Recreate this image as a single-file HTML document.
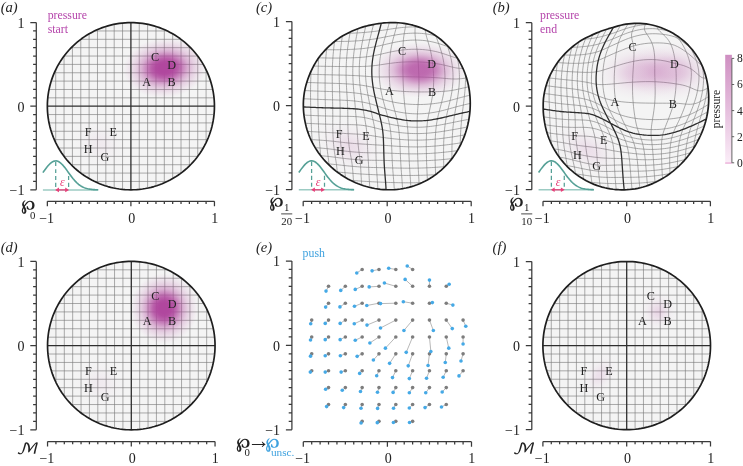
<!DOCTYPE html>
<html><head><meta charset="utf-8"><title>figure</title><style>html,body{margin:0;padding:0;background:#fff}svg{display:block}</style></head><body>
<svg width="743" height="466" viewBox="0 0 743 466">
<style>.tk{font-family:'Liberation Serif', 'DejaVu Serif', serif;font-size:14px;fill:#222}.lb{font-family:'Liberation Serif', 'DejaVu Serif', serif;font-size:12.2px;fill:#222}.pl{font-family:'Liberation Serif', 'DejaVu Serif', serif;font-size:14.6px;font-style:italic;fill:#222}.mg{font-family:'Liberation Serif', 'DejaVu Serif', serif;font-size:11.8px;fill:#b545ab}.sm{font-family:'Liberation Serif', 'DejaVu Serif', serif;font-size:10.8px;fill:#222}</style>
<rect width="743" height="466" fill="#fff"/>
<radialGradient id="g0"><stop offset="0" stop-color="#b0479e" stop-opacity="1.000"/><stop offset="0.14" stop-color="#b0479e" stop-opacity="1.000"/><stop offset="0.22" stop-color="#b0479e" stop-opacity="0.970"/><stop offset="0.33" stop-color="#b0479e" stop-opacity="0.840"/><stop offset="0.44" stop-color="#b0479e" stop-opacity="0.620"/><stop offset="0.55" stop-color="#b0479e" stop-opacity="0.400"/><stop offset="0.69" stop-color="#b0479e" stop-opacity="0.210"/><stop offset="0.83" stop-color="#b0479e" stop-opacity="0.095"/><stop offset="0.94" stop-color="#b0479e" stop-opacity="0.030"/><stop offset="1" stop-color="#b0479e" stop-opacity="0.000"/></radialGradient>
<radialGradient id="g1"><stop offset="0" stop-color="#b0479e" stop-opacity="0.060"/><stop offset="0.08" stop-color="#b0479e" stop-opacity="0.058"/><stop offset="0.17" stop-color="#b0479e" stop-opacity="0.053"/><stop offset="0.25" stop-color="#b0479e" stop-opacity="0.045"/><stop offset="0.33" stop-color="#b0479e" stop-opacity="0.036"/><stop offset="0.42" stop-color="#b0479e" stop-opacity="0.027"/><stop offset="0.5" stop-color="#b0479e" stop-opacity="0.019"/><stop offset="0.58" stop-color="#b0479e" stop-opacity="0.013"/><stop offset="0.67" stop-color="#b0479e" stop-opacity="0.008"/><stop offset="0.75" stop-color="#b0479e" stop-opacity="0.005"/><stop offset="0.83" stop-color="#b0479e" stop-opacity="0.003"/><stop offset="0.92" stop-color="#b0479e" stop-opacity="0.001"/><stop offset="1" stop-color="#b0479e" stop-opacity="0.000"/></radialGradient>
<clipPath id="clip_a"><path d="M214.45 106.2 L214.4 103.28 L214.25 100.37 L213.99 97.46 L213.64 94.57 L213.18 91.68 L212.62 88.82 L211.97 85.98 L211.21 83.16 L210.36 80.37 L209.41 77.61 L208.37 74.88 L207.23 72.2 L205.99 69.55 L204.67 66.95 L203.26 64.4 L201.75 61.9 L200.17 59.45 L198.49 57.06 L196.74 54.73 L194.9 52.46 L192.99 50.26 L191 48.13 L188.94 46.06 L186.81 44.07 L184.6 42.16 L182.34 40.32 L180.01 38.57 L177.62 36.89 L175.17 35.3 L172.68 33.8 L170.12 32.39 L167.53 31.06 L164.88 29.83 L162.2 28.69 L159.48 27.64 L156.72 26.69 L153.93 25.84 L151.11 25.08 L148.27 24.43 L145.41 23.87 L142.53 23.41 L139.63 23.06 L136.73 22.8 L133.82 22.65 L130.9 22.6 L127.98 22.65 L125.07 22.8 L122.17 23.06 L119.27 23.41 L116.39 23.87 L113.53 24.43 L110.69 25.08 L107.87 25.84 L105.08 26.69 L102.32 27.64 L99.6 28.69 L96.92 29.83 L94.27 31.06 L91.68 32.39 L89.13 33.8 L86.63 35.3 L84.18 36.89 L81.79 38.57 L79.46 40.32 L77.2 42.16 L74.99 44.07 L72.86 46.06 L70.8 48.13 L68.81 50.26 L66.9 52.46 L65.06 54.73 L63.31 57.06 L61.63 59.45 L60.05 61.9 L58.54 64.4 L57.13 66.95 L55.81 69.55 L54.57 72.2 L53.43 74.88 L52.39 77.61 L51.44 80.37 L50.59 83.16 L49.83 85.98 L49.18 88.82 L48.62 91.68 L48.16 94.57 L47.81 97.46 L47.55 100.37 L47.4 103.28 L47.35 106.2 L47.4 109.12 L47.55 112.03 L47.81 114.94 L48.16 117.83 L48.62 120.72 L49.18 123.58 L49.83 126.42 L50.59 129.24 L51.44 132.03 L52.39 134.79 L53.43 137.52 L54.57 140.2 L55.81 142.85 L57.13 145.45 L58.54 148 L60.05 150.5 L61.63 152.95 L63.31 155.34 L65.06 157.67 L66.9 159.94 L68.81 162.14 L70.8 164.27 L72.86 166.34 L74.99 168.33 L77.2 170.24 L79.46 172.08 L81.79 173.83 L84.18 175.51 L86.63 177.1 L89.12 178.6 L91.68 180.01 L94.27 181.34 L96.92 182.57 L99.6 183.71 L102.32 184.76 L105.08 185.71 L107.87 186.56 L110.69 187.32 L113.53 187.97 L116.39 188.53 L119.27 188.99 L122.17 189.34 L125.07 189.6 L127.98 189.75 L130.9 189.8 L133.82 189.75 L136.73 189.6 L139.63 189.34 L142.53 188.99 L145.41 188.53 L148.27 187.97 L151.11 187.32 L153.93 186.56 L156.72 185.71 L159.48 184.76 L162.2 183.71 L164.88 182.57 L167.53 181.34 L170.12 180.01 L172.68 178.6 L175.17 177.1 L177.62 175.51 L180.01 173.83 L182.34 172.08 L184.6 170.24 L186.81 168.33 L188.94 166.34 L191 164.27 L192.99 162.14 L194.9 159.94 L196.74 157.67 L198.49 155.34 L200.17 152.95 L201.75 150.5 L203.26 148 L204.67 145.45 L205.99 142.85 L207.23 140.2 L208.37 137.52 L209.41 134.79 L210.36 132.03 L211.21 129.24 L211.97 126.42 L212.62 123.58 L213.18 120.72 L213.64 117.83 L213.99 114.94 L214.25 112.03 L214.4 109.12Z"/></clipPath>
<path d="M214.45 106.2 L214.4 103.28 L214.25 100.37 L213.99 97.46 L213.64 94.57 L213.18 91.68 L212.62 88.82 L211.97 85.98 L211.21 83.16 L210.36 80.37 L209.41 77.61 L208.37 74.88 L207.23 72.2 L205.99 69.55 L204.67 66.95 L203.26 64.4 L201.75 61.9 L200.17 59.45 L198.49 57.06 L196.74 54.73 L194.9 52.46 L192.99 50.26 L191 48.13 L188.94 46.06 L186.81 44.07 L184.6 42.16 L182.34 40.32 L180.01 38.57 L177.62 36.89 L175.17 35.3 L172.68 33.8 L170.12 32.39 L167.53 31.06 L164.88 29.83 L162.2 28.69 L159.48 27.64 L156.72 26.69 L153.93 25.84 L151.11 25.08 L148.27 24.43 L145.41 23.87 L142.53 23.41 L139.63 23.06 L136.73 22.8 L133.82 22.65 L130.9 22.6 L127.98 22.65 L125.07 22.8 L122.17 23.06 L119.27 23.41 L116.39 23.87 L113.53 24.43 L110.69 25.08 L107.87 25.84 L105.08 26.69 L102.32 27.64 L99.6 28.69 L96.92 29.83 L94.27 31.06 L91.68 32.39 L89.13 33.8 L86.63 35.3 L84.18 36.89 L81.79 38.57 L79.46 40.32 L77.2 42.16 L74.99 44.07 L72.86 46.06 L70.8 48.13 L68.81 50.26 L66.9 52.46 L65.06 54.73 L63.31 57.06 L61.63 59.45 L60.05 61.9 L58.54 64.4 L57.13 66.95 L55.81 69.55 L54.57 72.2 L53.43 74.88 L52.39 77.61 L51.44 80.37 L50.59 83.16 L49.83 85.98 L49.18 88.82 L48.62 91.68 L48.16 94.57 L47.81 97.46 L47.55 100.37 L47.4 103.28 L47.35 106.2 L47.4 109.12 L47.55 112.03 L47.81 114.94 L48.16 117.83 L48.62 120.72 L49.18 123.58 L49.83 126.42 L50.59 129.24 L51.44 132.03 L52.39 134.79 L53.43 137.52 L54.57 140.2 L55.81 142.85 L57.13 145.45 L58.54 148 L60.05 150.5 L61.63 152.95 L63.31 155.34 L65.06 157.67 L66.9 159.94 L68.81 162.14 L70.8 164.27 L72.86 166.34 L74.99 168.33 L77.2 170.24 L79.46 172.08 L81.79 173.83 L84.18 175.51 L86.63 177.1 L89.12 178.6 L91.68 180.01 L94.27 181.34 L96.92 182.57 L99.6 183.71 L102.32 184.76 L105.08 185.71 L107.87 186.56 L110.69 187.32 L113.53 187.97 L116.39 188.53 L119.27 188.99 L122.17 189.34 L125.07 189.6 L127.98 189.75 L130.9 189.8 L133.82 189.75 L136.73 189.6 L139.63 189.34 L142.53 188.99 L145.41 188.53 L148.27 187.97 L151.11 187.32 L153.93 186.56 L156.72 185.71 L159.48 184.76 L162.2 183.71 L164.88 182.57 L167.53 181.34 L170.12 180.01 L172.68 178.6 L175.17 177.1 L177.62 175.51 L180.01 173.83 L182.34 172.08 L184.6 170.24 L186.81 168.33 L188.94 166.34 L191 164.27 L192.99 162.14 L194.9 159.94 L196.74 157.67 L198.49 155.34 L200.17 152.95 L201.75 150.5 L203.26 148 L204.67 145.45 L205.99 142.85 L207.23 140.2 L208.37 137.52 L209.41 134.79 L210.36 132.03 L211.21 129.24 L211.97 126.42 L212.62 123.58 L213.18 120.72 L213.64 117.83 L213.99 114.94 L214.25 112.03 L214.4 109.12Z" fill="#f4f4f4"/>
<path d="M55.71 142.64 L55.71 69.76 M94.48 181.44 L167.32 181.44 M64.06 156.36 L64.06 56.04 M80.77 173.08 L181.03 173.08 M72.42 165.9 L72.42 46.5 M71.23 164.72 L190.57 164.72 M80.77 173.08 L80.77 39.32 M64.06 156.36 L197.74 156.36 M89.12 178.6 L89.12 33.8 M58.54 148 L203.26 148 M97.48 182.82 L97.48 29.58 M54.33 139.64 L207.47 139.64 M105.84 185.95 L105.84 26.45 M51.2 131.28 L210.6 131.28 M114.19 188.11 L114.19 24.29 M49.04 122.92 L212.76 122.92 M122.55 189.38 L122.55 23.02 M47.77 114.56 L214.03 114.56 M139.25 189.38 L139.25 23.02 M47.77 97.84 L214.03 97.84 M147.61 188.11 L147.61 24.29 M49.04 89.48 L212.76 89.48 M155.97 185.95 L155.97 26.45 M51.2 81.12 L210.6 81.12 M164.32 182.82 L164.32 29.58 M54.33 72.76 L207.47 72.76 M172.68 178.6 L172.68 33.8 M58.54 64.4 L203.26 64.4 M181.03 173.08 L181.03 39.32 M64.06 56.04 L197.74 56.04 M189.38 165.9 L189.38 46.5 M71.23 47.68 L190.57 47.68 M197.74 156.36 L197.74 56.04 M80.77 39.32 L181.03 39.32 M206.09 142.64 L206.09 69.76 M94.48 30.96 L167.32 30.96" fill="none" stroke="#787878" stroke-width="0.62"/>
<g clip-path="url(#clip_a)">
<ellipse cx="164.74" cy="67.99" rx="42" ry="30" fill="url(#g0)" transform="rotate(-5 164.74 67.99)"/>
<ellipse cx="99.99" cy="143.82" rx="30.08" ry="25.08" fill="url(#g1)" transform="rotate(30 99.99 143.82)"/>
</g>
<path d="M130.9 189.8 L130.9 22.6 M47.35 106.2 L214.45 106.2" fill="none" stroke="#2e2e2e" stroke-width="1.3"/>
<path d="M214.45 106.2 L214.4 103.28 L214.25 100.37 L213.99 97.46 L213.64 94.57 L213.18 91.68 L212.62 88.82 L211.97 85.98 L211.21 83.16 L210.36 80.37 L209.41 77.61 L208.37 74.88 L207.23 72.2 L205.99 69.55 L204.67 66.95 L203.26 64.4 L201.75 61.9 L200.17 59.45 L198.49 57.06 L196.74 54.73 L194.9 52.46 L192.99 50.26 L191 48.13 L188.94 46.06 L186.81 44.07 L184.6 42.16 L182.34 40.32 L180.01 38.57 L177.62 36.89 L175.17 35.3 L172.68 33.8 L170.12 32.39 L167.53 31.06 L164.88 29.83 L162.2 28.69 L159.48 27.64 L156.72 26.69 L153.93 25.84 L151.11 25.08 L148.27 24.43 L145.41 23.87 L142.53 23.41 L139.63 23.06 L136.73 22.8 L133.82 22.65 L130.9 22.6 L127.98 22.65 L125.07 22.8 L122.17 23.06 L119.27 23.41 L116.39 23.87 L113.53 24.43 L110.69 25.08 L107.87 25.84 L105.08 26.69 L102.32 27.64 L99.6 28.69 L96.92 29.83 L94.27 31.06 L91.68 32.39 L89.13 33.8 L86.63 35.3 L84.18 36.89 L81.79 38.57 L79.46 40.32 L77.2 42.16 L74.99 44.07 L72.86 46.06 L70.8 48.13 L68.81 50.26 L66.9 52.46 L65.06 54.73 L63.31 57.06 L61.63 59.45 L60.05 61.9 L58.54 64.4 L57.13 66.95 L55.81 69.55 L54.57 72.2 L53.43 74.88 L52.39 77.61 L51.44 80.37 L50.59 83.16 L49.83 85.98 L49.18 88.82 L48.62 91.68 L48.16 94.57 L47.81 97.46 L47.55 100.37 L47.4 103.28 L47.35 106.2 L47.4 109.12 L47.55 112.03 L47.81 114.94 L48.16 117.83 L48.62 120.72 L49.18 123.58 L49.83 126.42 L50.59 129.24 L51.44 132.03 L52.39 134.79 L53.43 137.52 L54.57 140.2 L55.81 142.85 L57.13 145.45 L58.54 148 L60.05 150.5 L61.63 152.95 L63.31 155.34 L65.06 157.67 L66.9 159.94 L68.81 162.14 L70.8 164.27 L72.86 166.34 L74.99 168.33 L77.2 170.24 L79.46 172.08 L81.79 173.83 L84.18 175.51 L86.63 177.1 L89.12 178.6 L91.68 180.01 L94.27 181.34 L96.92 182.57 L99.6 183.71 L102.32 184.76 L105.08 185.71 L107.87 186.56 L110.69 187.32 L113.53 187.97 L116.39 188.53 L119.27 188.99 L122.17 189.34 L125.07 189.6 L127.98 189.75 L130.9 189.8 L133.82 189.75 L136.73 189.6 L139.63 189.34 L142.53 188.99 L145.41 188.53 L148.27 187.97 L151.11 187.32 L153.93 186.56 L156.72 185.71 L159.48 184.76 L162.2 183.71 L164.88 182.57 L167.53 181.34 L170.12 180.01 L172.68 178.6 L175.17 177.1 L177.62 175.51 L180.01 173.83 L182.34 172.08 L184.6 170.24 L186.81 168.33 L188.94 166.34 L191 164.27 L192.99 162.14 L194.9 159.94 L196.74 157.67 L198.49 155.34 L200.17 152.95 L201.75 150.5 L203.26 148 L204.67 145.45 L205.99 142.85 L207.23 140.2 L208.37 137.52 L209.41 134.79 L210.36 132.03 L211.21 129.24 L211.97 126.42 L212.62 123.58 L213.18 120.72 L213.64 117.83 L213.99 114.94 L214.25 112.03 L214.4 109.12Z" fill="none" stroke="#1e1e1e" stroke-width="1.7" stroke-linejoin="round"/>
<text x="146.61" y="85.72" text-anchor="middle" class="lb">A</text>
<text x="171.68" y="85.72" text-anchor="middle" class="lb">B</text>
<text x="154.97" y="60.64" text-anchor="middle" class="lb">C</text>
<text x="171.68" y="69" text-anchor="middle" class="lb">D</text>
<text x="88.12" y="135.88" text-anchor="middle" class="lb">F</text>
<text x="113.19" y="135.88" text-anchor="middle" class="lb">E</text>
<text x="88.12" y="152.6" text-anchor="middle" class="lb">H</text>
<text x="104.84" y="160.96" text-anchor="middle" class="lb">G</text>
<path d="M36.3 22.6 V189.8 M36.3 189.8 h-6 M36.3 181.44 h-3.2 M36.3 173.08 h-3.2 M36.3 164.72 h-3.2 M36.3 156.36 h-3.2 M36.3 148 h-3.2 M36.3 139.64 h-3.2 M36.3 131.28 h-3.2 M36.3 122.92 h-3.2 M36.3 114.56 h-3.2 M36.3 106.2 h-6 M36.3 97.84 h-3.2 M36.3 89.48 h-3.2 M36.3 81.12 h-3.2 M36.3 72.76 h-3.2 M36.3 64.4 h-3.2 M36.3 56.04 h-3.2 M36.3 47.68 h-3.2 M36.3 39.32 h-3.2 M36.3 30.96 h-3.2 M36.3 22.6 h-6 M47.35 201.3 H214.45 M47.35 201.3 v5 M55.71 201.3 v2.8 M64.06 201.3 v2.8 M72.42 201.3 v2.8 M80.77 201.3 v2.8 M89.12 201.3 v2.8 M97.48 201.3 v2.8 M105.84 201.3 v2.8 M114.19 201.3 v2.8 M122.55 201.3 v2.8 M130.9 201.3 v5 M139.25 201.3 v2.8 M147.61 201.3 v2.8 M155.97 201.3 v2.8 M164.32 201.3 v2.8 M172.68 201.3 v2.8 M181.03 201.3 v2.8 M189.38 201.3 v2.8 M197.74 201.3 v2.8 M206.09 201.3 v2.8 M214.45 201.3 v5" fill="none" stroke="#3a3a3a" stroke-width="1.25"/>
<text x="24.5" y="28" text-anchor="end" class="tk">1</text>
<text x="214.75" y="222.9" text-anchor="middle" class="tk">1</text>
<text x="24.5" y="111.6" text-anchor="end" class="tk">0</text>
<text x="131.8" y="222.9" text-anchor="middle" class="tk">0</text>
<text x="24.5" y="195.2" text-anchor="end" class="tk">−1</text>
<text x="46.65" y="222.9" text-anchor="middle" class="tk">−1</text>
<path d="M42.91 189.9 H98.21" stroke="#9ccbc3" stroke-width="1.5" fill="none"/>
<path d="M42.91 172.59 L43.84 171.28 L44.78 169.99 L45.72 168.72 L46.65 167.49 L47.59 166.33 L48.53 165.24 L49.47 164.25 L50.4 163.36 L51.34 162.59 L52.28 161.95 L53.22 161.46 L54.15 161.12 L55.09 160.93 L56.03 160.91 L56.96 161.04 L57.9 161.34 L58.84 161.78 L59.78 162.37 L60.71 163.1 L61.65 163.96 L62.59 164.92 L63.53 165.98 L64.46 167.12 L65.4 168.33 L66.34 169.59 L67.27 170.88 L68.21 172.18 L69.15 173.49 L70.09 174.78 L71.02 176.05 L71.96 177.28 L72.9 178.47 L73.84 179.6 L74.77 180.67 L75.71 181.68 L76.65 182.61 L77.58 183.48 L78.52 184.27 L79.46 185 L80.4 185.65 L81.33 186.24 L82.27 186.76 L83.21 187.22 L84.15 187.63 L85.08 187.99 L86.02 188.3 L86.96 188.56 L87.89 188.79 L88.83 188.99 L89.77 189.15 L90.71 189.29 L91.64 189.4 L92.58 189.5 L93.52 189.58 L94.46 189.64 L95.39 189.7 L96.33 189.74 L97.27 189.77 L98.21 189.8" stroke="#55a096" stroke-width="1.6" fill="none"/>
<path d="M55.71 161.9 V166 M55.71 169.2 V173.1 M55.71 175.9 V180 M55.71 182.8 V186.9 M68.61 175.9 V180 M68.61 182.8 V186.9" stroke="#55a096" stroke-width="1.25" fill="none"/>
<path d="M57.11 189.9 H67.11" stroke="#e8417a" stroke-width="1.3" fill="none"/>
<path d="M55.11 189.9 l3.9 -2.3 v4.6z M69.11 189.9 l-3.9 -2.3 v4.6z" fill="#e8417a"/>
<text x="62.31" y="186.2" text-anchor="middle" font-family="'Liberation Serif', 'DejaVu Serif', serif" font-style="italic" font-size="11.8" fill="#e8417a">ε</text>
<radialGradient id="g2"><stop offset="0" stop-color="#b0479e" stop-opacity="1.000"/><stop offset="0.14" stop-color="#b0479e" stop-opacity="1.000"/><stop offset="0.22" stop-color="#b0479e" stop-opacity="0.970"/><stop offset="0.33" stop-color="#b0479e" stop-opacity="0.840"/><stop offset="0.44" stop-color="#b0479e" stop-opacity="0.620"/><stop offset="0.55" stop-color="#b0479e" stop-opacity="0.400"/><stop offset="0.69" stop-color="#b0479e" stop-opacity="0.210"/><stop offset="0.83" stop-color="#b0479e" stop-opacity="0.095"/><stop offset="0.94" stop-color="#b0479e" stop-opacity="0.030"/><stop offset="1" stop-color="#b0479e" stop-opacity="0.000"/></radialGradient>
<radialGradient id="g3"><stop offset="0" stop-color="#b0479e" stop-opacity="0.060"/><stop offset="0.08" stop-color="#b0479e" stop-opacity="0.058"/><stop offset="0.17" stop-color="#b0479e" stop-opacity="0.053"/><stop offset="0.25" stop-color="#b0479e" stop-opacity="0.045"/><stop offset="0.33" stop-color="#b0479e" stop-opacity="0.036"/><stop offset="0.42" stop-color="#b0479e" stop-opacity="0.027"/><stop offset="0.5" stop-color="#b0479e" stop-opacity="0.019"/><stop offset="0.58" stop-color="#b0479e" stop-opacity="0.013"/><stop offset="0.67" stop-color="#b0479e" stop-opacity="0.008"/><stop offset="0.75" stop-color="#b0479e" stop-opacity="0.005"/><stop offset="0.83" stop-color="#b0479e" stop-opacity="0.003"/><stop offset="0.92" stop-color="#b0479e" stop-opacity="0.001"/><stop offset="1" stop-color="#b0479e" stop-opacity="0.000"/></radialGradient>
<clipPath id="clip_d"><path d="M215.05 345.6 L215 342.66 L214.85 339.73 L214.59 336.8 L214.23 333.88 L213.78 330.98 L213.22 328.09 L212.56 325.23 L211.81 322.39 L210.95 319.58 L210 316.8 L208.95 314.06 L207.81 311.35 L206.57 308.69 L205.25 306.07 L203.83 303.5 L202.32 300.98 L200.73 298.52 L199.06 296.11 L197.3 293.76 L195.46 291.48 L193.54 289.26 L191.54 287.11 L189.48 285.03 L187.34 283.03 L185.13 281.1 L182.86 279.25 L180.53 277.48 L178.13 275.8 L175.68 274.19 L173.18 272.68 L170.62 271.26 L168.01 269.92 L165.36 268.68 L162.67 267.53 L159.94 266.48 L157.18 265.52 L154.38 264.66 L151.56 263.9 L148.71 263.24 L145.84 262.68 L142.96 262.22 L140.05 261.86 L137.14 261.61 L134.22 261.45 L131.3 261.4 L128.38 261.45 L125.46 261.61 L122.55 261.86 L119.64 262.22 L116.76 262.68 L113.89 263.24 L111.04 263.9 L108.22 264.66 L105.42 265.52 L102.66 266.48 L99.93 267.53 L97.24 268.68 L94.59 269.92 L91.98 271.26 L89.43 272.68 L86.92 274.19 L84.47 275.8 L82.07 277.48 L79.74 279.25 L77.47 281.1 L75.26 283.03 L73.12 285.03 L71.06 287.11 L69.06 289.26 L67.14 291.48 L65.3 293.76 L63.54 296.11 L61.87 298.52 L60.28 300.98 L58.77 303.5 L57.35 306.07 L56.03 308.69 L54.79 311.35 L53.65 314.06 L52.6 316.8 L51.65 319.58 L50.79 322.39 L50.04 325.23 L49.38 328.09 L48.82 330.98 L48.37 333.88 L48.01 336.8 L47.75 339.73 L47.6 342.66 L47.55 345.6 L47.6 348.54 L47.75 351.47 L48.01 354.4 L48.37 357.32 L48.82 360.22 L49.38 363.11 L50.04 365.97 L50.79 368.81 L51.65 371.62 L52.6 374.4 L53.65 377.14 L54.79 379.85 L56.03 382.51 L57.35 385.13 L58.77 387.7 L60.28 390.22 L61.87 392.68 L63.54 395.09 L65.3 397.44 L67.14 399.72 L69.06 401.94 L71.06 404.09 L73.12 406.17 L75.26 408.17 L77.47 410.1 L79.74 411.95 L82.07 413.72 L84.47 415.4 L86.92 417.01 L89.42 418.52 L91.98 419.94 L94.59 421.28 L97.24 422.52 L99.93 423.67 L102.66 424.72 L105.42 425.68 L108.22 426.54 L111.04 427.3 L113.89 427.96 L116.76 428.52 L119.64 428.98 L122.55 429.34 L125.46 429.59 L128.38 429.75 L131.3 429.8 L134.22 429.75 L137.14 429.59 L140.05 429.34 L142.96 428.98 L145.84 428.52 L148.71 427.96 L151.56 427.3 L154.38 426.54 L157.18 425.68 L159.94 424.72 L162.67 423.67 L165.36 422.52 L168.01 421.28 L170.62 419.94 L173.18 418.52 L175.68 417.01 L178.13 415.4 L180.53 413.72 L182.86 411.95 L185.13 410.1 L187.34 408.17 L189.48 406.17 L191.54 404.09 L193.54 401.94 L195.46 399.72 L197.3 397.44 L199.06 395.09 L200.73 392.68 L202.32 390.22 L203.83 387.7 L205.25 385.13 L206.57 382.51 L207.81 379.85 L208.95 377.14 L210 374.4 L210.95 371.62 L211.81 368.81 L212.56 365.97 L213.22 363.11 L213.78 360.22 L214.23 357.32 L214.59 354.4 L214.85 351.47 L215 348.54Z"/></clipPath>
<path d="M215.05 345.6 L215 342.66 L214.85 339.73 L214.59 336.8 L214.23 333.88 L213.78 330.98 L213.22 328.09 L212.56 325.23 L211.81 322.39 L210.95 319.58 L210 316.8 L208.95 314.06 L207.81 311.35 L206.57 308.69 L205.25 306.07 L203.83 303.5 L202.32 300.98 L200.73 298.52 L199.06 296.11 L197.3 293.76 L195.46 291.48 L193.54 289.26 L191.54 287.11 L189.48 285.03 L187.34 283.03 L185.13 281.1 L182.86 279.25 L180.53 277.48 L178.13 275.8 L175.68 274.19 L173.18 272.68 L170.62 271.26 L168.01 269.92 L165.36 268.68 L162.67 267.53 L159.94 266.48 L157.18 265.52 L154.38 264.66 L151.56 263.9 L148.71 263.24 L145.84 262.68 L142.96 262.22 L140.05 261.86 L137.14 261.61 L134.22 261.45 L131.3 261.4 L128.38 261.45 L125.46 261.61 L122.55 261.86 L119.64 262.22 L116.76 262.68 L113.89 263.24 L111.04 263.9 L108.22 264.66 L105.42 265.52 L102.66 266.48 L99.93 267.53 L97.24 268.68 L94.59 269.92 L91.98 271.26 L89.43 272.68 L86.92 274.19 L84.47 275.8 L82.07 277.48 L79.74 279.25 L77.47 281.1 L75.26 283.03 L73.12 285.03 L71.06 287.11 L69.06 289.26 L67.14 291.48 L65.3 293.76 L63.54 296.11 L61.87 298.52 L60.28 300.98 L58.77 303.5 L57.35 306.07 L56.03 308.69 L54.79 311.35 L53.65 314.06 L52.6 316.8 L51.65 319.58 L50.79 322.39 L50.04 325.23 L49.38 328.09 L48.82 330.98 L48.37 333.88 L48.01 336.8 L47.75 339.73 L47.6 342.66 L47.55 345.6 L47.6 348.54 L47.75 351.47 L48.01 354.4 L48.37 357.32 L48.82 360.22 L49.38 363.11 L50.04 365.97 L50.79 368.81 L51.65 371.62 L52.6 374.4 L53.65 377.14 L54.79 379.85 L56.03 382.51 L57.35 385.13 L58.77 387.7 L60.28 390.22 L61.87 392.68 L63.54 395.09 L65.3 397.44 L67.14 399.72 L69.06 401.94 L71.06 404.09 L73.12 406.17 L75.26 408.17 L77.47 410.1 L79.74 411.95 L82.07 413.72 L84.47 415.4 L86.92 417.01 L89.42 418.52 L91.98 419.94 L94.59 421.28 L97.24 422.52 L99.93 423.67 L102.66 424.72 L105.42 425.68 L108.22 426.54 L111.04 427.3 L113.89 427.96 L116.76 428.52 L119.64 428.98 L122.55 429.34 L125.46 429.59 L128.38 429.75 L131.3 429.8 L134.22 429.75 L137.14 429.59 L140.05 429.34 L142.96 428.98 L145.84 428.52 L148.71 427.96 L151.56 427.3 L154.38 426.54 L157.18 425.68 L159.94 424.72 L162.67 423.67 L165.36 422.52 L168.01 421.28 L170.62 419.94 L173.18 418.52 L175.68 417.01 L178.13 415.4 L180.53 413.72 L182.86 411.95 L185.13 410.1 L187.34 408.17 L189.48 406.17 L191.54 404.09 L193.54 401.94 L195.46 399.72 L197.3 397.44 L199.06 395.09 L200.73 392.68 L202.32 390.22 L203.83 387.7 L205.25 385.13 L206.57 382.51 L207.81 379.85 L208.95 377.14 L210 374.4 L210.95 371.62 L211.81 368.81 L212.56 365.97 L213.22 363.11 L213.78 360.22 L214.23 357.32 L214.59 354.4 L214.85 351.47 L215 348.54Z" fill="#f4f4f4"/>
<path d="M55.93 382.3 L55.93 308.9 M94.79 421.38 L167.81 421.38 M64.3 396.12 L64.3 295.08 M81.05 412.96 L181.55 412.96 M72.68 405.73 L72.68 285.47 M71.49 404.54 L191.11 404.54 M81.05 412.96 L81.05 278.24 M64.3 396.12 L198.3 396.12 M89.43 418.52 L89.43 272.68 M58.77 387.7 L203.83 387.7 M97.8 422.77 L97.8 268.43 M54.54 379.28 L208.06 379.28 M106.18 425.92 L106.18 265.28 M51.41 370.86 L211.19 370.86 M114.55 428.1 L114.55 263.1 M49.24 362.44 L213.36 362.44 M122.93 429.38 L122.93 261.82 M47.97 354.02 L214.63 354.02 M139.68 429.38 L139.68 261.82 M47.97 337.18 L214.63 337.18 M148.05 428.1 L148.05 263.1 M49.24 328.76 L213.36 328.76 M156.43 425.92 L156.43 265.28 M51.41 320.34 L211.19 320.34 M164.8 422.77 L164.8 268.43 M54.54 311.92 L208.06 311.92 M173.18 418.52 L173.18 272.68 M58.77 303.5 L203.83 303.5 M181.55 412.96 L181.55 278.24 M64.3 295.08 L198.3 295.08 M189.93 405.73 L189.93 285.47 M71.49 286.66 L191.11 286.66 M198.3 396.12 L198.3 295.08 M81.05 278.24 L181.55 278.24 M206.68 382.3 L206.68 308.9 M94.79 269.82 L167.81 269.82" fill="none" stroke="#787878" stroke-width="0.62"/>
<g clip-path="url(#clip_d)">
<ellipse cx="164.13" cy="308.38" rx="34" ry="35" fill="url(#g2)"/>
<ellipse cx="100.31" cy="383.49" rx="30.15" ry="25.26" fill="url(#g3)" transform="rotate(30 100.31 383.49)"/>
</g>
<path d="M131.3 429.8 L131.3 261.4 M47.55 345.6 L215.05 345.6" fill="none" stroke="#2e2e2e" stroke-width="1.3"/>
<path d="M215.05 345.6 L215 342.66 L214.85 339.73 L214.59 336.8 L214.23 333.88 L213.78 330.98 L213.22 328.09 L212.56 325.23 L211.81 322.39 L210.95 319.58 L210 316.8 L208.95 314.06 L207.81 311.35 L206.57 308.69 L205.25 306.07 L203.83 303.5 L202.32 300.98 L200.73 298.52 L199.06 296.11 L197.3 293.76 L195.46 291.48 L193.54 289.26 L191.54 287.11 L189.48 285.03 L187.34 283.03 L185.13 281.1 L182.86 279.25 L180.53 277.48 L178.13 275.8 L175.68 274.19 L173.18 272.68 L170.62 271.26 L168.01 269.92 L165.36 268.68 L162.67 267.53 L159.94 266.48 L157.18 265.52 L154.38 264.66 L151.56 263.9 L148.71 263.24 L145.84 262.68 L142.96 262.22 L140.05 261.86 L137.14 261.61 L134.22 261.45 L131.3 261.4 L128.38 261.45 L125.46 261.61 L122.55 261.86 L119.64 262.22 L116.76 262.68 L113.89 263.24 L111.04 263.9 L108.22 264.66 L105.42 265.52 L102.66 266.48 L99.93 267.53 L97.24 268.68 L94.59 269.92 L91.98 271.26 L89.43 272.68 L86.92 274.19 L84.47 275.8 L82.07 277.48 L79.74 279.25 L77.47 281.1 L75.26 283.03 L73.12 285.03 L71.06 287.11 L69.06 289.26 L67.14 291.48 L65.3 293.76 L63.54 296.11 L61.87 298.52 L60.28 300.98 L58.77 303.5 L57.35 306.07 L56.03 308.69 L54.79 311.35 L53.65 314.06 L52.6 316.8 L51.65 319.58 L50.79 322.39 L50.04 325.23 L49.38 328.09 L48.82 330.98 L48.37 333.88 L48.01 336.8 L47.75 339.73 L47.6 342.66 L47.55 345.6 L47.6 348.54 L47.75 351.47 L48.01 354.4 L48.37 357.32 L48.82 360.22 L49.38 363.11 L50.04 365.97 L50.79 368.81 L51.65 371.62 L52.6 374.4 L53.65 377.14 L54.79 379.85 L56.03 382.51 L57.35 385.13 L58.77 387.7 L60.28 390.22 L61.87 392.68 L63.54 395.09 L65.3 397.44 L67.14 399.72 L69.06 401.94 L71.06 404.09 L73.12 406.17 L75.26 408.17 L77.47 410.1 L79.74 411.95 L82.07 413.72 L84.47 415.4 L86.92 417.01 L89.42 418.52 L91.98 419.94 L94.59 421.28 L97.24 422.52 L99.93 423.67 L102.66 424.72 L105.42 425.68 L108.22 426.54 L111.04 427.3 L113.89 427.96 L116.76 428.52 L119.64 428.98 L122.55 429.34 L125.46 429.59 L128.38 429.75 L131.3 429.8 L134.22 429.75 L137.14 429.59 L140.05 429.34 L142.96 428.98 L145.84 428.52 L148.71 427.96 L151.56 427.3 L154.38 426.54 L157.18 425.68 L159.94 424.72 L162.67 423.67 L165.36 422.52 L168.01 421.28 L170.62 419.94 L173.18 418.52 L175.68 417.01 L178.13 415.4 L180.53 413.72 L182.86 411.95 L185.13 410.1 L187.34 408.17 L189.48 406.17 L191.54 404.09 L193.54 401.94 L195.46 399.72 L197.3 397.44 L199.06 395.09 L200.73 392.68 L202.32 390.22 L203.83 387.7 L205.25 385.13 L206.57 382.51 L207.81 379.85 L208.95 377.14 L210 374.4 L210.95 371.62 L211.81 368.81 L212.56 365.97 L213.22 363.11 L213.78 360.22 L214.23 357.32 L214.59 354.4 L214.85 351.47 L215 348.54Z" fill="none" stroke="#1e1e1e" stroke-width="1.7" stroke-linejoin="round"/>
<text x="147.05" y="324.94" text-anchor="middle" class="lb">A</text>
<text x="172.18" y="324.94" text-anchor="middle" class="lb">B</text>
<text x="155.43" y="299.68" text-anchor="middle" class="lb">C</text>
<text x="172.18" y="308.1" text-anchor="middle" class="lb">D</text>
<text x="88.43" y="375.46" text-anchor="middle" class="lb">F</text>
<text x="113.55" y="375.46" text-anchor="middle" class="lb">E</text>
<text x="88.43" y="392.3" text-anchor="middle" class="lb">H</text>
<text x="105.18" y="400.72" text-anchor="middle" class="lb">G</text>
<path d="M36.3 261.4 V429.8 M36.3 429.8 h-6 M36.3 421.38 h-3.2 M36.3 412.96 h-3.2 M36.3 404.54 h-3.2 M36.3 396.12 h-3.2 M36.3 387.7 h-3.2 M36.3 379.28 h-3.2 M36.3 370.86 h-3.2 M36.3 362.44 h-3.2 M36.3 354.02 h-3.2 M36.3 345.6 h-6 M36.3 337.18 h-3.2 M36.3 328.76 h-3.2 M36.3 320.34 h-3.2 M36.3 311.92 h-3.2 M36.3 303.5 h-3.2 M36.3 295.08 h-3.2 M36.3 286.66 h-3.2 M36.3 278.24 h-3.2 M36.3 269.82 h-3.2 M36.3 261.4 h-6 M47.55 441.5 H215.05 M47.55 441.5 v5 M55.93 441.5 v2.8 M64.3 441.5 v2.8 M72.68 441.5 v2.8 M81.05 441.5 v2.8 M89.43 441.5 v2.8 M97.8 441.5 v2.8 M106.18 441.5 v2.8 M114.55 441.5 v2.8 M122.93 441.5 v2.8 M131.3 441.5 v5 M139.68 441.5 v2.8 M148.05 441.5 v2.8 M156.43 441.5 v2.8 M164.8 441.5 v2.8 M173.18 441.5 v2.8 M181.55 441.5 v2.8 M189.93 441.5 v2.8 M198.3 441.5 v2.8 M206.68 441.5 v2.8 M215.05 441.5 v5" fill="none" stroke="#3a3a3a" stroke-width="1.25"/>
<text x="24.5" y="266.8" text-anchor="end" class="tk">1</text>
<text x="215.35" y="463.1" text-anchor="middle" class="tk">1</text>
<text x="24.5" y="351" text-anchor="end" class="tk">0</text>
<text x="132.2" y="463.1" text-anchor="middle" class="tk">0</text>
<text x="24.5" y="435.2" text-anchor="end" class="tk">−1</text>
<text x="46.85" y="463.1" text-anchor="middle" class="tk">−1</text>
<radialGradient id="g4"><stop offset="0" stop-color="#b0479e" stop-opacity="0.170"/><stop offset="0.08" stop-color="#b0479e" stop-opacity="0.165"/><stop offset="0.17" stop-color="#b0479e" stop-opacity="0.150"/><stop offset="0.25" stop-color="#b0479e" stop-opacity="0.128"/><stop offset="0.33" stop-color="#b0479e" stop-opacity="0.103"/><stop offset="0.42" stop-color="#b0479e" stop-opacity="0.078"/><stop offset="0.5" stop-color="#b0479e" stop-opacity="0.055"/><stop offset="0.58" stop-color="#b0479e" stop-opacity="0.037"/><stop offset="0.67" stop-color="#b0479e" stop-opacity="0.023"/><stop offset="0.75" stop-color="#b0479e" stop-opacity="0.014"/><stop offset="0.83" stop-color="#b0479e" stop-opacity="0.007"/><stop offset="0.92" stop-color="#b0479e" stop-opacity="0.004"/><stop offset="1" stop-color="#b0479e" stop-opacity="0.000"/></radialGradient>
<radialGradient id="g5"><stop offset="0" stop-color="#b0479e" stop-opacity="0.120"/><stop offset="0.08" stop-color="#b0479e" stop-opacity="0.116"/><stop offset="0.17" stop-color="#b0479e" stop-opacity="0.106"/><stop offset="0.25" stop-color="#b0479e" stop-opacity="0.091"/><stop offset="0.33" stop-color="#b0479e" stop-opacity="0.073"/><stop offset="0.42" stop-color="#b0479e" stop-opacity="0.055"/><stop offset="0.5" stop-color="#b0479e" stop-opacity="0.039"/><stop offset="0.58" stop-color="#b0479e" stop-opacity="0.026"/><stop offset="0.67" stop-color="#b0479e" stop-opacity="0.016"/><stop offset="0.75" stop-color="#b0479e" stop-opacity="0.010"/><stop offset="0.83" stop-color="#b0479e" stop-opacity="0.005"/><stop offset="0.92" stop-color="#b0479e" stop-opacity="0.003"/><stop offset="1" stop-color="#b0479e" stop-opacity="0.000"/></radialGradient>
<clipPath id="clip_f"><path d="M710.5 345.6 L710.45 342.66 L710.3 339.73 L710.04 336.81 L709.68 333.9 L709.23 331 L708.67 328.11 L708.01 325.25 L707.25 322.42 L706.4 319.61 L705.45 316.84 L704.4 314.1 L703.26 311.39 L702.02 308.73 L700.69 306.12 L699.27 303.55 L697.77 301.03 L696.17 298.57 L694.5 296.17 L692.74 293.82 L690.89 291.54 L688.98 289.33 L686.98 287.18 L684.91 285.1 L682.77 283.1 L680.57 281.18 L678.29 279.33 L675.96 277.56 L673.56 275.88 L671.11 274.28 L668.6 272.77 L666.04 271.34 L663.44 270.01 L660.78 268.77 L658.09 267.62 L655.36 266.57 L652.6 265.62 L649.8 264.76 L646.97 264 L644.12 263.34 L641.25 262.78 L638.36 262.32 L635.46 261.96 L632.55 261.7 L629.62 261.55 L626.7 261.5 L623.78 261.55 L620.85 261.7 L617.94 261.96 L615.04 262.32 L612.15 262.78 L609.28 263.34 L606.43 264 L603.6 264.76 L600.8 265.62 L598.04 266.57 L595.31 267.62 L592.62 268.77 L589.96 270.01 L587.36 271.34 L584.8 272.77 L582.29 274.28 L579.84 275.88 L577.44 277.56 L575.11 279.33 L572.83 281.18 L570.63 283.1 L568.49 285.1 L566.42 287.18 L564.42 289.33 L562.51 291.54 L560.66 293.82 L558.9 296.17 L557.23 298.57 L555.63 301.03 L554.13 303.55 L552.71 306.12 L551.38 308.73 L550.14 311.39 L549 314.1 L547.95 316.84 L547 319.61 L546.15 322.42 L545.39 325.25 L544.73 328.11 L544.17 331 L543.72 333.9 L543.36 336.81 L543.1 339.73 L542.95 342.66 L542.9 345.6 L542.95 348.54 L543.1 351.47 L543.36 354.39 L543.72 357.3 L544.17 360.2 L544.73 363.09 L545.39 365.95 L546.15 368.78 L547 371.59 L547.95 374.36 L549 377.1 L550.14 379.81 L551.38 382.47 L552.71 385.08 L554.13 387.65 L555.63 390.17 L557.23 392.63 L558.9 395.03 L560.66 397.38 L562.51 399.66 L564.42 401.87 L566.42 404.02 L568.49 406.1 L570.63 408.1 L572.83 410.02 L575.11 411.87 L577.44 413.64 L579.84 415.32 L582.29 416.92 L584.8 418.43 L587.36 419.86 L589.96 421.19 L592.62 422.43 L595.31 423.58 L598.04 424.63 L600.8 425.58 L603.6 426.44 L606.43 427.2 L609.28 427.86 L612.15 428.42 L615.04 428.88 L617.94 429.24 L620.85 429.5 L623.78 429.65 L626.7 429.7 L629.62 429.65 L632.55 429.5 L635.46 429.24 L638.36 428.88 L641.25 428.42 L644.12 427.86 L646.97 427.2 L649.8 426.44 L652.6 425.58 L655.36 424.63 L658.09 423.58 L660.78 422.43 L663.44 421.19 L666.04 419.86 L668.6 418.43 L671.11 416.92 L673.56 415.32 L675.96 413.64 L678.29 411.87 L680.57 410.02 L682.77 408.1 L684.91 406.1 L686.98 404.02 L688.98 401.87 L690.89 399.66 L692.74 397.38 L694.5 395.03 L696.17 392.63 L697.77 390.17 L699.27 387.65 L700.69 385.08 L702.02 382.47 L703.26 379.81 L704.4 377.1 L705.45 374.36 L706.4 371.59 L707.25 368.78 L708.01 365.95 L708.67 363.09 L709.23 360.2 L709.68 357.3 L710.04 354.39 L710.3 351.47 L710.45 348.54Z"/></clipPath>
<path d="M710.5 345.6 L710.45 342.66 L710.3 339.73 L710.04 336.81 L709.68 333.9 L709.23 331 L708.67 328.11 L708.01 325.25 L707.25 322.42 L706.4 319.61 L705.45 316.84 L704.4 314.1 L703.26 311.39 L702.02 308.73 L700.69 306.12 L699.27 303.55 L697.77 301.03 L696.17 298.57 L694.5 296.17 L692.74 293.82 L690.89 291.54 L688.98 289.33 L686.98 287.18 L684.91 285.1 L682.77 283.1 L680.57 281.18 L678.29 279.33 L675.96 277.56 L673.56 275.88 L671.11 274.28 L668.6 272.77 L666.04 271.34 L663.44 270.01 L660.78 268.77 L658.09 267.62 L655.36 266.57 L652.6 265.62 L649.8 264.76 L646.97 264 L644.12 263.34 L641.25 262.78 L638.36 262.32 L635.46 261.96 L632.55 261.7 L629.62 261.55 L626.7 261.5 L623.78 261.55 L620.85 261.7 L617.94 261.96 L615.04 262.32 L612.15 262.78 L609.28 263.34 L606.43 264 L603.6 264.76 L600.8 265.62 L598.04 266.57 L595.31 267.62 L592.62 268.77 L589.96 270.01 L587.36 271.34 L584.8 272.77 L582.29 274.28 L579.84 275.88 L577.44 277.56 L575.11 279.33 L572.83 281.18 L570.63 283.1 L568.49 285.1 L566.42 287.18 L564.42 289.33 L562.51 291.54 L560.66 293.82 L558.9 296.17 L557.23 298.57 L555.63 301.03 L554.13 303.55 L552.71 306.12 L551.38 308.73 L550.14 311.39 L549 314.1 L547.95 316.84 L547 319.61 L546.15 322.42 L545.39 325.25 L544.73 328.11 L544.17 331 L543.72 333.9 L543.36 336.81 L543.1 339.73 L542.95 342.66 L542.9 345.6 L542.95 348.54 L543.1 351.47 L543.36 354.39 L543.72 357.3 L544.17 360.2 L544.73 363.09 L545.39 365.95 L546.15 368.78 L547 371.59 L547.95 374.36 L549 377.1 L550.14 379.81 L551.38 382.47 L552.71 385.08 L554.13 387.65 L555.63 390.17 L557.23 392.63 L558.9 395.03 L560.66 397.38 L562.51 399.66 L564.42 401.87 L566.42 404.02 L568.49 406.1 L570.63 408.1 L572.83 410.02 L575.11 411.87 L577.44 413.64 L579.84 415.32 L582.29 416.92 L584.8 418.43 L587.36 419.86 L589.96 421.19 L592.62 422.43 L595.31 423.58 L598.04 424.63 L600.8 425.58 L603.6 426.44 L606.43 427.2 L609.28 427.86 L612.15 428.42 L615.04 428.88 L617.94 429.24 L620.85 429.5 L623.78 429.65 L626.7 429.7 L629.62 429.65 L632.55 429.5 L635.46 429.24 L638.36 428.88 L641.25 428.42 L644.12 427.86 L646.97 427.2 L649.8 426.44 L652.6 425.58 L655.36 424.63 L658.09 423.58 L660.78 422.43 L663.44 421.19 L666.04 419.86 L668.6 418.43 L671.11 416.92 L673.56 415.32 L675.96 413.64 L678.29 411.87 L680.57 410.02 L682.77 408.1 L684.91 406.1 L686.98 404.02 L688.98 401.87 L690.89 399.66 L692.74 397.38 L694.5 395.03 L696.17 392.63 L697.77 390.17 L699.27 387.65 L700.69 385.08 L702.02 382.47 L703.26 379.81 L704.4 377.1 L705.45 374.36 L706.4 371.59 L707.25 368.78 L708.01 365.95 L708.67 363.09 L709.23 360.2 L709.68 357.3 L710.04 354.39 L710.3 351.47 L710.45 348.54Z" fill="#f4f4f4"/>
<path d="M551.28 382.26 L551.28 308.94 M590.17 421.29 L663.23 421.29 M559.66 396.06 L559.66 295.14 M576.42 412.88 L676.98 412.88 M568.04 405.66 L568.04 285.54 M566.85 404.47 L686.55 404.47 M576.42 412.88 L576.42 278.32 M559.66 396.06 L693.74 396.06 M584.8 418.43 L584.8 272.77 M554.13 387.65 L699.27 387.65 M593.18 422.68 L593.18 268.52 M549.9 379.24 L703.5 379.24 M601.56 425.83 L601.56 265.37 M546.76 370.83 L706.64 370.83 M609.94 428 L609.94 263.2 M544.59 362.42 L708.81 362.42 M618.32 429.28 L618.32 261.92 M543.32 354.01 L710.08 354.01 M635.08 429.28 L635.08 261.92 M543.32 337.19 L710.08 337.19 M643.46 428 L643.46 263.2 M544.59 328.78 L708.81 328.78 M651.84 425.83 L651.84 265.37 M546.76 320.37 L706.64 320.37 M660.22 422.68 L660.22 268.52 M549.9 311.96 L703.5 311.96 M668.6 418.43 L668.6 272.77 M554.13 303.55 L699.27 303.55 M676.98 412.88 L676.98 278.32 M559.66 295.14 L693.74 295.14 M685.36 405.66 L685.36 285.54 M566.85 286.73 L686.55 286.73 M693.74 396.06 L693.74 295.14 M576.42 278.32 L676.98 278.32 M702.12 382.26 L702.12 308.94 M590.17 269.91 L663.23 269.91" fill="none" stroke="#787878" stroke-width="0.62"/>
<g clip-path="url(#clip_f)">
<ellipse cx="658.21" cy="311.54" rx="20.11" ry="21.45" fill="url(#g4)"/>
<ellipse cx="599.88" cy="375.04" rx="25.14" ry="16.4" fill="url(#g5)" transform="rotate(-55 599.88 375.04)"/>
</g>
<path d="M626.7 429.7 L626.7 261.5 M542.9 345.6 L710.5 345.6" fill="none" stroke="#2e2e2e" stroke-width="1.3"/>
<path d="M710.5 345.6 L710.45 342.66 L710.3 339.73 L710.04 336.81 L709.68 333.9 L709.23 331 L708.67 328.11 L708.01 325.25 L707.25 322.42 L706.4 319.61 L705.45 316.84 L704.4 314.1 L703.26 311.39 L702.02 308.73 L700.69 306.12 L699.27 303.55 L697.77 301.03 L696.17 298.57 L694.5 296.17 L692.74 293.82 L690.89 291.54 L688.98 289.33 L686.98 287.18 L684.91 285.1 L682.77 283.1 L680.57 281.18 L678.29 279.33 L675.96 277.56 L673.56 275.88 L671.11 274.28 L668.6 272.77 L666.04 271.34 L663.44 270.01 L660.78 268.77 L658.09 267.62 L655.36 266.57 L652.6 265.62 L649.8 264.76 L646.97 264 L644.12 263.34 L641.25 262.78 L638.36 262.32 L635.46 261.96 L632.55 261.7 L629.62 261.55 L626.7 261.5 L623.78 261.55 L620.85 261.7 L617.94 261.96 L615.04 262.32 L612.15 262.78 L609.28 263.34 L606.43 264 L603.6 264.76 L600.8 265.62 L598.04 266.57 L595.31 267.62 L592.62 268.77 L589.96 270.01 L587.36 271.34 L584.8 272.77 L582.29 274.28 L579.84 275.88 L577.44 277.56 L575.11 279.33 L572.83 281.18 L570.63 283.1 L568.49 285.1 L566.42 287.18 L564.42 289.33 L562.51 291.54 L560.66 293.82 L558.9 296.17 L557.23 298.57 L555.63 301.03 L554.13 303.55 L552.71 306.12 L551.38 308.73 L550.14 311.39 L549 314.1 L547.95 316.84 L547 319.61 L546.15 322.42 L545.39 325.25 L544.73 328.11 L544.17 331 L543.72 333.9 L543.36 336.81 L543.1 339.73 L542.95 342.66 L542.9 345.6 L542.95 348.54 L543.1 351.47 L543.36 354.39 L543.72 357.3 L544.17 360.2 L544.73 363.09 L545.39 365.95 L546.15 368.78 L547 371.59 L547.95 374.36 L549 377.1 L550.14 379.81 L551.38 382.47 L552.71 385.08 L554.13 387.65 L555.63 390.17 L557.23 392.63 L558.9 395.03 L560.66 397.38 L562.51 399.66 L564.42 401.87 L566.42 404.02 L568.49 406.1 L570.63 408.1 L572.83 410.02 L575.11 411.87 L577.44 413.64 L579.84 415.32 L582.29 416.92 L584.8 418.43 L587.36 419.86 L589.96 421.19 L592.62 422.43 L595.31 423.58 L598.04 424.63 L600.8 425.58 L603.6 426.44 L606.43 427.2 L609.28 427.86 L612.15 428.42 L615.04 428.88 L617.94 429.24 L620.85 429.5 L623.78 429.65 L626.7 429.7 L629.62 429.65 L632.55 429.5 L635.46 429.24 L638.36 428.88 L641.25 428.42 L644.12 427.86 L646.97 427.2 L649.8 426.44 L652.6 425.58 L655.36 424.63 L658.09 423.58 L660.78 422.43 L663.44 421.19 L666.04 419.86 L668.6 418.43 L671.11 416.92 L673.56 415.32 L675.96 413.64 L678.29 411.87 L680.57 410.02 L682.77 408.1 L684.91 406.1 L686.98 404.02 L688.98 401.87 L690.89 399.66 L692.74 397.38 L694.5 395.03 L696.17 392.63 L697.77 390.17 L699.27 387.65 L700.69 385.08 L702.02 382.47 L703.26 379.81 L704.4 377.1 L705.45 374.36 L706.4 371.59 L707.25 368.78 L708.01 365.95 L708.67 363.09 L709.23 360.2 L709.68 357.3 L710.04 354.39 L710.3 351.47 L710.45 348.54Z" fill="none" stroke="#1e1e1e" stroke-width="1.7" stroke-linejoin="round"/>
<text x="642.46" y="324.97" text-anchor="middle" class="lb">A</text>
<text x="667.6" y="324.97" text-anchor="middle" class="lb">B</text>
<text x="650.84" y="299.74" text-anchor="middle" class="lb">C</text>
<text x="667.6" y="308.15" text-anchor="middle" class="lb">D</text>
<text x="583.8" y="375.43" text-anchor="middle" class="lb">F</text>
<text x="608.94" y="375.43" text-anchor="middle" class="lb">E</text>
<text x="583.8" y="392.25" text-anchor="middle" class="lb">H</text>
<text x="600.56" y="400.66" text-anchor="middle" class="lb">G</text>
<path d="M531.8 261.5 V429.7 M531.8 429.7 h-6 M531.8 421.29 h-3.2 M531.8 412.88 h-3.2 M531.8 404.47 h-3.2 M531.8 396.06 h-3.2 M531.8 387.65 h-3.2 M531.8 379.24 h-3.2 M531.8 370.83 h-3.2 M531.8 362.42 h-3.2 M531.8 354.01 h-3.2 M531.8 345.6 h-6 M531.8 337.19 h-3.2 M531.8 328.78 h-3.2 M531.8 320.37 h-3.2 M531.8 311.96 h-3.2 M531.8 303.55 h-3.2 M531.8 295.14 h-3.2 M531.8 286.73 h-3.2 M531.8 278.32 h-3.2 M531.8 269.91 h-3.2 M531.8 261.5 h-6 M542.9 441.5 H710.5 M542.9 441.5 v5 M551.28 441.5 v2.8 M559.66 441.5 v2.8 M568.04 441.5 v2.8 M576.42 441.5 v2.8 M584.8 441.5 v2.8 M593.18 441.5 v2.8 M601.56 441.5 v2.8 M609.94 441.5 v2.8 M618.32 441.5 v2.8 M626.7 441.5 v5 M635.08 441.5 v2.8 M643.46 441.5 v2.8 M651.84 441.5 v2.8 M660.22 441.5 v2.8 M668.6 441.5 v2.8 M676.98 441.5 v2.8 M685.36 441.5 v2.8 M693.74 441.5 v2.8 M702.12 441.5 v2.8 M710.5 441.5 v5" fill="none" stroke="#3a3a3a" stroke-width="1.25"/>
<text x="520" y="266.9" text-anchor="end" class="tk">1</text>
<text x="710.8" y="463.1" text-anchor="middle" class="tk">1</text>
<text x="520" y="351" text-anchor="end" class="tk">0</text>
<text x="627.6" y="463.1" text-anchor="middle" class="tk">0</text>
<text x="520" y="435.1" text-anchor="end" class="tk">−1</text>
<text x="542.2" y="463.1" text-anchor="middle" class="tk">−1</text>
<radialGradient id="g6"><stop offset="0" stop-color="#b0479e" stop-opacity="0.800"/><stop offset="0.14" stop-color="#b0479e" stop-opacity="0.800"/><stop offset="0.22" stop-color="#b0479e" stop-opacity="0.776"/><stop offset="0.33" stop-color="#b0479e" stop-opacity="0.672"/><stop offset="0.44" stop-color="#b0479e" stop-opacity="0.496"/><stop offset="0.55" stop-color="#b0479e" stop-opacity="0.320"/><stop offset="0.69" stop-color="#b0479e" stop-opacity="0.168"/><stop offset="0.83" stop-color="#b0479e" stop-opacity="0.076"/><stop offset="0.94" stop-color="#b0479e" stop-opacity="0.024"/><stop offset="1" stop-color="#b0479e" stop-opacity="0.000"/></radialGradient>
<radialGradient id="g7"><stop offset="0" stop-color="#b0479e" stop-opacity="0.130"/><stop offset="0.08" stop-color="#b0479e" stop-opacity="0.126"/><stop offset="0.17" stop-color="#b0479e" stop-opacity="0.115"/><stop offset="0.25" stop-color="#b0479e" stop-opacity="0.098"/><stop offset="0.33" stop-color="#b0479e" stop-opacity="0.079"/><stop offset="0.42" stop-color="#b0479e" stop-opacity="0.060"/><stop offset="0.5" stop-color="#b0479e" stop-opacity="0.042"/><stop offset="0.58" stop-color="#b0479e" stop-opacity="0.028"/><stop offset="0.67" stop-color="#b0479e" stop-opacity="0.018"/><stop offset="0.75" stop-color="#b0479e" stop-opacity="0.010"/><stop offset="0.83" stop-color="#b0479e" stop-opacity="0.006"/><stop offset="0.92" stop-color="#b0479e" stop-opacity="0.003"/><stop offset="1" stop-color="#b0479e" stop-opacity="0.000"/></radialGradient>
<clipPath id="clip_c"><path d="M469.93 111.35 L470.12 108.57 L470.23 105.79 L470.26 103 L470.2 100.2 L470.06 97.38 L469.82 94.56 L469.5 91.73 L469.08 88.88 L468.56 86.02 L467.93 83.15 L467.2 80.26 L466.35 77.36 L465.38 74.44 L464.28 71.49 L463.02 68.53 L461.62 65.54 L460.04 62.53 L458.28 59.51 L456.33 56.49 L454.19 53.48 L451.85 50.5 L449.32 47.59 L446.61 44.76 L443.76 42.06 L440.79 39.52 L437.73 37.15 L434.62 34.98 L431.48 33.02 L428.34 31.25 L425.21 29.69 L422.1 28.32 L419.01 27.12 L415.95 26.08 L412.92 25.2 L409.92 24.47 L406.95 23.86 L404.01 23.38 L401.09 23.02 L398.19 22.77 L395.32 22.62 L392.47 22.58 L389.64 22.63 L386.84 22.77 L384.05 22.96 L381.29 23.23 L378.54 23.59 L375.82 24.03 L373.11 24.56 L370.42 25.09 L367.74 25.7 L365.09 26.39 L362.45 27.16 L359.84 28.01 L357.26 28.94 L354.7 29.95 L352.18 31.04 L349.68 32.19 L347.21 33.43 L344.77 34.73 L342.37 36.1 L340 37.55 L337.72 39.13 L335.49 40.79 L333.3 42.52 L331.17 44.31 L329.08 46.17 L327.06 48.11 L325.12 50.12 L323.23 52.2 L321.4 54.33 L319.64 56.53 L317.98 58.81 L316.44 61.17 L314.97 63.58 L313.58 66.04 L312.28 68.55 L311.06 71.1 L309.92 73.69 L308.88 76.32 L307.89 78.98 L306.99 81.67 L306.17 84.39 L305.46 87.14 L304.84 89.92 L304.33 92.72 L303.92 95.54 L303.61 98.37 L303.42 101.22 L303.34 104.07 L303.36 106.92 L303.47 109.77 L303.68 112.62 L304 115.46 L304.43 118.28 L304.94 121.09 L305.52 123.89 L306.2 126.67 L306.98 129.42 L307.86 132.14 L308.84 134.82 L309.92 137.48 L311.09 140.09 L312.35 142.66 L313.7 145.18 L315.14 147.66 L316.66 150.08 L318.26 152.46 L319.95 154.77 L321.71 157.03 L323.54 159.23 L325.45 161.37 L327.43 163.44 L329.47 165.45 L331.57 167.39 L333.74 169.26 L335.96 171.06 L338.25 172.78 L340.58 174.43 L342.97 176.01 L345.4 177.51 L347.88 178.93 L350.41 180.27 L352.97 181.53 L355.58 182.71 L358.22 183.8 L360.89 184.8 L363.6 185.72 L366.34 186.55 L369.1 187.28 L371.89 187.93 L374.69 188.48 L377.52 188.93 L380.36 189.29 L383.21 189.55 L386.07 189.71 L388.93 189.77 L391.8 189.73 L394.66 189.58 L397.51 189.34 L400.36 188.99 L403.19 188.54 L406 187.98 L408.79 187.33 L411.56 186.57 L414.29 185.71 L416.99 184.75 L419.65 183.69 L422.26 182.54 L424.83 181.29 L427.36 179.95 L429.83 178.52 L432.24 177 L434.59 175.39 L436.88 173.7 L439.11 171.94 L441.27 170.1 L443.35 168.18 L445.37 166.19 L447.32 164.14 L449.19 162.03 L450.98 159.86 L452.69 157.63 L454.33 155.35 L455.89 153.02 L457.37 150.64 L458.77 148.22 L460.08 145.77 L461.32 143.27 L462.48 140.74 L463.56 138.18 L464.56 135.6 L465.47 132.98 L466.31 130.34 L467.07 127.68 L467.75 125 L468.34 122.3 L468.86 119.58 L469.3 116.85 L469.65 114.1Z"/></clipPath>
<path d="M469.93 111.35 L470.12 108.57 L470.23 105.79 L470.26 103 L470.2 100.2 L470.06 97.38 L469.82 94.56 L469.5 91.73 L469.08 88.88 L468.56 86.02 L467.93 83.15 L467.2 80.26 L466.35 77.36 L465.38 74.44 L464.28 71.49 L463.02 68.53 L461.62 65.54 L460.04 62.53 L458.28 59.51 L456.33 56.49 L454.19 53.48 L451.85 50.5 L449.32 47.59 L446.61 44.76 L443.76 42.06 L440.79 39.52 L437.73 37.15 L434.62 34.98 L431.48 33.02 L428.34 31.25 L425.21 29.69 L422.1 28.32 L419.01 27.12 L415.95 26.08 L412.92 25.2 L409.92 24.47 L406.95 23.86 L404.01 23.38 L401.09 23.02 L398.19 22.77 L395.32 22.62 L392.47 22.58 L389.64 22.63 L386.84 22.77 L384.05 22.96 L381.29 23.23 L378.54 23.59 L375.82 24.03 L373.11 24.56 L370.42 25.09 L367.74 25.7 L365.09 26.39 L362.45 27.16 L359.84 28.01 L357.26 28.94 L354.7 29.95 L352.18 31.04 L349.68 32.19 L347.21 33.43 L344.77 34.73 L342.37 36.1 L340 37.55 L337.72 39.13 L335.49 40.79 L333.3 42.52 L331.17 44.31 L329.08 46.17 L327.06 48.11 L325.12 50.12 L323.23 52.2 L321.4 54.33 L319.64 56.53 L317.98 58.81 L316.44 61.17 L314.97 63.58 L313.58 66.04 L312.28 68.55 L311.06 71.1 L309.92 73.69 L308.88 76.32 L307.89 78.98 L306.99 81.67 L306.17 84.39 L305.46 87.14 L304.84 89.92 L304.33 92.72 L303.92 95.54 L303.61 98.37 L303.42 101.22 L303.34 104.07 L303.36 106.92 L303.47 109.77 L303.68 112.62 L304 115.46 L304.43 118.28 L304.94 121.09 L305.52 123.89 L306.2 126.67 L306.98 129.42 L307.86 132.14 L308.84 134.82 L309.92 137.48 L311.09 140.09 L312.35 142.66 L313.7 145.18 L315.14 147.66 L316.66 150.08 L318.26 152.46 L319.95 154.77 L321.71 157.03 L323.54 159.23 L325.45 161.37 L327.43 163.44 L329.47 165.45 L331.57 167.39 L333.74 169.26 L335.96 171.06 L338.25 172.78 L340.58 174.43 L342.97 176.01 L345.4 177.51 L347.88 178.93 L350.41 180.27 L352.97 181.53 L355.58 182.71 L358.22 183.8 L360.89 184.8 L363.6 185.72 L366.34 186.55 L369.1 187.28 L371.89 187.93 L374.69 188.48 L377.52 188.93 L380.36 189.29 L383.21 189.55 L386.07 189.71 L388.93 189.77 L391.8 189.73 L394.66 189.58 L397.51 189.34 L400.36 188.99 L403.19 188.54 L406 187.98 L408.79 187.33 L411.56 186.57 L414.29 185.71 L416.99 184.75 L419.65 183.69 L422.26 182.54 L424.83 181.29 L427.36 179.95 L429.83 178.52 L432.24 177 L434.59 175.39 L436.88 173.7 L439.11 171.94 L441.27 170.1 L443.35 168.18 L445.37 166.19 L447.32 164.14 L449.19 162.03 L450.98 159.86 L452.69 157.63 L454.33 155.35 L455.89 153.02 L457.37 150.64 L458.77 148.22 L460.08 145.77 L461.32 143.27 L462.48 140.74 L463.56 138.18 L464.56 135.6 L465.47 132.98 L466.31 130.34 L467.07 127.68 L467.75 125 L468.34 122.3 L468.86 119.58 L469.3 116.85 L469.65 114.1Z" fill="#f4f4f4"/>
<path d="M312.25 142.46 L312.15 140.89 L312.05 139.32 L311.95 137.74 L311.85 136.16 L311.76 134.58 L311.67 132.99 L311.58 131.4 L311.5 129.81 L311.43 128.21 L311.35 126.61 L311.29 125.01 L311.23 123.4 L311.17 121.8 L311.12 120.19 L311.07 118.58 L311 116.97 L310.94 115.36 L310.89 113.75 L310.84 112.14 L310.79 110.52 L310.75 108.9 L310.71 107.28 L310.68 105.66 L310.64 104.04 L310.61 102.41 L310.58 100.78 L310.56 99.15 L310.55 97.52 L310.54 95.89 L310.54 94.25 L310.54 92.62 L310.55 90.99 L310.56 89.35 L310.58 87.71 L310.61 86.08 L310.64 84.44 L310.67 82.8 L310.71 81.17 L310.76 79.53 L310.81 77.89 L310.84 76.25 L310.88 74.6 L310.92 72.95 L310.96 71.3 M350.61 180.38 L352.17 180.48 L353.74 180.59 L355.31 180.7 L356.89 180.81 L358.46 180.92 L360.04 181.03 L361.63 181.13 L363.21 181.24 L364.8 181.34 L366.38 181.43 L367.97 181.53 L369.56 181.62 L371.15 181.71 L372.74 181.79 L374.34 181.87 L375.94 181.95 L377.54 182.02 L379.14 182.09 L380.75 182.16 L382.36 182.23 L383.97 182.29 L385.59 182.35 L387.22 182.4 L388.84 182.46 L390.48 182.5 L392.12 182.55 L393.76 182.59 L395.41 182.63 L397.06 182.67 L398.71 182.7 L400.37 182.73 L402.03 182.75 L403.69 182.77 L405.36 182.78 L407.03 182.79 L408.69 182.8 L410.36 182.79 L412.04 182.79 L413.71 182.78 L415.38 182.76 L417.05 182.74 L418.72 182.71 L420.39 182.67 L422.06 182.64 M320.7 155.76 L320.58 154.22 L320.44 152.67 L320.3 151.12 L320.16 149.57 L320.01 148 L319.87 146.43 L319.72 144.86 L319.58 143.27 L319.45 141.68 L319.32 140.08 L319.2 138.48 L319.08 136.87 L318.98 135.26 L318.88 133.64 L318.79 132.02 L318.7 130.39 L318.63 128.77 L318.56 127.14 L318.5 125.51 L318.44 123.88 L318.39 122.25 L318.35 120.62 L318.31 118.99 L318.28 117.37 L318.23 115.74 L318.18 114.11 L318.14 112.48 L318.1 110.85 L318.07 109.22 L318.04 107.58 L318.01 105.94 L317.98 104.3 L317.94 102.66 L317.92 101.02 L317.89 99.37 L317.87 97.72 L317.86 96.07 L317.85 94.42 L317.85 92.77 L317.85 91.11 L317.85 89.46 L317.86 87.81 L317.87 86.15 L317.89 84.5 L317.91 82.84 L317.94 81.18 L317.97 79.53 L317.99 77.86 L318.01 76.2 L318.05 74.53 L318.08 72.86 L318.13 71.19 L318.18 69.52 L318.23 67.85 L318.29 66.18 L318.36 64.51 L318.43 62.83 L318.51 61.16 L318.59 59.48 L318.67 57.8 M337.25 172.04 L338.79 172.16 L340.34 172.28 L341.9 172.41 L343.45 172.55 L345.02 172.68 L346.59 172.82 L348.17 172.96 L349.76 173.1 L351.36 173.24 L352.96 173.38 L354.57 173.51 L356.18 173.64 L357.79 173.76 L359.4 173.88 L361.01 173.99 L362.62 174.09 L364.22 174.19 L365.82 174.29 L367.41 174.37 L369.01 174.45 L370.6 174.53 L372.19 174.6 L373.78 174.67 L375.37 174.73 L376.97 174.79 L378.56 174.85 L380.17 174.91 L381.77 174.96 L383.39 175.01 L385.01 175.06 L386.64 175.11 L388.28 175.15 L389.93 175.19 L391.58 175.23 L393.24 175.27 L394.91 175.31 L396.58 175.34 L398.26 175.37 L399.95 175.4 L401.63 175.42 L403.33 175.44 L405.02 175.45 L406.72 175.46 L408.42 175.46 L410.12 175.46 L411.82 175.45 L413.53 175.44 L415.23 175.42 L416.94 175.39 L418.64 175.36 L420.35 175.32 L422.05 175.28 L423.75 175.22 L425.45 175.16 L427.15 175.1 L428.85 175.02 L430.54 174.94 L432.23 174.86 L433.91 174.77 L435.6 174.67 M329.03 165.02 L328.89 163.53 L328.74 162.03 L328.58 160.54 L328.4 159.04 L328.22 157.54 L328.03 156.03 L327.84 154.52 L327.64 153 L327.45 151.46 L327.27 149.91 L327.08 148.35 L326.91 146.78 L326.75 145.19 L326.6 143.59 L326.45 141.98 L326.32 140.36 L326.2 138.73 L326.09 137.1 L326 135.46 L325.91 133.82 L325.84 132.18 L325.77 130.55 L325.71 128.91 L325.66 127.27 L325.62 125.64 L325.59 124.01 L325.56 122.39 L325.54 120.76 L325.52 119.14 L325.51 117.52 L325.49 115.91 L325.47 114.29 L325.44 112.68 L325.42 111.07 L325.39 109.45 L325.37 107.83 L325.35 106.21 L325.32 104.58 L325.29 102.95 L325.26 101.32 L325.23 99.69 L325.2 98.05 L325.18 96.42 L325.16 94.78 L325.15 93.14 L325.13 91.49 L325.12 89.85 L325.11 88.21 L325.11 86.56 L325.12 84.92 L325.12 83.27 L325.12 81.62 L325.13 79.96 L325.13 78.3 L325.15 76.65 L325.17 74.99 L325.19 73.33 L325.22 71.66 L325.26 70 L325.31 68.34 L325.36 66.67 L325.42 65 L325.49 63.34 L325.57 61.68 L325.68 60.03 L325.8 58.39 L325.93 56.74 L326.06 55.1 L326.2 53.46 L326.34 51.82 L326.49 50.18 L326.64 48.54 M327.86 163.87 L329.36 163.99 L330.86 164.12 L332.35 164.25 L333.84 164.4 L335.34 164.55 L336.83 164.71 L338.34 164.87 L339.86 165.04 L341.4 165.21 L342.95 165.38 L344.52 165.55 L346.1 165.72 L347.71 165.88 L349.33 166.04 L350.96 166.2 L352.61 166.35 L354.26 166.5 L355.91 166.63 L357.56 166.76 L359.2 166.88 L360.82 166.98 L362.44 167.08 L364.04 167.16 L365.63 167.24 L367.21 167.31 L368.79 167.37 L370.35 167.42 L371.91 167.47 L373.47 167.51 L375.03 167.55 L376.59 167.59 L378.15 167.63 L379.71 167.67 L381.28 167.7 L382.86 167.74 L384.46 167.77 L386.06 167.81 L387.69 167.85 L389.32 167.88 L390.96 167.92 L392.61 167.96 L394.27 167.99 L395.93 168.03 L397.6 168.06 L399.28 168.09 L400.96 168.12 L402.65 168.14 L404.34 168.16 L406.03 168.17 L407.73 168.18 L409.43 168.19 L411.13 168.18 L412.84 168.18 L414.54 168.16 L416.25 168.14 L417.95 168.11 L419.66 168.07 L421.36 168.03 L423.06 167.98 L424.77 167.92 L426.47 167.85 L428.17 167.77 L429.86 167.69 L431.56 167.6 L433.25 167.5 L434.93 167.4 L436.61 167.28 L438.29 167.16 L439.96 167.04 L441.63 166.91 L443.29 166.77 L444.95 166.62 M337.25 172.04 L337.12 170.55 L336.98 169.07 L336.82 167.6 L336.65 166.13 L336.46 164.67 L336.26 163.2 L336.05 161.74 L335.82 160.26 L335.58 158.78 L335.33 157.29 L335.08 155.79 L334.84 154.26 L334.59 152.72 L334.36 151.16 L334.15 149.57 L333.95 147.95 L333.77 146.32 L333.61 144.66 L333.46 142.99 L333.33 141.3 L333.21 139.6 L333.11 137.89 L333.02 136.18 L332.94 134.47 L332.88 132.76 L332.84 131.06 L332.8 129.37 L332.77 127.69 L332.76 126.02 L332.75 124.36 L332.74 122.7 L332.75 121.05 L332.75 119.41 L332.76 117.77 L332.76 116.14 L332.77 114.51 L332.76 112.89 L332.75 111.26 L332.73 109.64 L332.71 108.01 L332.69 106.39 L332.67 104.76 L332.63 103.12 L332.6 101.48 L332.56 99.84 L332.53 98.2 L332.49 96.55 L332.46 94.9 L332.43 93.25 L332.4 91.6 L332.37 89.94 L332.34 88.28 L332.32 86.61 L332.3 84.95 L332.27 83.28 L332.25 81.6 L332.24 79.92 L332.23 78.24 L332.23 76.56 L332.24 74.87 L332.25 73.18 L332.27 71.49 L332.3 69.8 L332.34 68.11 L332.4 66.43 L332.48 64.75 L332.57 63.08 L332.66 61.4 L332.77 59.73 L332.89 58.06 L333.01 56.4 L333.15 54.73 L333.29 53.07 L333.44 51.41 L333.61 49.76 L333.78 48.11 L333.96 46.46 L334.15 44.82 L334.34 43.18 L334.53 41.54 M320.7 155.76 L322.21 155.87 L323.69 155.99 L325.17 156.12 L326.63 156.26 L328.08 156.41 L329.53 156.57 L330.97 156.73 L332.42 156.91 L333.87 157.1 L335.33 157.29 L336.81 157.49 L338.31 157.69 L339.83 157.89 L341.38 158.09 L342.97 158.29 L344.58 158.48 L346.23 158.66 L347.91 158.84 L349.61 159.02 L351.34 159.19 L353.08 159.35 L354.83 159.5 L356.59 159.65 L358.34 159.78 L360.07 159.89 L361.76 159.99 L363.41 160.07 L365.05 160.13 L366.67 160.18 L368.28 160.22 L369.87 160.26 L371.46 160.28 L373.04 160.3 L374.61 160.32 L376.18 160.34 L377.75 160.36 L379.31 160.37 L380.89 160.39 L382.47 160.42 L384.07 160.44 L385.67 160.48 L387.3 160.51 L388.93 160.55 L390.58 160.59 L392.24 160.63 L393.91 160.68 L395.59 160.72 L397.27 160.76 L398.96 160.81 L400.66 160.84 L402.37 160.88 L404.08 160.91 L405.8 160.94 L407.52 160.96 L409.24 160.97 L410.96 160.98 L412.69 160.98 L414.42 160.97 L416.15 160.95 L417.89 160.93 L419.62 160.89 L421.35 160.85 L423.08 160.8 L424.81 160.73 L426.54 160.66 L428.26 160.58 L429.99 160.49 L431.71 160.39 L433.42 160.29 L435.13 160.17 L436.84 160.05 L438.54 159.91 L440.24 159.77 L441.93 159.63 L443.62 159.47 L445.3 159.31 L446.97 159.14 L448.64 158.97 L450.3 158.79 L451.96 158.6 M345.4 177.51 L345.3 176.04 L345.18 174.58 L345.06 173.14 L344.92 171.7 L344.78 170.27 L344.62 168.84 L344.45 167.42 L344.26 166 L344.06 164.57 L343.83 163.15 L343.59 161.71 L343.34 160.27 L343.07 158.82 L342.78 157.35 L342.49 155.86 L342.19 154.36 L341.9 152.83 L341.62 151.27 L341.37 149.66 L341.16 148.01 L340.97 146.32 L340.8 144.61 L340.65 142.86 L340.52 141.1 L340.4 139.31 L340.29 137.52 L340.21 135.72 L340.14 133.93 L340.09 132.16 L340.06 130.41 L340.04 128.69 L340.04 126.97 L340.04 125.28 L340.05 123.6 L340.07 121.93 L340.09 120.28 L340.11 118.65 L340.13 117.02 L340.15 115.4 L340.16 113.79 L340.16 112.19 L340.15 110.58 L340.13 108.98 L340.11 107.38 L340.08 105.77 L340.04 104.16 L339.99 102.55 L339.94 100.93 L339.89 99.31 L339.83 97.68 L339.78 96.05 L339.72 94.41 L339.66 92.77 L339.6 91.12 L339.55 89.47 L339.5 87.81 L339.44 86.14 L339.39 84.47 L339.35 82.79 L339.31 81.11 L339.27 79.42 L339.25 77.73 L339.23 76.04 L339.22 74.34 L339.22 72.64 L339.25 70.94 L339.29 69.25 L339.34 67.56 L339.4 65.87 L339.47 64.18 L339.55 62.49 L339.65 60.81 L339.75 59.13 L339.88 57.45 L340.01 55.78 L340.16 54.11 L340.31 52.45 L340.48 50.79 L340.66 49.14 L340.84 47.49 L341.03 45.84 L341.23 44.2 L341.44 42.56 L341.65 40.92 L341.88 39.31 L342.12 37.7 L342.37 36.1 M315.14 147.66 L316.63 147.76 L318.1 147.86 L319.55 147.97 L320.99 148.08 L322.42 148.21 L323.84 148.34 L325.25 148.47 L326.65 148.62 L328.04 148.78 L329.44 148.94 L330.83 149.12 L332.23 149.3 L333.64 149.49 L335.05 149.7 L336.48 149.91 L337.93 150.13 L339.41 150.35 L340.92 150.57 L342.49 150.78 L344.12 150.97 L345.79 151.16 L347.5 151.34 L349.24 151.52 L351.01 151.69 L352.81 151.86 L354.62 152.02 L356.44 152.16 L358.26 152.3 L360.06 152.42 L361.85 152.52 L363.61 152.6 L365.34 152.67 L367.05 152.72 L368.72 152.77 L370.37 152.8 L372 152.83 L373.6 152.85 L375.19 152.87 L376.77 152.88 L378.34 152.9 L379.9 152.92 L381.47 152.95 L383.04 152.98 L384.62 153.02 L386.21 153.07 L387.82 153.12 L389.44 153.18 L391.07 153.24 L392.71 153.31 L394.36 153.38 L396.03 153.44 L397.71 153.51 L399.39 153.58 L401.09 153.64 L402.79 153.69 L404.5 153.74 L406.22 153.78 L407.94 153.82 L409.67 153.85 L411.4 153.87 L413.13 153.88 L414.87 153.87 L416.61 153.86 L418.35 153.84 L420.08 153.81 L421.82 153.76 L423.56 153.71 L425.29 153.64 L427.03 153.56 L428.76 153.48 L430.49 153.38 L432.21 153.27 L433.93 153.15 L435.64 153.02 L437.35 152.88 L439.06 152.73 L440.75 152.58 L442.45 152.41 L444.13 152.24 L445.81 152.06 L447.48 151.88 L449.15 151.69 L450.81 151.49 L452.46 151.28 L454.1 151.08 L455.74 150.86 L457.37 150.64 M353.52 181.79 L353.43 180.32 L353.34 178.87 L353.24 177.43 L353.15 176 L353.05 174.58 L352.94 173.16 L352.84 171.75 L352.72 170.35 L352.6 168.95 L352.46 167.54 L352.31 166.14 L352.15 164.73 L351.97 163.32 L351.77 161.9 L351.55 160.47 L351.31 159.02 L351.05 157.56 L350.78 156.07 L350.5 154.56 L350.21 153.02 L349.93 151.44 L349.66 149.82 L349.41 148.16 L349.17 146.45 L348.96 144.69 L348.77 142.89 L348.6 141.06 L348.45 139.19 L348.33 137.31 L348.22 135.43 L348.13 133.55 L348.06 131.69 L348 129.86 L347.95 128.05 L347.92 126.28 L347.89 124.55 L347.87 122.85 L347.85 121.18 L347.84 119.54 L347.83 117.91 L347.82 116.31 L347.81 114.72 L347.79 113.14 L347.76 111.57 L347.73 110 L347.68 108.42 L347.62 106.85 L347.55 105.26 L347.48 103.67 L347.39 102.08 L347.3 100.47 L347.21 98.86 L347.11 97.24 L347.02 95.61 L346.92 93.97 L346.82 92.32 L346.73 90.66 L346.63 89 L346.54 87.32 L346.45 85.63 L346.37 83.94 L346.3 82.23 L346.23 80.52 L346.17 78.8 L346.13 77.08 L346.11 75.36 L346.1 73.64 L346.1 71.91 L346.12 70.19 L346.15 68.46 L346.2 66.73 L346.26 65.01 L346.33 63.29 L346.43 61.58 L346.54 59.87 L346.66 58.16 L346.79 56.46 L346.94 54.77 L347.1 53.08 L347.28 51.4 L347.46 49.72 L347.67 48.06 L347.89 46.42 L348.12 44.79 L348.36 43.16 L348.61 41.54 L348.86 39.93 L349.12 38.32 L349.39 36.72 L349.66 35.12 L349.93 33.53 L350.2 31.94 M310.83 139.54 L312.32 139.63 L313.79 139.72 L315.24 139.81 L316.69 139.91 L318.12 140 L319.54 140.1 L320.95 140.2 L322.35 140.3 L323.75 140.41 L325.14 140.52 L326.53 140.64 L327.91 140.76 L329.3 140.89 L330.69 141.02 L332.09 141.17 L333.49 141.31 L334.9 141.47 L336.32 141.63 L337.77 141.8 L339.24 141.98 L340.74 142.16 L342.28 142.34 L343.86 142.52 L345.49 142.7 L347.18 142.87 L348.91 143.04 L350.7 143.2 L352.53 143.35 L354.39 143.5 L356.29 143.63 L358.19 143.76 L360.1 143.89 L361.99 144.01 L363.87 144.13 L365.7 144.24 L367.5 144.35 L369.25 144.46 L370.96 144.57 L372.62 144.67 L374.25 144.77 L375.84 144.87 L377.41 144.97 L378.97 145.06 L380.51 145.15 L382.06 145.24 L383.61 145.34 L385.18 145.44 L386.76 145.55 L388.36 145.66 L389.97 145.78 L391.59 145.89 L393.24 146.01 L394.89 146.12 L396.56 146.23 L398.25 146.34 L399.94 146.44 L401.65 146.53 L403.36 146.62 L405.09 146.69 L406.82 146.76 L408.56 146.82 L410.31 146.86 L412.06 146.89 L413.82 146.91 L415.57 146.92 L417.33 146.91 L419.1 146.89 L420.86 146.85 L422.62 146.8 L424.38 146.74 L426.13 146.66 L427.88 146.57 L429.63 146.46 L431.38 146.35 L433.12 146.22 L434.85 146.08 L436.58 145.93 L438.3 145.76 L440.01 145.59 L441.72 145.41 L443.41 145.22 L445.11 145.02 L446.79 144.82 L448.46 144.61 L450.13 144.4 L451.79 144.17 L453.44 143.95 L455.08 143.72 L456.72 143.48 L458.34 143.24 L459.96 142.99 L461.57 142.74 M361.63 185.06 L361.54 183.6 L361.46 182.15 L361.38 180.71 L361.3 179.28 L361.22 177.86 L361.14 176.44 L361.06 175.03 L360.99 173.63 L360.92 172.23 L360.84 170.84 L360.77 169.44 L360.69 168.05 L360.61 166.66 L360.52 165.26 L360.42 163.87 L360.31 162.46 L360.19 161.05 L360.04 159.62 L359.85 158.17 L359.65 156.7 L359.44 155.2 L359.22 153.67 L359 152.1 L358.79 150.49 L358.59 148.82 L358.4 147.11 L358.23 145.34 L358.06 143.52 L357.91 141.66 L357.77 139.76 L357.64 137.83 L357.51 135.89 L357.39 133.96 L357.26 132.04 L357.13 130.15 L356.99 128.3 L356.85 126.5 L356.71 124.74 L356.57 123.03 L356.42 121.37 L356.28 119.74 L356.14 118.14 L356.01 116.57 L355.89 115.02 L355.76 113.48 L355.65 111.95 L355.53 110.42 L355.4 108.88 L355.28 107.34 L355.14 105.79 L355 104.24 L354.86 102.67 L354.71 101.08 L354.56 99.49 L354.41 97.88 L354.26 96.25 L354.1 94.62 L353.95 92.96 L353.8 91.3 L353.65 89.61 L353.51 87.91 L353.37 86.2 L353.25 84.48 L353.13 82.74 L353.03 80.99 L352.95 79.24 L352.88 77.48 L352.83 75.72 L352.8 73.95 L352.78 72.18 L352.79 70.4 L352.81 68.63 L352.86 66.86 L352.92 65.1 L353 63.34 L353.1 61.58 L353.21 59.83 L353.35 58.09 L353.5 56.36 L353.68 54.65 L353.87 52.96 L354.08 51.27 L354.3 49.59 L354.54 47.93 L354.78 46.27 L355.04 44.63 L355.31 43 L355.58 41.37 L355.86 39.76 L356.15 38.16 L356.45 36.56 L356.75 34.97 L357.05 33.39 L357.35 31.81 L357.66 30.24 L357.96 28.68 M307.62 131.4 L309.09 131.49 L310.56 131.57 L312.01 131.65 L313.45 131.73 L314.89 131.81 L316.31 131.88 L317.73 131.96 L319.15 132.04 L320.55 132.11 L321.96 132.18 L323.36 132.26 L324.76 132.33 L326.16 132.4 L327.55 132.48 L328.95 132.55 L330.35 132.63 L331.75 132.7 L333.15 132.78 L334.56 132.85 L335.99 132.93 L337.42 133.01 L338.88 133.09 L340.36 133.18 L341.87 133.28 L343.42 133.38 L345.01 133.48 L346.66 133.58 L348.35 133.67 L350.11 133.76 L351.91 133.85 L353.77 133.94 L355.66 134.04 L357.58 134.15 L359.52 134.28 L361.45 134.43 L363.37 134.6 L365.26 134.8 L367.1 135.02 L368.9 135.26 L370.64 135.51 L372.33 135.78 L373.97 136.05 L375.58 136.31 L377.15 136.57 L378.7 136.83 L380.23 137.07 L381.76 137.3 L383.3 137.52 L384.84 137.73 L386.4 137.94 L387.97 138.14 L389.57 138.34 L391.18 138.53 L392.81 138.71 L394.47 138.89 L396.14 139.06 L397.82 139.22 L399.52 139.37 L401.24 139.51 L402.97 139.64 L404.71 139.76 L406.46 139.87 L408.22 139.95 L409.99 140.03 L411.77 140.08 L413.55 140.12 L415.34 140.14 L417.13 140.14 L418.92 140.13 L420.71 140.09 L422.5 140.04 L424.29 139.96 L426.07 139.87 L427.85 139.77 L429.63 139.65 L431.39 139.51 L433.15 139.35 L434.9 139.19 L436.65 139.01 L438.38 138.82 L440.11 138.62 L441.82 138.41 L443.52 138.19 L445.22 137.96 L446.9 137.73 L448.58 137.49 L450.24 137.25 L451.9 137 L453.54 136.75 L455.18 136.49 L456.8 136.24 L458.42 135.98 L460.03 135.71 L461.63 135.44 L463.23 135.17 L464.81 134.89 M369.74 187.44 L369.66 185.97 L369.58 184.5 L369.5 183.04 L369.41 181.6 L369.32 180.16 L369.24 178.72 L369.16 177.29 L369.08 175.86 L369.01 174.44 L368.93 173.02 L368.86 171.6 L368.79 170.19 L368.72 168.77 L368.66 167.35 L368.59 165.93 L368.51 164.51 L368.44 163.09 L368.36 161.65 L368.28 160.21 L368.19 158.76 L368.09 157.29 L368 155.8 L367.9 154.29 L367.81 152.74 L367.72 151.15 L367.64 149.52 L367.57 147.84 L367.5 146.11 L367.43 144.34 L367.36 142.52 L367.29 140.67 L367.21 138.79 L367.11 136.89 L366.99 135 L366.84 133.11 L366.66 131.25 L366.45 129.42 L366.22 127.63 L365.97 125.87 L365.7 124.16 L365.42 122.48 L365.13 120.83 L364.85 119.22 L364.56 117.63 L364.29 116.05 L364.03 114.49 L363.77 112.93 L363.53 111.39 L363.29 109.85 L363.06 108.3 L362.83 106.75 L362.6 105.2 L362.37 103.62 L362.14 102.03 L361.91 100.43 L361.68 98.8 L361.45 97.15 L361.22 95.49 L360.99 93.8 L360.76 92.09 L360.54 90.35 L360.33 88.6 L360.13 86.82 L359.95 85.03 L359.79 83.22 L359.64 81.39 L359.51 79.55 L359.41 77.7 L359.33 75.84 L359.27 73.98 L359.24 72.12 L359.24 70.25 L359.26 68.39 L359.31 66.53 L359.4 64.69 L359.5 62.86 L359.64 61.04 L359.79 59.23 L359.97 57.44 L360.17 55.67 L360.39 53.91 L360.63 52.17 L360.88 50.44 L361.15 48.73 L361.43 47.04 L361.73 45.36 L362.03 43.7 L362.34 42.05 L362.66 40.42 L362.99 38.8 L363.32 37.19 L363.66 35.6 L364 34.02 L364.35 32.45 L364.69 30.88 L365.03 29.32 L365.37 27.77 L365.7 26.23 M305.38 123.24 L306.86 123.33 L308.33 123.41 L309.79 123.48 L311.25 123.56 L312.7 123.63 L314.14 123.69 L315.58 123.76 L317.02 123.82 L318.45 123.88 L319.89 123.94 L321.32 123.99 L322.75 124.05 L324.17 124.1 L325.6 124.15 L327.03 124.19 L328.46 124.24 L329.89 124.28 L331.32 124.32 L332.76 124.36 L334.2 124.39 L335.64 124.42 L337.1 124.46 L338.57 124.49 L340.05 124.51 L341.56 124.54 L343.09 124.56 L344.66 124.58 L346.26 124.6 L347.9 124.62 L349.59 124.64 L351.31 124.66 L353.08 124.71 L354.89 124.77 L356.73 124.85 L358.58 124.97 L360.44 125.13 L362.3 125.34 L364.15 125.58 L365.97 125.88 L367.76 126.21 L369.52 126.57 L371.24 126.96 L372.92 127.36 L374.57 127.77 L376.19 128.18 L377.79 128.58 L379.37 128.97 L380.95 129.34 L382.52 129.7 L384.1 130.04 L385.69 130.36 L387.3 130.67 L388.92 130.96 L390.56 131.24 L392.22 131.51 L393.9 131.77 L395.6 132.01 L397.33 132.24 L399.07 132.46 L400.83 132.67 L402.6 132.85 L404.4 133.02 L406.2 133.17 L408.02 133.3 L409.86 133.41 L411.7 133.49 L413.55 133.55 L415.41 133.58 L417.27 133.59 L419.13 133.57 L420.99 133.53 L422.85 133.46 L424.7 133.36 L426.55 133.24 L428.39 133.1 L430.21 132.94 L432.03 132.76 L433.84 132.56 L435.63 132.35 L437.41 132.12 L439.17 131.88 L440.92 131.63 L442.66 131.37 L444.38 131.1 L446.09 130.83 L447.79 130.55 L449.47 130.27 L451.13 129.98 L452.79 129.69 L454.43 129.41 L456.07 129.12 L457.69 128.83 L459.3 128.54 L460.9 128.25 L462.5 127.96 L464.08 127.67 L465.66 127.37 L467.23 127.06 M377.89 188.98 L377.81 187.51 L377.72 186.05 L377.63 184.59 L377.54 183.14 L377.44 181.69 L377.34 180.25 L377.24 178.81 L377.14 177.37 L377.04 175.94 L376.95 174.51 L376.85 173.07 L376.76 171.64 L376.67 170.21 L376.59 168.77 L376.51 167.34 L376.43 165.9 L376.36 164.46 L376.29 163.02 L376.23 161.57 L376.17 160.12 L376.11 158.66 L376.06 157.19 L376.02 155.7 L375.98 154.2 L375.94 152.68 L375.91 151.14 L375.88 149.57 L375.86 147.98 L375.84 146.35 L375.81 144.7 L375.78 143.03 L375.74 141.33 L375.69 139.62 L375.62 137.9 L375.52 136.17 L375.39 134.45 L375.23 132.74 L375.04 131.04 L374.81 129.35 L374.56 127.69 L374.27 126.05 L373.97 124.42 L373.65 122.81 L373.31 121.22 L372.97 119.63 L372.63 118.05 L372.28 116.47 L371.94 114.88 L371.6 113.29 L371.27 111.7 L370.94 110.11 L370.61 108.52 L370.28 106.92 L369.96 105.32 L369.64 103.7 L369.31 102.06 L368.98 100.4 L368.66 98.72 L368.33 97.02 L368.01 95.28 L367.69 93.52 L367.38 91.73 L367.09 89.91 L366.81 88.06 L366.54 86.18 L366.3 84.28 L366.08 82.35 L365.89 80.4 L365.74 78.43 L365.61 76.46 L365.53 74.48 L365.49 72.5 L365.48 70.52 L365.51 68.55 L365.59 66.6 L365.69 64.66 L365.83 62.73 L366.01 60.83 L366.21 58.95 L366.44 57.1 L366.7 55.27 L366.98 53.47 L367.28 51.69 L367.59 49.94 L367.92 48.22 L368.27 46.52 L368.62 44.84 L368.98 43.19 L369.35 41.55 L369.72 39.93 L370.1 38.34 L370.48 36.75 L370.86 35.18 L371.24 33.63 L371.62 32.09 L372 30.55 L372.38 29.03 L372.75 27.51 L373.11 26 L373.47 24.48 M303.96 115.09 L305.43 115.17 L306.9 115.24 L308.36 115.32 L309.82 115.39 L311.28 115.46 L312.73 115.52 L314.18 115.58 L315.63 115.64 L317.07 115.7 L318.52 115.75 L319.97 115.8 L321.41 115.85 L322.86 115.9 L324.3 115.94 L325.75 115.98 L327.19 116.02 L328.64 116.05 L330.08 116.08 L331.53 116.11 L332.98 116.14 L334.44 116.17 L335.9 116.19 L337.36 116.21 L338.84 116.23 L340.32 116.25 L341.82 116.27 L343.33 116.29 L344.86 116.3 L346.41 116.32 L347.98 116.35 L349.57 116.37 L351.18 116.41 L352.82 116.47 L354.47 116.54 L356.14 116.63 L357.83 116.76 L359.53 116.92 L361.24 117.11 L362.95 117.36 L364.65 117.64 L366.35 117.98 L368.04 118.36 L369.71 118.77 L371.37 119.22 L373.02 119.69 L374.66 120.16 L376.28 120.64 L377.9 121.11 L379.52 121.56 L381.14 122.01 L382.76 122.43 L384.39 122.84 L386.04 123.24 L387.7 123.63 L389.38 123.99 L391.08 124.35 L392.8 124.69 L394.54 125.02 L396.31 125.34 L398.1 125.64 L399.9 125.92 L401.73 126.18 L403.58 126.42 L405.45 126.63 L407.34 126.82 L409.25 126.98 L411.18 127.1 L413.11 127.19 L415.06 127.24 L417.01 127.26 L418.96 127.24 L420.92 127.19 L422.86 127.1 L424.79 126.98 L426.71 126.82 L428.62 126.63 L430.51 126.42 L432.38 126.18 L434.23 125.92 L436.06 125.65 L437.87 125.35 L439.66 125.05 L441.42 124.73 L443.17 124.41 L444.89 124.08 L446.6 123.75 L448.28 123.41 L449.94 123.07 L451.59 122.74 L453.22 122.4 L454.84 122.07 L456.44 121.75 L458.03 121.43 L459.61 121.11 L461.18 120.8 L462.74 120.49 L464.3 120.18 L465.85 119.87 L467.39 119.55 L468.92 119.23 M394.29 189.61 L394.21 188.13 L394.12 186.66 L394.03 185.19 L393.92 183.73 L393.81 182.26 L393.7 180.81 L393.58 179.35 L393.46 177.89 L393.34 176.44 L393.22 174.98 L393.1 173.52 L392.98 172.07 L392.87 170.61 L392.76 169.16 L392.66 167.7 L392.56 166.25 L392.47 164.79 L392.38 163.33 L392.3 161.87 L392.23 160.41 L392.16 158.95 L392.09 157.49 L392.03 156.02 L391.97 154.56 L391.92 153.09 L391.86 151.62 L391.8 150.16 L391.74 148.69 L391.68 147.21 L391.62 145.74 L391.55 144.28 L391.48 142.81 L391.4 141.34 L391.32 139.88 L391.23 138.42 L391.12 136.97 L391 135.51 L390.87 134.06 L390.72 132.61 L390.55 131.17 L390.37 129.73 L390.16 128.29 L389.93 126.85 L389.68 125.41 L389.41 123.97 L389.12 122.52 L388.8 121.07 L388.46 119.61 L388.1 118.14 L387.71 116.65 L387.3 115.13 L386.88 113.58 L386.43 112 L385.97 110.38 L385.5 108.72 L385.01 107 L384.51 105.23 L384.01 103.41 L383.51 101.53 L383.01 99.6 L382.51 97.6 L382.03 95.55 L381.56 93.43 L381.13 91.26 L380.73 89.03 L380.36 86.74 L380.04 84.4 L379.76 82.02 L379.54 79.61 L379.37 77.19 L379.26 74.76 L379.21 72.33 L379.22 69.93 L379.29 67.56 L379.41 65.24 L379.59 62.96 L379.81 60.75 L380.08 58.6 L380.39 56.51 L380.74 54.49 L381.11 52.53 L381.51 50.64 L381.94 48.8 L382.37 47.02 L382.82 45.3 L383.28 43.62 L383.74 41.99 L384.21 40.39 L384.67 38.82 L385.13 37.29 L385.58 35.77 L386.03 34.28 L386.47 32.8 L386.9 31.34 L387.32 29.88 L387.73 28.43 L388.13 26.98 L388.52 25.53 L388.9 24.09 L389.28 22.65 M303.58 98.74 L305.05 98.82 L306.51 98.89 L307.97 98.96 L309.43 99.02 L310.89 99.09 L312.35 99.15 L313.81 99.21 L315.27 99.27 L316.73 99.32 L318.19 99.38 L319.64 99.43 L321.1 99.48 L322.56 99.53 L324.02 99.58 L325.48 99.63 L326.94 99.68 L328.4 99.72 L329.86 99.76 L331.32 99.81 L332.78 99.85 L334.25 99.89 L335.71 99.94 L337.17 99.99 L338.63 100.04 L340.1 100.09 L341.57 100.15 L343.04 100.22 L344.51 100.29 L345.98 100.37 L347.45 100.45 L348.92 100.55 L350.4 100.65 L351.87 100.77 L353.34 100.9 L354.82 101.04 L356.3 101.21 L357.77 101.38 L359.25 101.58 L360.73 101.8 L362.21 102.05 L363.7 102.31 L365.18 102.61 L366.67 102.93 L368.17 103.28 L369.67 103.67 L371.17 104.08 L372.68 104.52 L374.2 104.99 L375.74 105.49 L377.28 106 L378.85 106.52 L380.44 107.06 L382.07 107.59 L383.73 108.13 L385.44 108.66 L387.2 109.18 L389.01 109.7 L390.87 110.2 L392.8 110.69 L394.78 111.16 L396.82 111.6 L398.92 112.03 L401.08 112.41 L403.28 112.77 L405.52 113.08 L407.81 113.34 L410.13 113.56 L412.48 113.71 L414.84 113.81 L417.21 113.85 L419.56 113.82 L421.9 113.74 L424.21 113.6 L426.48 113.4 L428.7 113.16 L430.86 112.87 L432.98 112.54 L435.03 112.19 L437.02 111.8 L438.95 111.39 L440.83 110.97 L442.65 110.53 L444.42 110.08 L446.13 109.63 L447.81 109.18 L449.44 108.73 L451.03 108.28 L452.6 107.85 L454.14 107.42 L455.65 107.01 L457.15 106.61 L458.63 106.22 L460.11 105.84 L461.57 105.48 L463.02 105.12 L464.47 104.76 L465.92 104.41 L467.37 104.07 L468.81 103.72 L470.26 103.36 M402.54 188.65 L402.46 187.17 L402.38 185.69 L402.29 184.21 L402.19 182.74 L402.08 181.27 L401.97 179.8 L401.86 178.33 L401.75 176.87 L401.63 175.41 L401.52 173.95 L401.41 172.48 L401.3 171.03 L401.2 169.57 L401.1 168.11 L401 166.65 L400.91 165.2 L400.82 163.74 L400.74 162.29 L400.66 160.84 L400.59 159.38 L400.52 157.94 L400.45 156.49 L400.38 155.04 L400.32 153.6 L400.26 152.16 L400.19 150.72 L400.13 149.29 L400.07 147.86 L400.01 146.43 L399.94 145.01 L399.87 143.6 L399.8 142.18 L399.72 140.78 L399.63 139.38 L399.54 137.98 L399.44 136.59 L399.33 135.21 L399.2 133.83 L399.07 132.46 L398.93 131.09 L398.76 129.73 L398.59 128.37 L398.4 127.01 L398.19 125.65 L397.96 124.29 L397.71 122.92 L397.44 121.55 L397.15 120.16 L396.83 118.75 L396.48 117.32 L396.11 115.85 L395.72 114.35 L395.31 112.79 L394.88 111.18 L394.44 109.5 L393.99 107.74 L393.52 105.9 L393.05 103.97 L392.58 101.93 L392.12 99.79 L391.66 97.55 L391.21 95.21 L390.79 92.78 L390.41 90.26 L390.1 87.68 L389.84 85.03 L389.63 82.34 L389.47 79.61 L389.35 76.86 L389.29 74.1 L389.26 71.37 L389.29 68.68 L389.35 66.04 L389.46 63.47 L389.61 60.98 L389.79 58.59 L390.01 56.29 L390.25 54.1 L390.52 52 L390.82 50 L391.13 48.09 L391.47 46.27 L391.83 44.53 L392.2 42.85 L392.58 41.24 L392.97 39.69 L393.37 38.17 L393.77 36.7 L394.17 35.25 L394.56 33.83 L394.96 32.42 L395.34 31.02 L395.72 29.64 L396.1 28.25 L396.46 26.87 L396.82 25.49 L397.18 24.11 L397.53 22.72 M304.72 90.56 L306.18 90.63 L307.64 90.7 L309.11 90.77 L310.57 90.83 L312.03 90.89 L313.48 90.95 L314.94 91.01 L316.4 91.06 L317.86 91.11 L319.32 91.17 L320.77 91.22 L322.23 91.26 L323.69 91.31 L325.14 91.36 L326.6 91.41 L328.05 91.45 L329.5 91.5 L330.95 91.55 L332.4 91.6 L333.85 91.65 L335.3 91.7 L336.75 91.75 L338.19 91.81 L339.64 91.87 L341.08 91.94 L342.52 92.01 L343.96 92.08 L345.39 92.17 L346.82 92.26 L348.26 92.36 L349.68 92.47 L351.11 92.59 L352.53 92.72 L353.95 92.86 L355.36 93.01 L356.77 93.19 L358.18 93.37 L359.59 93.57 L360.99 93.79 L362.39 94.03 L363.79 94.29 L365.19 94.57 L366.59 94.87 L367.99 95.2 L369.4 95.54 L370.81 95.91 L372.24 96.29 L373.68 96.7 L375.14 97.13 L376.63 97.57 L378.15 98.04 L379.7 98.51 L381.31 99 L382.98 99.5 L384.72 100 L386.54 100.5 L388.46 100.99 L390.47 101.46 L392.58 101.93 L394.79 102.36 L397.11 102.78 L399.52 103.16 L402.02 103.5 L404.59 103.8 L407.22 104.05 L409.91 104.25 L412.62 104.4 L415.35 104.49 L418.07 104.52 L420.76 104.5 L423.41 104.43 L426 104.3 L428.52 104.13 L430.94 103.92 L433.27 103.68 L435.5 103.4 L437.63 103.1 L439.66 102.77 L441.6 102.42 L443.45 102.05 L445.23 101.67 L446.93 101.28 L448.56 100.87 L450.14 100.47 L451.67 100.06 L453.17 99.65 L454.62 99.24 L456.05 98.84 L457.46 98.45 L458.85 98.07 L460.24 97.69 L461.61 97.32 L462.98 96.96 L464.36 96.6 L465.73 96.25 L467.11 95.9 L468.49 95.56 L469.88 95.21 M410.81 186.79 L410.74 185.31 L410.66 183.84 L410.58 182.38 L410.49 180.91 L410.39 179.45 L410.29 178 L410.19 176.54 L410.09 175.09 L410 173.64 L409.9 172.2 L409.8 170.75 L409.71 169.31 L409.62 167.87 L409.53 166.43 L409.45 164.99 L409.37 163.56 L409.3 162.13 L409.23 160.7 L409.16 159.28 L409.09 157.85 L409.03 156.44 L408.97 155.02 L408.92 153.61 L408.86 152.21 L408.81 150.81 L408.76 149.42 L408.71 148.03 L408.66 146.64 L408.6 145.27 L408.55 143.9 L408.5 142.54 L408.44 141.18 L408.38 139.83 L408.32 138.49 L408.26 137.16 L408.18 135.84 L408.11 134.53 L408.02 133.22 L407.93 131.92 L407.83 130.63 L407.73 129.35 L407.61 128.07 L407.48 126.79 L407.35 125.52 L407.2 124.24 L407.04 122.96 L406.88 121.66 L406.7 120.34 L406.52 119 L406.32 117.62 L406.12 116.19 L405.91 114.71 L405.7 113.15 L405.49 111.52 L405.27 109.79 L405.05 107.95 L404.83 106.01 L404.61 103.93 L404.4 101.73 L404.19 99.41 L403.98 96.95 L403.79 94.37 L403.61 91.68 L403.45 88.89 L403.31 86.02 L403.19 83.09 L403.09 80.11 L403.02 77.11 L402.96 74.11 L402.93 71.13 L402.9 68.19 L402.9 65.32 L402.9 62.54 L402.91 59.85 L402.93 57.28 L402.95 54.83 L402.97 52.52 L403 50.34 L403.03 48.28 L403.06 46.36 L403.12 44.54 L403.2 42.84 L403.3 41.22 L403.42 39.68 L403.57 38.21 L403.74 36.79 L403.94 35.42 L404.15 34.08 L404.37 32.76 L404.61 31.46 L404.85 30.17 L405.1 28.89 L405.36 27.6 L405.62 26.31 L405.88 25.02 L406.15 23.72 M306.76 82.4 L308.2 82.47 L309.65 82.53 L311.09 82.59 L312.53 82.65 L313.97 82.7 L315.41 82.75 L316.84 82.8 L318.28 82.85 L319.71 82.9 L321.15 82.94 L322.58 82.99 L324.01 83.03 L325.44 83.08 L326.87 83.12 L328.29 83.16 L329.71 83.2 L331.13 83.24 L332.54 83.28 L333.96 83.33 L335.37 83.37 L336.78 83.42 L338.18 83.47 L339.59 83.52 L340.99 83.58 L342.38 83.64 L343.77 83.7 L345.16 83.77 L346.54 83.85 L347.92 83.93 L349.29 84.02 L350.65 84.11 L352.01 84.21 L353.37 84.32 L354.71 84.44 L356.05 84.57 L357.38 84.71 L358.71 84.87 L360.04 85.03 L361.35 85.21 L362.66 85.4 L363.96 85.6 L365.26 85.82 L366.56 86.05 L367.87 86.29 L369.18 86.55 L370.5 86.82 L371.83 87.1 L373.19 87.38 L374.58 87.67 L376.01 87.96 L377.49 88.26 L379.03 88.55 L380.64 88.85 L382.35 89.14 L384.15 89.43 L386.06 89.7 L388.09 89.97 L390.26 90.24 L392.6 90.5 L395.09 90.75 L397.71 90.99 L400.46 91.21 L403.32 91.4 L406.26 91.57 L409.26 91.71 L412.31 91.81 L415.38 91.89 L418.43 91.93 L421.45 91.95 L424.4 91.93 L427.27 91.9 L430.03 91.84 L432.65 91.78 L435.11 91.71 L437.42 91.64 L439.59 91.55 L441.64 91.45 L443.57 91.34 L445.38 91.2 L447.1 91.04 L448.72 90.86 L450.26 90.66 L451.74 90.44 L453.16 90.2 L454.53 89.95 L455.86 89.69 L457.17 89.41 L458.45 89.13 L459.73 88.84 L461 88.55 L462.26 88.26 L463.53 87.97 L464.81 87.68 L466.1 87.39 L467.4 87.09 L468.71 86.8 M419.09 183.93 L419.02 182.45 L418.95 180.98 L418.88 179.51 L418.8 178.05 L418.71 176.59 L418.63 175.14 L418.55 173.69 L418.46 172.24 L418.38 170.79 L418.3 169.35 L418.22 167.91 L418.15 166.48 L418.07 165.04 L418.01 163.61 L417.94 162.19 L417.88 160.76 L417.82 159.35 L417.77 157.93 L417.72 156.52 L417.67 155.12 L417.63 153.72 L417.59 152.32 L417.56 150.94 L417.52 149.55 L417.49 148.18 L417.47 146.81 L417.44 145.44 L417.42 144.09 L417.39 142.74 L417.37 141.4 L417.36 140.07 L417.34 138.74 L417.32 137.43 L417.3 136.12 L417.29 134.83 L417.27 133.54 L417.26 132.26 L417.24 131 L417.23 129.74 L417.22 128.48 L417.21 127.24 L417.2 125.99 L417.19 124.74 L417.19 123.49 L417.2 122.23 L417.21 120.94 L417.23 119.63 L417.26 118.28 L417.31 116.88 L417.37 115.42 L417.44 113.88 L417.54 112.25 L417.65 110.52 L417.77 108.68 L417.92 106.71 L418.07 104.61 L418.24 102.37 L418.4 99.99 L418.56 97.48 L418.7 94.85 L418.81 92.1 L418.9 89.25 L418.95 86.31 L418.96 83.32 L418.93 80.28 L418.88 77.21 L418.79 74.14 L418.68 71.08 L418.55 68.06 L418.39 65.09 L418.22 62.2 L418.02 59.4 L417.8 56.72 L417.55 54.18 L417.29 51.77 L417.01 49.51 L416.72 47.4 L416.43 45.43 L416.15 43.6 L415.89 41.88 L415.66 40.27 L415.46 38.76 L415.29 37.32 L415.17 35.95 L415.08 34.62 L415.02 33.34 L415 32.07 L415.01 30.83 L415.05 29.59 L415.11 28.36 L415.2 27.13 L415.31 25.89 M309.7 74.24 L311.13 74.3 L312.56 74.35 L313.99 74.4 L315.41 74.45 L316.84 74.49 L318.26 74.54 L319.69 74.58 L321.11 74.61 L322.52 74.65 L323.94 74.68 L325.36 74.72 L326.77 74.75 L328.18 74.78 L329.59 74.81 L331 74.84 L332.4 74.88 L333.8 74.91 L335.19 74.94 L336.59 74.97 L337.97 75 L339.36 75.03 L340.74 75.07 L342.11 75.1 L343.48 75.14 L344.84 75.18 L346.21 75.23 L347.56 75.28 L348.91 75.33 L350.25 75.38 L351.58 75.44 L352.9 75.5 L354.22 75.56 L355.52 75.62 L356.81 75.69 L358.1 75.76 L359.37 75.84 L360.64 75.92 L361.9 76 L363.14 76.08 L364.39 76.17 L365.63 76.26 L366.87 76.35 L368.12 76.44 L369.38 76.53 L370.65 76.62 L371.96 76.7 L373.31 76.77 L374.7 76.83 L376.16 76.88 L377.7 76.92 L379.32 76.94 L381.05 76.95 L382.9 76.94 L384.88 76.92 L387 76.89 L389.26 76.85 L391.69 76.81 L394.27 76.77 L396.99 76.74 L399.86 76.73 L402.84 76.73 L405.91 76.75 L409.06 76.78 L412.25 76.83 L415.45 76.89 L418.63 76.97 L421.77 77.06 L424.83 77.16 L427.8 77.28 L430.65 77.4 L433.37 77.54 L435.94 77.69 L438.36 77.86 L440.63 78.03 L442.75 78.2 L444.73 78.38 L446.57 78.54 L448.28 78.69 L449.89 78.81 L451.4 78.91 L452.82 78.98 L454.18 79.01 L455.49 79.01 L456.76 78.98 L458 78.93 L459.22 78.85 L460.42 78.74 L461.63 78.62 L462.84 78.48 L464.06 78.32 L465.3 78.15 L466.54 77.97 M427.36 179.95 L427.3 178.48 L427.24 177.02 L427.17 175.56 L427.11 174.1 L427.04 172.65 L426.97 171.2 L426.9 169.76 L426.84 168.32 L426.78 166.88 L426.72 165.45 L426.66 164.02 L426.6 162.6 L426.56 161.18 L426.51 159.76 L426.47 158.35 L426.43 156.94 L426.4 155.53 L426.37 154.13 L426.35 152.74 L426.33 151.35 L426.31 149.96 L426.3 148.58 L426.3 147.21 L426.3 145.84 L426.3 144.48 L426.31 143.13 L426.33 141.78 L426.35 140.44 L426.37 139.1 L426.4 137.77 L426.44 136.45 L426.48 135.14 L426.53 133.83 L426.59 132.54 L426.65 131.24 L426.73 129.96 L426.81 128.68 L426.91 127.41 L427.01 126.13 L427.13 124.86 L427.27 123.58 L427.42 122.29 L427.59 120.99 L427.79 119.66 L428 118.3 L428.24 116.9 L428.51 115.45 L428.81 113.94 L429.13 112.36 L429.49 110.69 L429.87 108.92 L430.28 107.05 L430.71 105.06 L431.16 102.94 L431.61 100.71 L432.05 98.35 L432.47 95.87 L432.86 93.28 L433.17 90.6 L433.4 87.86 L433.55 85.05 L433.63 82.18 L433.64 79.28 L433.59 76.36 L433.47 73.45 L433.3 70.55 L433.06 67.68 L432.78 64.87 L432.45 62.09 L432.1 59.39 L431.7 56.78 L431.26 54.29 L430.78 51.93 L430.27 49.71 L429.74 47.63 L429.2 45.67 L428.67 43.84 L428.15 42.12 L427.66 40.5 L427.2 38.97 L426.78 37.52 L426.4 36.13 L426.07 34.78 L425.79 33.48 L425.55 32.2 L425.36 30.94 L425.21 29.69 M313.58 66.04 L315.01 66.09 L316.43 66.13 L317.84 66.17 L319.26 66.21 L320.67 66.24 L322.08 66.27 L323.49 66.3 L324.9 66.32 L326.3 66.34 L327.7 66.36 L329.1 66.38 L330.49 66.4 L331.89 66.42 L333.29 66.44 L334.69 66.46 L336.08 66.48 L337.46 66.5 L338.84 66.51 L340.22 66.53 L341.59 66.54 L342.95 66.55 L344.3 66.56 L345.65 66.57 L347 66.57 L348.33 66.58 L349.66 66.58 L350.99 66.58 L352.3 66.58 L353.61 66.58 L354.9 66.57 L356.19 66.56 L357.47 66.55 L358.74 66.53 L360 66.51 L361.26 66.49 L362.51 66.46 L363.76 66.42 L365 66.38 L366.25 66.32 L367.49 66.25 L368.75 66.17 L370.02 66.07 L371.32 65.95 L372.65 65.82 L374.03 65.67 L375.46 65.49 L376.97 65.3 L378.56 65.08 L380.25 64.83 L382.04 64.55 L383.96 64.26 L386.01 63.95 L388.2 63.63 L390.54 63.31 L393.02 63 L395.64 62.7 L398.38 62.44 L401.23 62.21 L404.18 62.03 L407.19 61.9 L410.24 61.83 L413.32 61.82 L416.39 61.87 L419.44 61.98 L422.43 62.15 L425.36 62.37 L428.2 62.64 L430.95 62.95 L433.59 63.29 L436.11 63.63 L438.5 64.01 L440.75 64.41 L442.86 64.84 L444.83 65.28 L446.67 65.71 L448.39 66.14 L449.99 66.55 L451.5 66.92 L452.94 67.26 L454.3 67.56 L455.61 67.82 L456.89 68.03 L458.13 68.2 L459.36 68.33 L460.58 68.43 L461.8 68.49 L463.02 68.53 M435.6 174.67 L435.55 173.2 L435.5 171.73 L435.45 170.27 L435.4 168.82 L435.35 167.37 L435.3 165.92 L435.25 164.48 L435.21 163.04 L435.17 161.6 L435.13 160.17 L435.1 158.74 L435.07 157.32 L435.05 155.9 L435.03 154.48 L435.02 153.07 L435.01 151.66 L435.01 150.25 L435.02 148.85 L435.03 147.45 L435.05 146.06 L435.07 144.67 L435.1 143.29 L435.14 141.9 L435.18 140.53 L435.24 139.15 L435.3 137.79 L435.37 136.42 L435.45 135.06 L435.54 133.7 L435.64 132.35 L435.75 131 L435.88 129.65 L436.01 128.3 L436.17 126.95 L436.33 125.6 L436.52 124.25 L436.73 122.89 L436.95 121.53 L437.2 120.15 L437.47 118.76 L437.77 117.34 L438.1 115.9 L438.45 114.42 L438.83 112.9 L439.24 111.33 L439.68 109.7 L440.14 108 L440.61 106.22 L441.11 104.37 L441.61 102.42 L442.12 100.38 L442.61 98.25 L443.09 96.02 L443.53 93.71 L443.92 91.31 L444.26 88.84 L444.54 86.3 L444.75 83.7 L444.88 81.06 L444.94 78.4 L444.93 75.71 L444.84 73.03 L444.68 70.36 L444.44 67.72 L444.13 65.12 L443.76 62.57 L443.33 60.09 L442.85 57.69 L442.32 55.38 L441.75 53.16 L441.15 51.05 L440.52 49.03 L439.89 47.11 L439.26 45.28 L438.64 43.54 L438.04 41.89 L437.46 40.3 L436.93 38.78 L436.43 37.32 L435.98 35.9 M318.67 57.8 L320.11 57.84 L321.55 57.88 L322.98 57.92 L324.41 57.95 L325.83 57.98 L327.25 58.01 L328.67 58.03 L330.08 58.04 L331.48 58.06 L332.89 58.06 L334.28 58.07 L335.68 58.07 L337.07 58.07 L338.45 58.06 L339.83 58.05 L341.21 58.05 L342.58 58.03 L343.95 58.02 L345.32 58 L346.67 57.97 L348.02 57.94 L349.37 57.9 L350.71 57.86 L352.04 57.81 L353.37 57.76 L354.71 57.71 L356.03 57.65 L357.35 57.59 L358.67 57.51 L359.98 57.43 L361.28 57.34 L362.58 57.23 L363.88 57.11 L365.18 56.97 L366.48 56.82 L367.79 56.66 L369.11 56.47 L370.44 56.27 L371.79 56.05 L373.17 55.8 L374.59 55.54 L376.05 55.24 L377.56 54.93 L379.14 54.57 L380.79 54.19 L382.53 53.78 L384.37 53.36 L386.3 52.92 L388.36 52.45 L390.52 51.99 L392.81 51.52 L395.21 51.08 L397.72 50.66 L400.32 50.27 L403 49.94 L405.74 49.66 L408.51 49.45 L411.32 49.31 L414.15 49.25 L416.97 49.27 L419.78 49.36 L422.54 49.54 L425.25 49.79 L427.89 50.11 L430.46 50.5 L432.92 50.95 L435.29 51.45 L437.56 51.99 L439.71 52.57 L441.75 53.16 L443.68 53.77 L445.51 54.38 L447.24 54.97 L448.88 55.55 L450.44 56.09 L451.94 56.6 L453.38 57.07 L454.77 57.49 L456.13 57.87 L457.46 58.2 M443.79 167.76 L443.76 166.31 L443.73 164.87 L443.69 163.42 L443.66 161.98 L443.64 160.55 L443.61 159.12 L443.59 157.69 L443.58 156.27 L443.57 154.85 L443.56 153.43 L443.56 152.01 L443.56 150.6 L443.58 149.19 L443.59 147.78 L443.62 146.37 L443.65 144.97 L443.68 143.56 L443.73 142.16 L443.78 140.76 L443.84 139.36 L443.91 137.97 L443.99 136.57 L444.08 135.17 L444.18 133.78 L444.29 132.38 L444.41 130.98 L444.54 129.59 L444.68 128.19 L444.84 126.78 L445.01 125.38 L445.2 123.96 L445.41 122.55 L445.63 121.12 L445.87 119.69 L446.13 118.24 L446.4 116.78 L446.7 115.31 L447.02 113.81 L447.35 112.29 L447.71 110.74 L448.08 109.16 L448.47 107.55 L448.87 105.89 L449.28 104.18 L449.7 102.43 L450.12 100.61 L450.54 98.74 L450.94 96.81 L451.33 94.82 L451.69 92.77 L452.02 90.65 L452.31 88.49 L452.56 86.27 L452.76 84 L452.91 81.7 L453 79.37 L453.03 77.02 L452.99 74.66 L452.9 72.3 L452.74 69.95 L452.51 67.62 L452.23 65.33 L451.89 63.07 L451.49 60.86 L451.05 58.7 L450.57 56.6 L450.05 54.56 L449.5 52.59 L448.94 50.68 L448.36 48.84 L447.78 47.07 L447.2 45.36 M325.53 49.69 L326.94 49.71 L328.35 49.73 L329.75 49.74 L331.15 49.75 L332.55 49.75 L333.95 49.76 L335.34 49.76 L336.73 49.75 L338.12 49.74 L339.5 49.72 L340.88 49.7 L342.25 49.67 L343.62 49.63 L344.99 49.59 L346.35 49.54 L347.71 49.49 L349.08 49.45 L350.44 49.4 L351.81 49.35 L353.17 49.28 L354.52 49.21 L355.87 49.13 L357.22 49.04 L358.57 48.94 L359.92 48.83 L361.26 48.71 L362.61 48.57 L363.96 48.43 L365.31 48.27 L366.67 48.1 L368.04 47.91 L369.41 47.71 L370.8 47.49 L372.21 47.26 L373.63 47.01 L375.07 46.74 L376.55 46.45 L378.05 46.12 L379.6 45.77 L381.19 45.4 L382.83 45.02 L384.54 44.62 L386.3 44.2 L388.14 43.77 L390.05 43.32 L392.03 42.88 L394.1 42.44 L396.23 42.01 L398.43 41.61 L400.7 41.24 L403.03 40.91 L405.41 40.62 L407.83 40.39 L410.28 40.21 L412.75 40.11 L415.22 40.07 L417.7 40.1 L420.16 40.21 L422.6 40.39 L425 40.64 L427.35 40.97 L429.64 41.35 L431.88 41.8 L434.04 42.29 L436.13 42.83 L438.15 43.4 L440.09 43.99 L441.96 44.6 L443.76 45.21 L445.48 45.81 L447.15 46.4 L448.75 46.98 M451.96 158.6 L451.95 157.15 L451.94 155.69 L451.93 154.24 L451.93 152.8 L451.94 151.35 L451.95 149.9 L451.96 148.46 L451.98 147.02 L452.01 145.58 L452.04 144.14 L452.08 142.7 L452.13 141.26 L452.18 139.82 L452.25 138.38 L452.32 136.94 L452.4 135.49 L452.48 134.05 L452.58 132.6 L452.69 131.15 L452.8 129.69 L452.93 128.23 L453.07 126.77 L453.22 125.3 L453.38 123.82 L453.55 122.34 L453.73 120.85 L453.93 119.35 L454.14 117.84 L454.36 116.32 L454.6 114.79 L454.84 113.24 L455.11 111.69 L455.38 110.12 L455.66 108.53 L455.96 106.92 L456.26 105.29 L456.56 103.63 L456.87 101.94 L457.17 100.21 L457.47 98.45 L457.76 96.65 L458.05 94.81 L458.31 92.93 L458.56 91.01 L458.78 89.06 L458.97 87.07 L459.13 85.05 L459.26 83 L459.35 80.92 L459.4 78.83 L459.41 76.73 L459.37 74.61 L459.28 72.5 L459.15 70.39 L458.97 68.3 L458.75 66.22 L458.49 64.17 L458.18 62.14 L457.84 60.15 L457.46 58.2 M334.53 41.54 L335.95 41.53 L337.36 41.52 L338.77 41.5 L340.18 41.47 L341.58 41.44 L343 41.41 L344.41 41.39 L345.83 41.37 L347.24 41.33 L348.64 41.29 L350.05 41.24 L351.45 41.19 L352.85 41.12 L354.25 41.05 L355.65 40.96 L357.05 40.87 L358.45 40.77 L359.85 40.66 L361.26 40.53 L362.67 40.4 L364.08 40.27 L365.5 40.12 L366.92 39.96 L368.35 39.79 L369.79 39.61 L371.25 39.42 L372.71 39.21 L374.19 39 L375.69 38.76 L377.21 38.49 L378.75 38.21 L380.32 37.92 L381.92 37.61 L383.55 37.3 L385.22 36.98 L386.93 36.65 L388.67 36.3 L390.46 35.94 L392.29 35.59 L394.17 35.24 L396.09 34.9 L398.06 34.57 L400.07 34.27 L402.12 33.99 L404.2 33.74 L406.32 33.53 L408.47 33.36 L410.64 33.24 L412.82 33.16 L415.02 33.14 L417.21 33.18 L419.4 33.27 L421.58 33.42 L423.74 33.62 L425.88 33.89 L427.98 34.2 L430.04 34.56 L432.07 34.97 L434.05 35.42 L435.98 35.9 M460.19 145.57 L460.21 144.12 L460.25 142.68 L460.28 141.23 L460.33 139.78 L460.38 138.33 L460.44 136.88 L460.5 135.43 L460.57 133.97 L460.65 132.51 L460.73 131.05 L460.83 129.58 L460.93 128.11 L461.03 126.63 L461.15 125.15 L461.27 123.66 L461.4 122.16 L461.54 120.65 L461.69 119.14 L461.84 117.62 L462.01 116.09 L462.18 114.55 L462.36 113.01 L462.54 111.45 L462.74 109.89 L462.94 108.31 L463.14 106.72 L463.34 105.11 L463.55 103.48 L463.75 101.84 L463.96 100.17 L464.16 98.48 L464.35 96.76 L464.54 95.03 L464.71 93.27 L464.88 91.48 L465.03 89.68 L465.16 87.85 L465.27 86.01 L465.37 84.15 L465.44 82.27 L465.49 80.38 L465.51 78.48 L465.5 76.58 L465.46 74.67 M347.4 33.33 L348.82 33.29 L350.24 33.25 L351.66 33.2 L353.08 33.15 L354.5 33.08 L355.92 33.01 L357.34 32.93 L358.76 32.84 L360.18 32.74 L361.61 32.64 L363.05 32.53 L364.49 32.42 L365.93 32.3 L367.38 32.17 L368.84 32.03 L370.3 31.88 L371.78 31.73 L373.26 31.57 L374.76 31.39 L376.27 31.18 L377.79 30.96 L379.33 30.74 L380.89 30.51 L382.47 30.28 L384.07 30.05 L385.69 29.81 L387.34 29.57 L389 29.3 L390.7 29.03 L392.42 28.77 L394.16 28.51 L395.93 28.26 L397.73 28.03 L399.55 27.81 L401.4 27.6 L403.27 27.42 L405.16 27.25 L407.07 27.12 L409 27.02 L410.94 26.94 L412.89 26.91 L414.85 26.91 L416.81 26.95 L418.77 27.03" fill="none" stroke="#787878" stroke-width="0.62"/>
<g clip-path="url(#clip_c)">
<ellipse cx="419.54" cy="69.93" rx="47" ry="28" fill="url(#g6)"/>
<ellipse cx="349.4" cy="145.99" rx="40.32" ry="27.74" fill="url(#g7)" transform="rotate(25 349.4 145.99)"/>
</g>
<path d="M386.07 189.71 L385.99 188.22 L385.9 186.75 L385.8 185.28 L385.7 183.81 L385.59 182.35 L385.48 180.89 L385.36 179.43 L385.25 177.97 L385.13 176.52 L385.01 175.06 L384.9 173.6 L384.78 172.15 L384.67 170.69 L384.56 169.23 L384.46 167.77 L384.36 166.31 L384.27 164.85 L384.19 163.38 L384.12 161.92 L384.07 160.44 L384.01 158.97 L383.96 157.49 L383.92 156 L383.87 154.51 L383.83 153 L383.79 151.49 L383.75 149.97 L383.7 148.43 L383.66 146.89 L383.61 145.34 L383.56 143.78 L383.51 142.21 L383.45 140.65 L383.38 139.09 L383.3 137.52 L383.19 135.95 L383.06 134.38 L382.91 132.82 L382.73 131.26 L382.52 129.7 L382.29 128.15 L382.04 126.6 L381.76 125.07 L381.46 123.54 L381.14 122.01 L380.8 120.48 L380.45 118.95 L380.08 117.41 L379.7 115.86 L379.32 114.28 L378.92 112.67 L378.52 111.03 L378.11 109.38 L377.7 107.7 L377.28 106 L376.86 104.28 L376.44 102.54 L376.01 100.76 L375.58 98.96 L375.14 97.13 L374.72 95.26 L374.31 93.35 L373.91 91.4 L373.54 89.42 L373.19 87.38 L372.87 85.3 L372.58 83.18 L372.33 81.04 L372.12 78.87 L371.96 76.7 L371.86 74.51 L371.81 72.34 L371.82 70.17 L371.87 68.02 L371.98 65.89 L372.13 63.79 L372.34 61.73 L372.58 59.71 L372.86 57.74 L373.17 55.8 L373.51 53.91 L373.88 52.06 L374.26 50.25 L374.66 48.47 L375.07 46.74 L375.49 45.04 L375.92 43.37 L376.35 41.71 L376.78 40.09 L377.21 38.49 L377.64 36.91 L378.07 35.34 L378.49 33.8 L378.92 32.26 L379.33 30.74 L379.74 29.23 L380.14 27.72 L380.53 26.22 L380.91 24.72 L381.29 23.23 M303.36 106.92 L304.83 107 L306.31 107.07 L307.78 107.15 L309.25 107.22 L310.71 107.28 L312.18 107.35 L313.64 107.41 L315.11 107.47 L316.57 107.53 L318.04 107.58 L319.5 107.64 L320.97 107.69 L322.44 107.74 L323.9 107.79 L325.37 107.83 L326.84 107.88 L328.31 107.91 L329.77 107.95 L331.24 107.98 L332.71 108.01 L334.19 108.05 L335.67 108.08 L337.15 108.11 L338.63 108.14 L340.12 108.18 L341.62 108.22 L343.12 108.26 L344.63 108.31 L346.15 108.36 L347.68 108.42 L349.21 108.49 L350.75 108.57 L352.3 108.66 L353.85 108.76 L355.4 108.88 L356.97 109.02 L358.54 109.19 L360.12 109.38 L361.7 109.6 L363.29 109.85 L364.88 110.13 L366.47 110.45 L368.07 110.81 L369.67 111.24 L371.27 111.7 L372.87 112.19 L374.47 112.71 L376.08 113.23 L377.69 113.76 L379.32 114.28 L380.95 114.78 L382.61 115.26 L384.29 115.73 L385.98 116.19 L387.71 116.65 L389.47 117.09 L391.26 117.53 L393.08 117.95 L394.94 118.36 L396.83 118.75 L398.74 119.12 L400.69 119.47 L402.66 119.79 L404.67 120.09 L406.7 120.34 L408.76 120.56 L410.85 120.73 L412.96 120.85 L415.08 120.92 L417.21 120.94 L419.33 120.92 L421.45 120.84 L423.55 120.72 L425.63 120.55 L427.69 120.33 L429.71 120.07 L431.7 119.78 L433.66 119.46 L435.58 119.12 L437.47 118.76 L439.33 118.38 L441.15 117.99 L442.93 117.59 L444.68 117.19 L446.4 116.78 L448.09 116.38 L449.75 115.97 L451.39 115.57 L453 115.17 L454.6 114.79 L456.17 114.41 L457.73 114.04 L459.28 113.68 L460.82 113.34 L462.36 113.01 L463.88 112.68 L465.4 112.35 L466.91 112.02 L468.42 111.69 L469.93 111.35" fill="none" stroke="#2e2e2e" stroke-width="1.3"/>
<path d="M469.93 111.35 L470.12 108.57 L470.23 105.79 L470.26 103 L470.2 100.2 L470.06 97.38 L469.82 94.56 L469.5 91.73 L469.08 88.88 L468.56 86.02 L467.93 83.15 L467.2 80.26 L466.35 77.36 L465.38 74.44 L464.28 71.49 L463.02 68.53 L461.62 65.54 L460.04 62.53 L458.28 59.51 L456.33 56.49 L454.19 53.48 L451.85 50.5 L449.32 47.59 L446.61 44.76 L443.76 42.06 L440.79 39.52 L437.73 37.15 L434.62 34.98 L431.48 33.02 L428.34 31.25 L425.21 29.69 L422.1 28.32 L419.01 27.12 L415.95 26.08 L412.92 25.2 L409.92 24.47 L406.95 23.86 L404.01 23.38 L401.09 23.02 L398.19 22.77 L395.32 22.62 L392.47 22.58 L389.64 22.63 L386.84 22.77 L384.05 22.96 L381.29 23.23 L378.54 23.59 L375.82 24.03 L373.11 24.56 L370.42 25.09 L367.74 25.7 L365.09 26.39 L362.45 27.16 L359.84 28.01 L357.26 28.94 L354.7 29.95 L352.18 31.04 L349.68 32.19 L347.21 33.43 L344.77 34.73 L342.37 36.1 L340 37.55 L337.72 39.13 L335.49 40.79 L333.3 42.52 L331.17 44.31 L329.08 46.17 L327.06 48.11 L325.12 50.12 L323.23 52.2 L321.4 54.33 L319.64 56.53 L317.98 58.81 L316.44 61.17 L314.97 63.58 L313.58 66.04 L312.28 68.55 L311.06 71.1 L309.92 73.69 L308.88 76.32 L307.89 78.98 L306.99 81.67 L306.17 84.39 L305.46 87.14 L304.84 89.92 L304.33 92.72 L303.92 95.54 L303.61 98.37 L303.42 101.22 L303.34 104.07 L303.36 106.92 L303.47 109.77 L303.68 112.62 L304 115.46 L304.43 118.28 L304.94 121.09 L305.52 123.89 L306.2 126.67 L306.98 129.42 L307.86 132.14 L308.84 134.82 L309.92 137.48 L311.09 140.09 L312.35 142.66 L313.7 145.18 L315.14 147.66 L316.66 150.08 L318.26 152.46 L319.95 154.77 L321.71 157.03 L323.54 159.23 L325.45 161.37 L327.43 163.44 L329.47 165.45 L331.57 167.39 L333.74 169.26 L335.96 171.06 L338.25 172.78 L340.58 174.43 L342.97 176.01 L345.4 177.51 L347.88 178.93 L350.41 180.27 L352.97 181.53 L355.58 182.71 L358.22 183.8 L360.89 184.8 L363.6 185.72 L366.34 186.55 L369.1 187.28 L371.89 187.93 L374.69 188.48 L377.52 188.93 L380.36 189.29 L383.21 189.55 L386.07 189.71 L388.93 189.77 L391.8 189.73 L394.66 189.58 L397.51 189.34 L400.36 188.99 L403.19 188.54 L406 187.98 L408.79 187.33 L411.56 186.57 L414.29 185.71 L416.99 184.75 L419.65 183.69 L422.26 182.54 L424.83 181.29 L427.36 179.95 L429.83 178.52 L432.24 177 L434.59 175.39 L436.88 173.7 L439.11 171.94 L441.27 170.1 L443.35 168.18 L445.37 166.19 L447.32 164.14 L449.19 162.03 L450.98 159.86 L452.69 157.63 L454.33 155.35 L455.89 153.02 L457.37 150.64 L458.77 148.22 L460.08 145.77 L461.32 143.27 L462.48 140.74 L463.56 138.18 L464.56 135.6 L465.47 132.98 L466.31 130.34 L467.07 127.68 L467.75 125 L468.34 122.3 L468.86 119.58 L469.3 116.85 L469.65 114.1Z" fill="none" stroke="#1e1e1e" stroke-width="1.7" stroke-linejoin="round"/>
<text x="389.41" y="94.85" text-anchor="middle" class="lb">A</text>
<text x="432.05" y="96.37" text-anchor="middle" class="lb">B</text>
<text x="402" y="54.54" text-anchor="middle" class="lb">C</text>
<text x="431.58" y="67.76" text-anchor="middle" class="lb">D</text>
<text x="339.12" y="137.77" text-anchor="middle" class="lb">F</text>
<text x="365.99" y="139.6" text-anchor="middle" class="lb">E</text>
<text x="340.52" y="155.25" text-anchor="middle" class="lb">H</text>
<text x="359.07" y="164.49" text-anchor="middle" class="lb">G</text>
<path d="M291.9 21.6 V189.7 M291.9 189.7 h-6 M291.9 181.3 h-3.2 M291.9 172.89 h-3.2 M291.9 164.49 h-3.2 M291.9 156.08 h-3.2 M291.9 147.68 h-3.2 M291.9 139.27 h-3.2 M291.9 130.87 h-3.2 M291.9 122.46 h-3.2 M291.9 114.06 h-3.2 M291.9 105.65 h-6 M291.9 97.25 h-3.2 M291.9 88.84 h-3.2 M291.9 80.44 h-3.2 M291.9 72.03 h-3.2 M291.9 63.63 h-3.2 M291.9 55.22 h-3.2 M291.9 46.82 h-3.2 M291.9 38.41 h-3.2 M291.9 30.01 h-3.2 M291.9 21.6 h-6 M303.2 201.3 H471.2 M303.2 201.3 v5 M311.6 201.3 v2.8 M320 201.3 v2.8 M328.4 201.3 v2.8 M336.8 201.3 v2.8 M345.2 201.3 v2.8 M353.6 201.3 v2.8 M362 201.3 v2.8 M370.4 201.3 v2.8 M378.8 201.3 v2.8 M387.2 201.3 v5 M395.6 201.3 v2.8 M404 201.3 v2.8 M412.4 201.3 v2.8 M420.8 201.3 v2.8 M429.2 201.3 v2.8 M437.6 201.3 v2.8 M446 201.3 v2.8 M454.4 201.3 v2.8 M462.8 201.3 v2.8 M471.2 201.3 v5" fill="none" stroke="#3a3a3a" stroke-width="1.25"/>
<text x="280.1" y="27" text-anchor="end" class="tk">1</text>
<text x="471.5" y="222.9" text-anchor="middle" class="tk">1</text>
<text x="280.1" y="111.05" text-anchor="end" class="tk">0</text>
<text x="388.1" y="222.9" text-anchor="middle" class="tk">0</text>
<text x="280.1" y="195.1" text-anchor="end" class="tk">−1</text>
<text x="302.5" y="222.9" text-anchor="middle" class="tk">−1</text>
<path d="M298.8 189.8 H354.1" stroke="#9ccbc3" stroke-width="1.5" fill="none"/>
<path d="M298.8 172.49 L299.74 171.18 L300.67 169.89 L301.61 168.62 L302.55 167.39 L303.49 166.23 L304.42 165.14 L305.36 164.15 L306.3 163.26 L307.24 162.49 L308.17 161.85 L309.11 161.36 L310.05 161.02 L310.98 160.83 L311.92 160.81 L312.86 160.94 L313.8 161.24 L314.73 161.68 L315.67 162.27 L316.61 163 L317.55 163.86 L318.48 164.82 L319.42 165.88 L320.36 167.02 L321.29 168.23 L322.23 169.49 L323.17 170.78 L324.11 172.08 L325.04 173.39 L325.98 174.68 L326.92 175.95 L327.86 177.18 L328.79 178.37 L329.73 179.5 L330.67 180.57 L331.61 181.58 L332.54 182.51 L333.48 183.38 L334.42 184.17 L335.35 184.9 L336.29 185.55 L337.23 186.14 L338.17 186.66 L339.1 187.12 L340.04 187.53 L340.98 187.89 L341.92 188.2 L342.85 188.46 L343.79 188.69 L344.73 188.89 L345.66 189.05 L346.6 189.19 L347.54 189.3 L348.48 189.4 L349.41 189.48 L350.35 189.54 L351.29 189.6 L352.23 189.64 L353.16 189.67 L354.1 189.7" stroke="#55a096" stroke-width="1.6" fill="none"/>
<path d="M311.6 161.8 V165.9 M311.6 169.1 V173 M311.6 175.8 V179.9 M311.6 182.7 V186.8 M324.5 175.8 V179.9 M324.5 182.7 V186.8" stroke="#55a096" stroke-width="1.25" fill="none"/>
<path d="M313 189.8 H323" stroke="#e8417a" stroke-width="1.3" fill="none"/>
<path d="M311 189.8 l3.9 -2.3 v4.6z M325 189.8 l-3.9 -2.3 v4.6z" fill="#e8417a"/>
<text x="318.2" y="186.1" text-anchor="middle" font-family="'Liberation Serif', 'DejaVu Serif', serif" font-style="italic" font-size="11.8" fill="#e8417a">ε</text>
<radialGradient id="g8"><stop offset="0" stop-color="#b0479e" stop-opacity="0.240"/><stop offset="0.14" stop-color="#b0479e" stop-opacity="0.240"/><stop offset="0.22" stop-color="#b0479e" stop-opacity="0.233"/><stop offset="0.33" stop-color="#b0479e" stop-opacity="0.202"/><stop offset="0.44" stop-color="#b0479e" stop-opacity="0.149"/><stop offset="0.55" stop-color="#b0479e" stop-opacity="0.096"/><stop offset="0.69" stop-color="#b0479e" stop-opacity="0.050"/><stop offset="0.83" stop-color="#b0479e" stop-opacity="0.023"/><stop offset="0.94" stop-color="#b0479e" stop-opacity="0.007"/><stop offset="1" stop-color="#b0479e" stop-opacity="0.000"/></radialGradient>
<radialGradient id="g9"><stop offset="0" stop-color="#b0479e" stop-opacity="0.290"/><stop offset="0.14" stop-color="#b0479e" stop-opacity="0.290"/><stop offset="0.22" stop-color="#b0479e" stop-opacity="0.281"/><stop offset="0.33" stop-color="#b0479e" stop-opacity="0.244"/><stop offset="0.44" stop-color="#b0479e" stop-opacity="0.180"/><stop offset="0.55" stop-color="#b0479e" stop-opacity="0.116"/><stop offset="0.69" stop-color="#b0479e" stop-opacity="0.061"/><stop offset="0.83" stop-color="#b0479e" stop-opacity="0.028"/><stop offset="0.94" stop-color="#b0479e" stop-opacity="0.009"/><stop offset="1" stop-color="#b0479e" stop-opacity="0.000"/></radialGradient>
<radialGradient id="g10"><stop offset="0" stop-color="#b0479e" stop-opacity="0.120"/><stop offset="0.08" stop-color="#b0479e" stop-opacity="0.116"/><stop offset="0.17" stop-color="#b0479e" stop-opacity="0.106"/><stop offset="0.25" stop-color="#b0479e" stop-opacity="0.091"/><stop offset="0.33" stop-color="#b0479e" stop-opacity="0.073"/><stop offset="0.42" stop-color="#b0479e" stop-opacity="0.055"/><stop offset="0.5" stop-color="#b0479e" stop-opacity="0.039"/><stop offset="0.58" stop-color="#b0479e" stop-opacity="0.026"/><stop offset="0.67" stop-color="#b0479e" stop-opacity="0.016"/><stop offset="0.75" stop-color="#b0479e" stop-opacity="0.010"/><stop offset="0.83" stop-color="#b0479e" stop-opacity="0.005"/><stop offset="0.92" stop-color="#b0479e" stop-opacity="0.003"/><stop offset="1" stop-color="#b0479e" stop-opacity="0.000"/></radialGradient>
<clipPath id="clip_b"><path d="M706.27 118.97 L706.82 116.51 L707.31 114.02 L707.73 111.5 L708.08 108.96 L708.36 106.38 L708.57 103.78 L708.69 101.14 L708.74 98.46 L708.7 95.74 L708.57 92.97 L708.34 90.14 L708 87.23 L707.55 84.24 L707 81.14 L706.28 77.9 L705.37 74.51 L704.22 70.94 L702.76 67.17 L700.93 63.16 L698.65 58.91 L695.83 54.43 L692.39 49.81 L688.32 45.22 L683.75 40.9 L678.9 37.08 L674.04 33.85 L669.35 31.22 L664.89 29.17 L660.72 27.52 L656.82 26.21 L653.14 25.21 L649.66 24.47 L646.33 23.94 L643.15 23.58 L640.08 23.38 L637.11 23.33 L634.23 23.39 L631.42 23.55 L628.68 23.8 L625.99 24.16 L623.36 24.66 L620.79 25.23 L618.26 25.87 L615.78 26.57 L613.34 27.33 L610.91 28 L608.5 28.69 L606.11 29.44 L603.75 30.23 L601.41 31.07 L599.1 31.96 L596.8 32.89 L594.52 33.87 L592.24 34.88 L589.97 35.91 L587.71 36.98 L585.46 38.1 L583.23 39.27 L581.01 40.49 L578.91 41.9 L576.85 43.38 L574.81 44.91 L572.8 46.49 L570.82 48.12 L568.89 49.82 L567.03 51.61 L565.2 53.45 L563.42 55.34 L561.69 57.28 L560 59.28 L558.4 61.36 L556.87 63.5 L555.4 65.69 L554 67.93 L552.66 70.22 L551.39 72.56 L550.2 74.95 L549.09 77.39 L548.07 79.87 L547.15 82.39 L546.31 84.95 L545.56 87.55 L544.91 90.17 L544.35 92.82 L543.89 95.5 L543.52 98.19 L543.3 100.9 L543.2 103.63 L543.19 106.35 L543.19 109.08 L543.29 111.81 L543.5 114.54 L543.8 117.26 L544.2 119.98 L544.63 122.7 L545.13 125.41 L545.73 128.1 L546.42 130.79 L547.21 133.45 L548.1 136.09 L549.08 138.71 L550.15 141.3 L551.31 143.86 L552.57 146.38 L553.91 148.87 L555.35 151.32 L556.87 153.72 L558.47 156.08 L560.17 158.39 L561.94 160.65 L563.8 162.84 L565.74 164.98 L567.75 167.05 L569.84 169.05 L572.01 170.97 L574.24 172.82 L576.53 174.58 L578.88 176.26 L581.29 177.85 L583.75 179.34 L586.26 180.75 L588.82 182.05 L591.41 183.26 L594.04 184.36 L596.7 185.37 L599.39 186.27 L602.11 187.07 L604.84 187.77 L607.59 188.36 L610.35 188.85 L613.11 189.24 L615.89 189.53 L618.66 189.72 L621.43 189.8 L624.19 189.79 L626.95 189.68 L629.68 189.48 L632.41 189.18 L635.11 188.79 L637.79 188.31 L640.45 187.74 L643.06 187.04 L645.64 186.23 L648.18 185.35 L650.68 184.38 L653.14 183.35 L655.56 182.24 L657.93 181.07 L660.26 179.83 L662.53 178.51 L664.76 177.14 L666.94 175.7 L669.06 174.21 L671.14 172.66 L673.16 171.07 L675.13 169.42 L677.06 167.73 L678.93 166.01 L680.76 164.24 L682.53 162.42 L684.25 160.56 L685.91 158.66 L687.51 156.72 L689.07 154.75 L690.57 152.74 L692.01 150.7 L693.4 148.62 L694.73 146.5 L695.99 144.36 L697.2 142.18 L698.35 139.97 L699.47 137.75 L700.54 135.5 L701.55 133.22 L702.49 130.91 L703.38 128.58 L704.2 126.22 L704.95 123.83 L705.64 121.41Z"/></clipPath>
<path d="M706.27 118.97 L706.82 116.51 L707.31 114.02 L707.73 111.5 L708.08 108.96 L708.36 106.38 L708.57 103.78 L708.69 101.14 L708.74 98.46 L708.7 95.74 L708.57 92.97 L708.34 90.14 L708 87.23 L707.55 84.24 L707 81.14 L706.28 77.9 L705.37 74.51 L704.22 70.94 L702.76 67.17 L700.93 63.16 L698.65 58.91 L695.83 54.43 L692.39 49.81 L688.32 45.22 L683.75 40.9 L678.9 37.08 L674.04 33.85 L669.35 31.22 L664.89 29.17 L660.72 27.52 L656.82 26.21 L653.14 25.21 L649.66 24.47 L646.33 23.94 L643.15 23.58 L640.08 23.38 L637.11 23.33 L634.23 23.39 L631.42 23.55 L628.68 23.8 L625.99 24.16 L623.36 24.66 L620.79 25.23 L618.26 25.87 L615.78 26.57 L613.34 27.33 L610.91 28 L608.5 28.69 L606.11 29.44 L603.75 30.23 L601.41 31.07 L599.1 31.96 L596.8 32.89 L594.52 33.87 L592.24 34.88 L589.97 35.91 L587.71 36.98 L585.46 38.1 L583.23 39.27 L581.01 40.49 L578.91 41.9 L576.85 43.38 L574.81 44.91 L572.8 46.49 L570.82 48.12 L568.89 49.82 L567.03 51.61 L565.2 53.45 L563.42 55.34 L561.69 57.28 L560 59.28 L558.4 61.36 L556.87 63.5 L555.4 65.69 L554 67.93 L552.66 70.22 L551.39 72.56 L550.2 74.95 L549.09 77.39 L548.07 79.87 L547.15 82.39 L546.31 84.95 L545.56 87.55 L544.91 90.17 L544.35 92.82 L543.89 95.5 L543.52 98.19 L543.3 100.9 L543.2 103.63 L543.19 106.35 L543.19 109.08 L543.29 111.81 L543.5 114.54 L543.8 117.26 L544.2 119.98 L544.63 122.7 L545.13 125.41 L545.73 128.1 L546.42 130.79 L547.21 133.45 L548.1 136.09 L549.08 138.71 L550.15 141.3 L551.31 143.86 L552.57 146.38 L553.91 148.87 L555.35 151.32 L556.87 153.72 L558.47 156.08 L560.17 158.39 L561.94 160.65 L563.8 162.84 L565.74 164.98 L567.75 167.05 L569.84 169.05 L572.01 170.97 L574.24 172.82 L576.53 174.58 L578.88 176.26 L581.29 177.85 L583.75 179.34 L586.26 180.75 L588.82 182.05 L591.41 183.26 L594.04 184.36 L596.7 185.37 L599.39 186.27 L602.11 187.07 L604.84 187.77 L607.59 188.36 L610.35 188.85 L613.11 189.24 L615.89 189.53 L618.66 189.72 L621.43 189.8 L624.19 189.79 L626.95 189.68 L629.68 189.48 L632.41 189.18 L635.11 188.79 L637.79 188.31 L640.45 187.74 L643.06 187.04 L645.64 186.23 L648.18 185.35 L650.68 184.38 L653.14 183.35 L655.56 182.24 L657.93 181.07 L660.26 179.83 L662.53 178.51 L664.76 177.14 L666.94 175.7 L669.06 174.21 L671.14 172.66 L673.16 171.07 L675.13 169.42 L677.06 167.73 L678.93 166.01 L680.76 164.24 L682.53 162.42 L684.25 160.56 L685.91 158.66 L687.51 156.72 L689.07 154.75 L690.57 152.74 L692.01 150.7 L693.4 148.62 L694.73 146.5 L695.99 144.36 L697.2 142.18 L698.35 139.97 L699.47 137.75 L700.54 135.5 L701.55 133.22 L702.49 130.91 L703.38 128.58 L704.2 126.22 L704.95 123.83 L705.64 121.41Z" fill="#f4f4f4"/>
<path d="M551.22 143.65 L551.1 142.14 L550.99 140.62 L550.87 139.09 L550.76 137.57 L550.66 136.04 L550.56 134.51 L550.46 132.98 L550.37 131.45 L550.29 129.92 L550.21 128.39 L550.14 126.86 L550.08 125.33 L550.02 123.8 L549.97 122.26 L549.93 120.73 L549.87 119.2 L549.79 117.68 L549.72 116.15 L549.65 114.61 L549.59 113.08 L549.53 111.53 L549.48 109.98 L549.44 108.43 L549.4 106.87 L549.34 105.31 L549.27 103.74 L549.2 102.17 L549.15 100.59 L549.11 99.01 L549.1 97.43 L549.1 95.84 L549.11 94.25 L549.13 92.67 L549.16 91.07 L549.2 89.48 L549.26 87.89 L549.32 86.29 L549.4 84.7 L549.48 83.11 L549.58 81.51 L549.69 79.92 L549.81 78.32 L549.95 76.73 L550.11 75.14 M589.02 182.15 L590.57 182.29 L592.12 182.43 L593.68 182.57 L595.24 182.7 L596.8 182.83 L598.38 182.94 L599.95 183.05 L601.52 183.15 L603.1 183.23 L604.68 183.31 L606.26 183.38 L607.84 183.44 L609.42 183.48 L610.99 183.52 L612.57 183.55 L614.14 183.57 L615.72 183.58 L617.29 183.59 L618.86 183.59 L620.43 183.58 L622 183.57 L623.57 183.56 L625.13 183.53 L626.7 183.51 L628.26 183.48 L629.83 183.44 L631.39 183.4 L632.95 183.35 L634.52 183.3 L636.08 183.24 L637.64 183.17 L639.2 183.1 L640.76 183.01 L642.32 182.88 L643.87 182.75 L645.42 182.61 L646.97 182.46 L648.51 182.3 L650.06 182.13 L651.6 181.95 L653.14 181.77 L654.68 181.57 L656.21 181.37 L657.74 181.16 M559.2 157.09 L559.02 155.59 L558.84 154.09 L558.65 152.58 L558.46 151.07 L558.28 149.54 L558.09 148.02 L557.91 146.48 L557.74 144.93 L557.57 143.38 L557.41 141.83 L557.26 140.27 L557.11 138.71 L556.98 137.15 L556.86 135.58 L556.75 134.02 L556.65 132.47 L556.56 130.91 L556.48 129.36 L556.4 127.81 L556.34 126.27 L556.28 124.73 L556.22 123.19 L556.18 121.65 L556.13 120.12 L556.09 118.59 L556.02 117.06 L555.94 115.53 L555.87 114 L555.81 112.45 L555.74 110.89 L555.68 109.33 L555.62 107.76 L555.56 106.17 L555.47 104.58 L555.39 102.99 L555.31 101.38 L555.24 99.78 L555.2 98.17 L555.17 96.55 L555.15 94.94 L555.14 93.32 L555.14 91.69 L555.16 90.07 L555.18 88.45 L555.22 86.82 L555.27 85.2 L555.33 83.57 L555.41 81.94 L555.5 80.32 L555.62 78.69 L555.75 77.07 L555.9 75.45 L556.06 73.83 L556.23 72.22 L556.42 70.6 L556.62 68.99 L556.83 67.38 L557.06 65.77 L557.29 64.17 L557.53 62.56 M575.52 173.83 L577.02 174.04 L578.52 174.26 L580.04 174.49 L581.57 174.73 L583.1 174.97 L584.66 175.2 L586.22 175.44 L587.8 175.67 L589.39 175.9 L590.99 176.12 L592.59 176.32 L594.21 176.51 L595.83 176.68 L597.45 176.83 L599.07 176.97 L600.7 177.09 L602.32 177.18 L603.93 177.26 L605.55 177.32 L607.16 177.37 L608.76 177.4 L610.37 177.43 L611.96 177.44 L613.56 177.44 L615.15 177.44 L616.74 177.43 L618.32 177.42 L619.9 177.4 L621.48 177.39 L623.06 177.38 L624.64 177.36 L626.21 177.34 L627.79 177.33 L629.37 177.31 L630.94 177.29 L632.52 177.27 L634.1 177.24 L635.67 177.21 L637.25 177.17 L638.83 177.13 L640.4 177.06 L641.97 176.97 L643.54 176.87 L645.11 176.76 L646.68 176.65 L648.25 176.52 L649.82 176.38 L651.38 176.23 L652.95 176.08 L654.51 175.9 L656.07 175.72 L657.63 175.53 L659.18 175.32 L660.74 175.1 L662.28 174.87 L663.83 174.62 L665.37 174.37 L666.91 174.1 L668.44 173.83 L669.97 173.54 M567.32 166.61 L567.11 165.18 L566.89 163.74 L566.66 162.31 L566.42 160.87 L566.17 159.43 L565.92 157.97 L565.66 156.5 L565.4 155.01 L565.14 153.51 L564.89 151.99 L564.64 150.45 L564.4 148.9 L564.17 147.33 L563.95 145.75 L563.74 144.16 L563.55 142.56 L563.37 140.96 L563.22 139.35 L563.07 137.75 L562.95 136.16 L562.84 134.57 L562.75 132.98 L562.67 131.41 L562.61 129.85 L562.55 128.3 L562.5 126.76 L562.46 125.23 L562.43 123.7 L562.39 122.19 L562.36 120.68 L562.33 119.17 L562.29 117.67 L562.23 116.18 L562.16 114.68 L562.09 113.17 L562.02 111.65 L561.94 110.11 L561.86 108.56 L561.78 106.99 L561.68 105.42 L561.56 103.84 L561.46 102.25 L561.36 100.65 L561.28 99.05 L561.21 97.44 L561.15 95.83 L561.1 94.22 L561.06 92.6 L561.03 90.98 L561.02 89.35 L561.02 87.73 L561.03 86.1 L561.05 84.47 L561.1 82.83 L561.16 81.2 L561.25 79.57 L561.35 77.94 L561.46 76.31 L561.6 74.68 L561.75 73.05 L561.91 71.43 L562.1 69.81 L562.3 68.19 L562.51 66.57 L562.74 64.96 L562.99 63.34 L563.25 61.74 L563.54 60.15 L563.85 58.57 L564.16 56.99 L564.49 55.42 L564.82 53.84 M566.16 165.43 L567.58 165.66 L568.99 165.9 L570.4 166.16 L571.83 166.43 L573.26 166.72 L574.7 167.02 L576.16 167.32 L577.64 167.63 L579.13 167.95 L580.66 168.28 L582.2 168.6 L583.77 168.92 L585.36 169.24 L586.98 169.55 L588.61 169.84 L590.27 170.13 L591.93 170.39 L593.61 170.63 L595.28 170.84 L596.96 171.02 L598.63 171.16 L600.29 171.28 L601.95 171.36 L603.59 171.41 L605.22 171.44 L606.84 171.45 L608.46 171.44 L610.06 171.43 L611.65 171.4 L613.23 171.37 L614.81 171.33 L616.38 171.3 L617.94 171.26 L619.5 171.23 L621.06 171.21 L622.61 171.19 L624.17 171.18 L625.72 171.18 L627.28 171.18 L628.84 171.18 L630.39 171.19 L631.95 171.2 L633.51 171.2 L635.07 171.21 L636.64 171.21 L638.2 171.2 L639.77 171.17 L641.33 171.13 L642.9 171.07 L644.46 171.01 L646.03 170.94 L647.6 170.85 L649.16 170.76 L650.73 170.65 L652.3 170.53 L653.86 170.4 L655.43 170.25 L656.99 170.08 L658.55 169.9 L660.11 169.71 L661.67 169.5 L663.22 169.28 L664.77 169.04 L666.31 168.79 L667.86 168.53 L669.39 168.25 L670.93 167.96 L672.46 167.66 L673.98 167.35 L675.5 167.03 L677.02 166.71 L678.54 166.38 M575.52 173.83 L575.31 172.43 L575.09 171.05 L574.86 169.68 L574.61 168.31 L574.34 166.94 L574.06 165.57 L573.77 164.19 L573.46 162.79 L573.14 161.38 L572.81 159.94 L572.47 158.49 L572.13 157 L571.8 155.48 L571.46 153.92 L571.14 152.33 L570.84 150.71 L570.54 149.06 L570.27 147.38 L570.01 145.67 L569.77 143.95 L569.56 142.23 L569.37 140.5 L569.2 138.78 L569.07 137.07 L568.96 135.38 L568.87 133.71 L568.81 132.07 L568.76 130.45 L568.73 128.85 L568.71 127.28 L568.69 125.72 L568.68 124.18 L568.67 122.65 L568.65 121.13 L568.63 119.63 L568.6 118.12 L568.56 116.62 L568.49 115.13 L568.41 113.63 L568.32 112.12 L568.22 110.6 L568.11 109.07 L568 107.52 L567.88 105.97 L567.73 104.4 L567.58 102.82 L567.44 101.23 L567.32 99.62 L567.2 98.01 L567.09 96.39 L566.99 94.77 L566.91 93.13 L566.83 91.49 L566.77 89.84 L566.72 88.19 L566.69 86.53 L566.68 84.86 L566.69 83.2 L566.72 81.53 L566.77 79.86 L566.85 78.19 L566.94 76.51 L567.05 74.84 L567.18 73.17 L567.33 71.5 L567.5 69.83 L567.69 68.17 L567.9 66.5 L568.14 64.85 L568.41 63.21 L568.69 61.58 L569 59.95 L569.32 58.33 L569.65 56.72 L570 55.11 L570.36 53.51 L570.73 51.91 L571.11 50.32 L571.52 48.76 L571.93 47.2 M559.2 157.09 L560.57 157.31 L561.93 157.54 L563.29 157.79 L564.63 158.05 L565.98 158.33 L567.33 158.62 L568.68 158.93 L570.04 159.25 L571.41 159.59 L572.81 159.94 L574.22 160.31 L575.67 160.68 L577.15 161.07 L578.67 161.45 L580.23 161.84 L581.83 162.23 L583.48 162.61 L585.17 162.99 L586.9 163.36 L588.67 163.71 L590.46 164.04 L592.28 164.35 L594.1 164.64 L595.93 164.88 L597.74 165.07 L599.52 165.2 L601.27 165.28 L603 165.32 L604.7 165.33 L606.37 165.33 L608.02 165.3 L609.65 165.26 L611.26 165.22 L612.85 165.17 L614.43 165.12 L616 165.07 L617.55 165.03 L619.1 165 L620.65 164.98 L622.2 164.97 L623.74 164.97 L625.29 164.99 L626.84 165.02 L628.39 165.05 L629.95 165.1 L631.51 165.14 L633.08 165.19 L634.65 165.24 L636.23 165.28 L637.81 165.32 L639.39 165.33 L640.98 165.34 L642.57 165.33 L644.16 165.32 L645.75 165.29 L647.35 165.25 L648.95 165.19 L650.55 165.12 L652.15 165.03 L653.76 164.93 L655.36 164.81 L656.96 164.67 L658.56 164.52 L660.16 164.34 L661.75 164.15 L663.35 163.94 L664.94 163.72 L666.52 163.47 L668.1 163.21 L669.68 162.94 L671.26 162.64 L672.83 162.34 L674.4 162.03 L675.96 161.7 L677.51 161.36 L679.06 161 L680.61 160.64 L682.14 160.27 L683.67 159.88 L685.19 159.49 M583.75 179.34 L583.57 178 L583.37 176.68 L583.17 175.38 L582.96 174.08 L582.74 172.8 L582.5 171.53 L582.25 170.25 L581.98 168.97 L581.69 167.68 L581.38 166.38 L581.06 165.06 L580.72 163.72 L580.36 162.35 L579.99 160.94 L579.6 159.5 L579.21 158.01 L578.82 156.46 L578.43 154.86 L578.07 153.19 L577.74 151.46 L577.42 149.67 L577.13 147.83 L576.85 145.95 L576.59 144.06 L576.36 142.15 L576.14 140.25 L575.95 138.37 L575.78 136.53 L575.66 134.74 L575.56 133.01 L575.49 131.33 L575.44 129.69 L575.39 128.09 L575.35 126.53 L575.31 125 L575.28 123.49 L575.24 122 L575.2 120.53 L575.15 119.06 L575.09 117.6 L575.02 116.15 L574.93 114.69 L574.81 113.23 L574.68 111.76 L574.53 110.28 L574.37 108.79 L574.2 107.29 L574.02 105.77 L573.82 104.24 L573.62 102.69 L573.42 101.13 L573.24 99.55 L573.07 97.96 L572.9 96.35 L572.75 94.73 L572.61 93.1 L572.48 91.46 L572.37 89.8 L572.28 88.14 L572.21 86.46 L572.16 84.78 L572.14 83.09 L572.14 81.4 L572.16 79.7 L572.2 77.99 L572.27 76.29 L572.36 74.58 L572.48 72.87 L572.62 71.17 L572.78 69.46 L572.98 67.77 L573.2 66.08 L573.45 64.41 L573.72 62.73 L574.01 61.07 L574.32 59.41 L574.65 57.76 L575 56.12 L575.38 54.5 L575.78 52.9 L576.2 51.31 L576.63 49.72 L577.07 48.15 L577.53 46.58 L577.98 45.02 L578.45 43.46 L578.91 41.9 M553.91 148.87 L555.25 149.06 L556.56 149.27 L557.87 149.48 L559.16 149.7 L560.44 149.92 L561.72 150.16 L562.99 150.41 L564.26 150.68 L565.53 150.95 L566.8 151.24 L568.07 151.55 L569.36 151.87 L570.67 152.21 L571.99 152.56 L573.35 152.93 L574.75 153.31 L576.19 153.69 L577.69 154.08 L579.27 154.46 L580.93 154.83 L582.67 155.19 L584.47 155.55 L586.34 155.89 L588.27 156.22 L590.23 156.54 L592.22 156.83 L594.21 157.11 L596.19 157.35 L598.14 157.56 L600.05 157.74 L601.91 157.89 L603.71 158.02 L605.46 158.12 L607.15 158.2 L608.79 158.27 L610.39 158.32 L611.96 158.36 L613.5 158.4 L615.01 158.42 L616.52 158.45 L618.01 158.47 L619.5 158.5 L620.99 158.54 L622.49 158.6 L623.99 158.67 L625.5 158.75 L627.02 158.84 L628.55 158.94 L630.08 159.05 L631.63 159.15 L633.19 159.26 L634.76 159.37 L636.33 159.47 L637.91 159.54 L639.5 159.61 L641.1 159.67 L642.7 159.71 L644.31 159.74 L645.93 159.76 L647.55 159.76 L649.17 159.74 L650.8 159.7 L652.43 159.65 L654.06 159.57 L655.69 159.47 L657.32 159.36 L658.95 159.22 L660.58 159.06 L662.21 158.88 L663.83 158.68 L665.45 158.46 L667.06 158.22 L668.68 157.96 L670.29 157.69 L671.89 157.39 L673.49 157.08 L675.09 156.75 L676.67 156.41 L678.25 156.05 L679.82 155.67 L681.38 155.28 L682.93 154.88 L684.47 154.47 L686.01 154.05 L687.54 153.62 L689.06 153.18 L690.57 152.74 M591.96 183.5 L591.8 182.18 L591.63 180.89 L591.47 179.63 L591.3 178.38 L591.13 177.15 L590.96 175.93 L590.78 174.72 L590.59 173.52 L590.4 172.33 L590.19 171.13 L589.96 169.92 L589.72 168.7 L589.47 167.46 L589.21 166.2 L588.92 164.9 L588.63 163.56 L588.33 162.16 L588.02 160.7 L587.71 159.17 L587.4 157.56 L587.09 155.86 L586.8 154.08 L586.51 152.21 L586.24 150.27 L585.98 148.26 L585.73 146.2 L585.48 144.12 L585.24 142.03 L585 139.97 L584.75 137.95 L584.51 135.98 L584.26 134.09 L584.02 132.28 L583.77 130.54 L583.54 128.88 L583.31 127.29 L583.09 125.75 L582.88 124.26 L582.68 122.8 L582.49 121.37 L582.32 119.96 L582.15 118.56 L581.98 117.16 L581.8 115.77 L581.62 114.37 L581.41 112.97 L581.18 111.54 L580.94 110.1 L580.69 108.65 L580.42 107.18 L580.15 105.69 L579.87 104.19 L579.58 102.66 L579.31 101.11 L579.04 99.55 L578.79 97.96 L578.55 96.35 L578.32 94.72 L578.12 93.07 L577.93 91.4 L577.77 89.71 L577.63 88.01 L577.52 86.3 L577.43 84.57 L577.37 82.83 L577.34 81.08 L577.34 79.32 L577.37 77.56 L577.43 75.79 L577.51 74.02 L577.62 72.25 L577.78 70.49 L577.96 68.73 L578.16 66.98 L578.4 65.24 L578.66 63.51 L578.94 61.78 L579.25 60.06 L579.6 58.37 L579.97 56.69 L580.36 55.03 L580.78 53.38 L581.22 51.75 L581.67 50.12 L582.14 48.51 L582.63 46.91 L583.13 45.32 L583.66 43.78 L584.23 42.28 L584.8 40.8 L585.37 39.33 L585.94 37.86 M549.92 140.75 L551.23 140.93 L552.53 141.11 L553.81 141.3 L555.09 141.48 L556.35 141.67 L557.6 141.86 L558.84 142.05 L560.07 142.24 L561.3 142.44 L562.52 142.64 L563.74 142.85 L564.96 143.06 L566.18 143.28 L567.41 143.51 L568.65 143.74 L569.92 143.98 L571.21 144.22 L572.54 144.47 L573.92 144.72 L575.37 144.96 L576.89 145.21 L578.5 145.45 L580.21 145.68 L582.02 145.91 L583.92 146.14 L585.9 146.38 L587.96 146.62 L590.07 146.87 L592.2 147.13 L594.33 147.41 L596.44 147.7 L598.51 148.01 L600.51 148.33 L602.44 148.66 L604.29 148.99 L606.06 149.33 L607.74 149.66 L609.36 149.98 L610.92 150.29 L612.42 150.58 L613.89 150.85 L615.34 151.1 L616.77 151.33 L618.2 151.54 L619.63 151.73 L621.07 151.92 L622.52 152.11 L623.99 152.3 L625.47 152.5 L626.97 152.69 L628.49 152.89 L630.03 153.09 L631.58 153.28 L633.15 153.46 L634.73 153.64 L636.33 153.8 L637.95 153.95 L639.57 154.08 L641.21 154.19 L642.85 154.29 L644.51 154.36 L646.17 154.42 L647.84 154.46 L649.52 154.47 L651.2 154.46 L652.88 154.42 L654.57 154.37 L656.26 154.28 L657.94 154.18 L659.63 154.04 L661.31 153.89 L662.99 153.7 L664.67 153.5 L666.34 153.27 L668.01 153.02 L669.67 152.75 L671.33 152.45 L672.98 152.14 L674.62 151.8 L676.25 151.44 L677.87 151.06 L679.48 150.66 L681.08 150.26 L682.67 149.83 L684.25 149.39 L685.82 148.95 L687.38 148.48 L688.92 148.01 L690.46 147.53 L691.98 147.05 L693.5 146.55 L695 146.05 M600.13 186.5 L599.97 185.2 L599.83 183.93 L599.69 182.68 L599.55 181.45 L599.42 180.23 L599.29 179.03 L599.17 177.85 L599.04 176.67 L598.92 175.51 L598.79 174.35 L598.66 173.2 L598.53 172.05 L598.4 170.89 L598.26 169.73 L598.13 168.55 L597.99 167.35 L597.86 166.11 L597.72 164.82 L597.57 163.45 L597.42 162.01 L597.28 160.49 L597.15 158.88 L597.02 157.17 L596.89 155.37 L596.76 153.49 L596.62 151.52 L596.47 149.5 L596.3 147.42 L596.09 145.31 L595.85 143.2 L595.57 141.1 L595.24 139.04 L594.86 137.03 L594.44 135.08 L593.98 133.21 L593.5 131.42 L592.99 129.71 L592.48 128.07 L591.97 126.51 L591.47 124.99 L590.99 123.53 L590.54 122.09 L590.12 120.68 L589.73 119.28 L589.37 117.88 L589.02 116.49 L588.68 115.1 L588.33 113.72 L587.97 112.35 L587.59 110.97 L587.21 109.58 L586.82 108.16 L586.42 106.72 L586.03 105.25 L585.63 103.76 L585.24 102.23 L584.87 100.68 L584.51 99.1 L584.17 97.48 L583.85 95.84 L583.55 94.17 L583.28 92.47 L583.04 90.75 L582.83 89 L582.65 87.23 L582.51 85.44 L582.4 83.64 L582.33 81.81 L582.29 79.98 L582.29 78.13 L582.32 76.28 L582.4 74.43 L582.52 72.58 L582.66 70.73 L582.84 68.89 L583.05 67.06 L583.3 65.24 L583.57 63.43 L583.88 61.65 L584.22 59.88 L584.59 58.13 L584.99 56.39 L585.41 54.68 L585.85 52.98 L586.32 51.3 L586.82 49.64 L587.37 48.06 L587.94 46.49 L588.53 44.95 L589.13 43.43 L589.74 41.93 L590.36 40.44 L590.98 38.97 L591.61 37.51 L592.24 36.06 L592.86 34.61 M546.99 132.73 L548.28 132.9 L549.57 133.07 L550.84 133.25 L552.1 133.42 L553.35 133.58 L554.6 133.75 L555.83 133.91 L557.06 134.06 L558.28 134.22 L559.5 134.37 L560.71 134.51 L561.92 134.65 L563.12 134.79 L564.33 134.93 L565.53 135.05 L566.74 135.18 L567.96 135.29 L569.19 135.4 L570.45 135.49 L571.75 135.58 L573.09 135.65 L574.49 135.7 L575.96 135.76 L577.54 135.82 L579.21 135.88 L580.98 135.94 L582.83 136.01 L584.77 136.11 L586.78 136.23 L588.83 136.4 L590.92 136.62 L593.01 136.91 L595.09 137.25 L597.14 137.67 L599.15 138.14 L601.09 138.67 L602.96 139.24 L604.75 139.84 L606.47 140.44 L608.11 141.04 L609.69 141.64 L611.21 142.21 L612.69 142.76 L614.14 143.28 L615.57 143.76 L616.99 144.2 L618.41 144.62 L619.83 145.01 L621.27 145.4 L622.73 145.77 L624.2 146.12 L625.7 146.47 L627.22 146.8 L628.77 147.11 L630.34 147.42 L631.93 147.7 L633.55 147.98 L635.19 148.23 L636.84 148.45 L638.52 148.66 L640.21 148.85 L641.91 149.01 L643.63 149.14 L645.36 149.26 L647.1 149.34 L648.85 149.4 L650.61 149.42 L652.36 149.42 L654.13 149.39 L655.89 149.33 L657.65 149.24 L659.41 149.11 L661.17 148.96 L662.92 148.78 L664.67 148.57 L666.41 148.34 L668.14 148.07 L669.86 147.77 L671.57 147.45 L673.28 147.11 L674.96 146.74 L676.64 146.35 L678.31 145.93 L679.96 145.5 L681.6 145.06 L683.22 144.59 L684.83 144.11 L686.42 143.62 L688 143.12 L689.56 142.61 L691.11 142.09 L692.65 141.56 L694.17 141.02 L695.67 140.47 L697.17 139.92 L698.65 139.37 M608.22 188.49 L608.08 187.19 L607.94 185.92 L607.81 184.66 L607.69 183.42 L607.57 182.19 L607.46 180.97 L607.36 179.76 L607.25 178.56 L607.16 177.36 L607.06 176.17 L606.97 174.99 L606.88 173.81 L606.79 172.62 L606.71 171.44 L606.63 170.25 L606.56 169.05 L606.49 167.83 L606.42 166.59 L606.37 165.32 L606.33 164 L606.29 162.64 L606.26 161.21 L606.25 159.72 L606.23 158.15 L606.22 156.51 L606.19 154.79 L606.16 153.02 L606.09 151.18 L605.99 149.3 L605.84 147.4 L605.64 145.49 L605.38 143.57 L605.04 141.67 L604.64 139.79 L604.16 137.93 L603.62 136.1 L603.02 134.32 L602.37 132.58 L601.7 130.89 L601 129.25 L600.29 127.66 L599.59 126.1 L598.9 124.57 L598.24 123.07 L597.6 121.59 L596.99 120.12 L596.41 118.66 L595.85 117.19 L595.32 115.73 L594.79 114.27 L594.27 112.8 L593.75 111.34 L593.23 109.87 L592.7 108.39 L592.17 106.88 L591.64 105.36 L591.12 103.8 L590.61 102.21 L590.12 100.58 L589.65 98.92 L589.21 97.22 L588.8 95.48 L588.42 93.7 L588.08 91.88 L587.79 90.04 L587.53 88.16 L587.32 86.25 L587.16 84.31 L587.04 82.36 L586.98 80.38 L586.97 78.39 L587 76.4 L587.09 74.4 L587.21 72.41 L587.38 70.42 L587.59 68.44 L587.84 66.49 L588.13 64.56 L588.45 62.64 L588.81 60.75 L589.2 58.89 L589.62 57.05 L590.07 55.23 L590.59 53.49 L591.13 51.78 L591.7 50.1 L592.29 48.45 L592.91 46.83 L593.54 45.24 L594.2 43.67 L594.86 42.13 L595.54 40.62 L596.22 39.11 L596.9 37.62 L597.59 36.14 L598.28 34.67 L598.96 33.21 L599.63 31.75 M545 124.78 L546.29 124.95 L547.56 125.13 L548.83 125.3 L550.1 125.47 L551.36 125.64 L552.61 125.81 L553.86 125.97 L555.11 126.12 L556.35 126.27 L557.59 126.41 L558.82 126.54 L560.05 126.66 L561.29 126.78 L562.52 126.89 L563.75 126.98 L564.98 127.07 L566.22 127.15 L567.46 127.22 L568.72 127.28 L569.99 127.32 L571.28 127.35 L572.61 127.37 L573.97 127.38 L575.38 127.38 L576.84 127.37 L578.36 127.35 L579.95 127.34 L581.61 127.33 L583.32 127.35 L585.09 127.4 L586.91 127.49 L588.76 127.65 L590.64 127.87 L592.52 128.18 L594.39 128.57 L596.26 129.04 L598.1 129.59 L599.92 130.21 L601.7 130.9 L603.45 131.63 L605.15 132.39 L606.82 133.17 L608.44 133.95 L610.03 134.71 L611.59 135.46 L613.13 136.17 L614.64 136.85 L616.15 137.49 L617.66 138.09 L619.18 138.67 L620.7 139.22 L622.24 139.74 L623.81 140.26 L625.39 140.75 L627.01 141.21 L628.65 141.66 L630.32 142.07 L632.02 142.46 L633.74 142.82 L635.5 143.15 L637.27 143.44 L639.07 143.71 L640.89 143.94 L642.73 144.15 L644.59 144.31 L646.45 144.45 L648.33 144.55 L650.21 144.61 L652.1 144.63 L654 144.61 L655.89 144.56 L657.78 144.47 L659.66 144.34 L661.54 144.17 L663.41 143.96 L665.27 143.72 L667.11 143.44 L668.94 143.12 L670.76 142.77 L672.56 142.4 L674.34 141.99 L676.1 141.55 L677.85 141.09 L679.57 140.61 L681.27 140.11 L682.96 139.6 L684.62 139.07 L686.26 138.53 L687.88 137.97 L689.48 137.41 L691.05 136.84 L692.62 136.26 L694.18 135.68 L695.73 135.1 L697.26 134.5 L698.77 133.9 L700.28 133.3 L701.77 132.69 M616.25 189.56 L616.11 188.29 L615.97 187.03 L615.85 185.78 L615.73 184.54 L615.62 183.3 L615.51 182.07 L615.41 180.85 L615.31 179.63 L615.22 178.41 L615.13 177.19 L615.05 175.98 L614.96 174.76 L614.88 173.55 L614.8 172.34 L614.73 171.12 L614.66 169.9 L614.59 168.67 L614.53 167.44 L614.47 166.19 L614.42 164.93 L614.37 163.64 L614.33 162.34 L614.29 161 L614.25 159.63 L614.22 158.23 L614.17 156.79 L614.12 155.32 L614.06 153.81 L613.97 152.26 L613.85 150.69 L613.7 149.09 L613.51 147.48 L613.27 145.86 L612.97 144.24 L612.62 142.63 L612.21 141.02 L611.73 139.41 L611.21 137.82 L610.63 136.22 L610 134.63 L609.33 133.05 L608.63 131.47 L607.9 129.89 L607.16 128.33 L606.4 126.77 L605.64 125.21 L604.88 123.67 L604.13 122.12 L603.39 120.58 L602.66 119.04 L601.94 117.49 L601.23 115.93 L600.53 114.37 L599.84 112.79 L599.16 111.21 L598.48 109.6 L597.8 107.98 L597.13 106.34 L596.46 104.67 L595.82 102.97 L595.19 101.22 L594.6 99.43 L594.05 97.6 L593.53 95.71 L593.06 93.78 L592.64 91.8 L592.28 89.78 L591.98 87.72 L591.73 85.62 L591.56 83.49 L591.45 81.33 L591.42 79.16 L591.45 76.97 L591.54 74.78 L591.69 72.6 L591.89 70.44 L592.15 68.3 L592.44 66.19 L592.78 64.11 L593.16 62.06 L593.58 60.06 L594.06 58.13 L594.58 56.24 L595.13 54.39 L595.72 52.59 L596.35 50.82 L597 49.1 L597.67 47.42 L598.36 45.77 L599.06 44.15 L599.77 42.57 L600.5 41.01 L601.23 39.49 L601.97 37.99 L602.73 36.52 L603.48 35.06 L604.23 33.62 L604.97 32.19 L605.7 30.77 L606.42 29.34 M543.75 116.91 L545.03 117.08 L546.3 117.26 L547.56 117.43 L548.82 117.61 L550.08 117.79 L551.34 117.97 L552.59 118.14 L553.84 118.31 L555.09 118.47 L556.34 118.62 L557.58 118.77 L558.82 118.91 L560.06 119.03 L561.31 119.15 L562.55 119.25 L563.79 119.35 L565.04 119.43 L566.29 119.51 L567.55 119.58 L568.82 119.63 L570.09 119.69 L571.38 119.73 L572.68 119.77 L574.01 119.8 L575.35 119.83 L576.72 119.86 L578.11 119.88 L579.53 119.91 L580.99 119.94 L582.47 119.99 L583.99 120.06 L585.53 120.15 L587.09 120.29 L588.67 120.49 L590.26 120.75 L591.86 121.08 L593.46 121.48 L595.08 121.96 L596.7 122.5 L598.32 123.11 L599.95 123.77 L601.58 124.48 L603.21 125.23 L604.84 126.02 L606.46 126.83 L608.08 127.65 L609.69 128.47 L611.29 129.3 L612.89 130.11 L614.49 130.9 L616.1 131.67 L617.72 132.43 L619.35 133.16 L621 133.86 L622.67 134.55 L624.37 135.2 L626.1 135.82 L627.86 136.41 L629.66 136.95 L631.5 137.45 L633.37 137.9 L635.28 138.31 L637.21 138.68 L639.18 139.01 L641.17 139.29 L643.19 139.54 L645.22 139.74 L647.26 139.89 L649.32 140 L651.38 140.05 L653.45 140.06 L655.51 140.02 L657.56 139.92 L659.6 139.78 L661.63 139.58 L663.64 139.34 L665.63 139.05 L667.59 138.71 L669.54 138.33 L671.46 137.9 L673.35 137.44 L675.21 136.95 L677.04 136.42 L678.84 135.88 L680.61 135.32 L682.35 134.74 L684.06 134.14 L685.74 133.54 L687.41 132.94 L689.05 132.33 L690.66 131.71 L692.25 131.09 L693.81 130.46 L695.36 129.82 L696.89 129.18 L698.4 128.53 L699.89 127.88 L701.37 127.23 L702.84 126.57 L704.3 125.91 M632.05 189.22 L631.92 188 L631.79 186.77 L631.67 185.55 L631.55 184.33 L631.44 183.12 L631.33 181.9 L631.23 180.69 L631.12 179.48 L631.02 178.26 L630.92 177.05 L630.83 175.83 L630.73 174.62 L630.63 173.4 L630.54 172.19 L630.44 170.98 L630.34 169.76 L630.24 168.55 L630.14 167.34 L630.04 166.13 L629.94 164.91 L629.83 163.7 L629.71 162.49 L629.59 161.27 L629.47 160.06 L629.33 158.84 L629.19 157.63 L629.04 156.41 L628.87 155.2 L628.69 153.98 L628.5 152.77 L628.29 151.56 L628.06 150.35 L627.81 149.14 L627.54 147.92 L627.25 146.72 L626.93 145.51 L626.58 144.3 L626.21 143.09 L625.81 141.89 L625.37 140.69 L624.91 139.48 L624.41 138.26 L623.87 137.04 L623.3 135.79 L622.7 134.53 L622.05 133.24 L621.37 131.91 L620.66 130.55 L619.9 129.16 L619.11 127.72 L618.28 126.24 L617.41 124.71 L616.51 123.14 L615.58 121.51 L614.62 119.82 L613.62 118.05 L612.61 116.22 L611.6 114.32 L610.58 112.34 L609.57 110.28 L608.59 108.13 L607.64 105.9 L606.74 103.58 L605.9 101.16 L605.15 98.66 L604.49 96.05 L603.92 93.36 L603.46 90.59 L603.1 87.76 L602.85 84.88 L602.7 81.97 L602.65 79.04 L602.69 76.13 L602.82 73.26 L603.03 70.46 L603.31 67.72 L603.65 65.08 L604.05 62.53 L604.51 60.09 L605.02 57.75 L605.59 55.51 L606.22 53.36 L606.9 51.32 L607.63 49.37 L608.38 47.5 L609.17 45.72 L609.98 44.01 L610.81 42.38 L611.65 40.8 L612.51 39.29 L613.37 37.82 L614.22 36.4 L615.05 34.97 L615.86 33.57 L616.65 32.18 L617.42 30.81 L618.19 29.45 L618.94 28.08 L619.7 26.7 L620.46 25.31 M543.28 101.26 L544.53 101.43 L545.77 101.6 L547.01 101.78 L548.25 101.96 L549.48 102.14 L550.71 102.32 L551.94 102.5 L553.17 102.68 L554.4 102.85 L555.63 103.02 L556.86 103.19 L558.09 103.35 L559.32 103.5 L560.55 103.65 L561.78 103.8 L563 103.93 L564.23 104.06 L565.46 104.18 L566.69 104.3 L567.92 104.42 L569.14 104.53 L570.37 104.64 L571.61 104.75 L572.84 104.87 L574.07 104.99 L575.31 105.11 L576.55 105.24 L577.79 105.38 L579.03 105.52 L580.27 105.68 L581.52 105.85 L582.76 106.03 L584.01 106.23 L585.26 106.45 L586.51 106.69 L587.75 106.96 L589 107.27 L590.25 107.6 L591.5 107.98 L592.76 108.41 L594.02 108.87 L595.28 109.38 L596.56 109.94 L597.86 110.54 L599.17 111.18 L600.51 111.87 L601.89 112.6 L603.29 113.37 L604.74 114.18 L606.23 115.03 L607.77 115.91 L609.37 116.83 L611.03 117.78 L612.75 118.75 L614.55 119.75 L616.41 120.75 L618.36 121.75 L620.39 122.74 L622.51 123.71 L624.72 124.64 L627.02 125.53 L629.41 126.33 L631.9 127.04 L634.46 127.66 L637.11 128.18 L639.81 128.61 L642.55 128.96 L645.33 129.23 L648.12 129.43 L650.91 129.54 L653.68 129.58 L656.41 129.53 L659.09 129.41 L661.71 129.2 L664.26 128.92 L666.73 128.57 L669.12 128.14 L671.44 127.65 L673.67 127.1 L675.82 126.5 L677.9 125.86 L679.89 125.19 L681.81 124.49 L683.66 123.78 L685.45 123.04 L687.18 122.3 L688.85 121.55 L690.48 120.8 L692.06 120.04 L693.61 119.28 L695.12 118.52 L696.6 117.77 L698.05 117.02 L699.47 116.27 L700.88 115.53 L702.26 114.79 L703.63 114.05 L704.99 113.31 L706.34 112.57 L707.68 111.83 M639.83 187.88 L639.7 186.68 L639.58 185.47 L639.46 184.27 L639.35 183.08 L639.24 181.88 L639.13 180.69 L639.03 179.5 L638.93 178.31 L638.83 177.12 L638.73 175.93 L638.63 174.75 L638.53 173.56 L638.43 172.38 L638.33 171.2 L638.23 170.01 L638.13 168.83 L638.03 167.66 L637.92 166.48 L637.81 165.31 L637.7 164.14 L637.58 162.98 L637.46 161.82 L637.33 160.66 L637.19 159.5 L637.05 158.36 L636.9 157.21 L636.74 156.07 L636.57 154.93 L636.39 153.8 L636.2 152.68 L636 151.56 L635.78 150.45 L635.54 149.34 L635.29 148.24 L635.02 147.14 L634.74 146.05 L634.43 144.97 L634.1 143.89 L633.75 142.82 L633.37 141.75 L632.97 140.68 L632.54 139.61 L632.08 138.55 L631.59 137.47 L631.07 136.39 L630.52 135.29 L629.93 134.17 L629.31 133.02 L628.65 131.82 L627.96 130.55 L627.23 129.21 L626.46 127.79 L625.67 126.29 L624.83 124.69 L623.97 122.98 L623.08 121.15 L622.16 119.18 L621.23 117.07 L620.28 114.8 L619.24 112.3 L618.31 109.7 L617.41 106.94 L616.56 104.02 L615.81 100.94 L615.24 97.72 L614.82 94.38 L614.51 90.93 L614.32 87.4 L614.22 83.82 L614.21 80.23 L614.28 76.67 L614.41 73.15 L614.6 69.73 L614.82 66.43 L615.07 63.27 L615.33 60.3 L615.61 57.51 L615.9 54.91 L616.22 52.5 L616.57 50.26 L616.95 48.17 L617.38 46.21 L617.85 44.38 L618.38 42.66 L618.95 41.04 L619.56 39.5 L620.21 38.03 L620.89 36.62 L621.58 35.26 L622.28 33.94 L622.98 32.66 L623.69 31.39 L624.4 30.14 L625.11 28.9 L625.83 27.65 L626.55 26.39 L627.29 25.14 L628.05 23.87 M544.24 93.44 L545.47 93.6 L546.69 93.77 L547.91 93.94 L549.12 94.11 L550.34 94.27 L551.55 94.44 L552.75 94.61 L553.96 94.77 L555.16 94.94 L556.37 95.1 L557.57 95.25 L558.76 95.41 L559.96 95.56 L561.16 95.7 L562.35 95.85 L563.54 95.99 L564.73 96.12 L565.92 96.26 L567.1 96.39 L568.28 96.53 L569.46 96.66 L570.64 96.8 L571.81 96.94 L572.98 97.08 L574.15 97.23 L575.31 97.39 L576.47 97.55 L577.63 97.72 L578.78 97.9 L579.93 98.09 L581.08 98.29 L582.22 98.51 L583.36 98.74 L584.49 98.99 L585.62 99.27 L586.75 99.56 L587.87 99.87 L589 100.21 L590.12 100.58 L591.24 100.98 L592.37 101.4 L593.5 101.86 L594.64 102.35 L595.79 102.88 L596.95 103.44 L598.14 104.04 L599.36 104.68 L600.62 105.35 L601.92 106.06 L603.28 106.82 L604.71 107.61 L606.21 108.43 L607.81 109.29 L609.52 110.17 L611.35 111.08 L613.33 112 L615.45 112.92 L617.73 113.84 L620.27 114.8 L622.92 115.64 L625.73 116.43 L628.71 117.15 L631.84 117.78 L635.11 118.31 L638.49 118.74 L641.96 119.08 L645.47 119.33 L648.99 119.5 L652.48 119.59 L655.91 119.61 L659.25 119.56 L662.45 119.45 L665.5 119.29 L668.39 119.08 L671.11 118.82 L673.66 118.52 L676.05 118.18 L678.3 117.8 L680.43 117.38 L682.43 116.92 L684.34 116.42 L686.15 115.87 L687.88 115.28 L689.53 114.65 L691.11 113.99 L692.64 113.3 L694.12 112.59 L695.55 111.86 L696.94 111.13 L698.3 110.38 L699.63 109.63 L700.93 108.89 L702.22 108.14 L703.49 107.39 L704.76 106.64 L706.01 105.89 L707.27 105.14 L708.53 104.38 M647.49 185.59 L647.38 184.42 L647.26 183.26 L647.15 182.1 L647.05 180.95 L646.95 179.8 L646.85 178.65 L646.75 177.5 L646.66 176.36 L646.57 175.22 L646.48 174.08 L646.38 172.94 L646.29 171.81 L646.2 170.68 L646.11 169.55 L646.02 168.43 L645.93 167.3 L645.83 166.19 L645.74 165.08 L645.64 163.97 L645.54 162.86 L645.43 161.76 L645.33 160.67 L645.21 159.58 L645.1 158.5 L644.98 157.42 L644.85 156.35 L644.72 155.29 L644.58 154.23 L644.44 153.18 L644.29 152.14 L644.13 151.11 L643.96 150.08 L643.78 149.06 L643.59 148.05 L643.39 147.04 L643.18 146.05 L642.96 145.06 L642.72 144.08 L642.47 143.11 L642.21 142.15 L641.92 141.19 L641.63 140.24 L641.31 139.28 L640.98 138.33 L640.63 137.37 L640.26 136.4 L639.88 135.4 L639.48 134.38 L639.07 133.32 L638.64 132.19 L638.21 130.99 L637.76 129.69 L637.32 128.26 L636.88 126.69 L636.44 124.94 L636 123.01 L635.57 120.85 L635.15 118.47 L634.73 115.85 L634.31 112.99 L633.9 109.89 L633.52 106.56 L633.18 103.01 L632.91 99.26 L632.7 95.32 L632.57 91.22 L632.53 87.02 L632.57 82.74 L632.69 78.43 L632.89 74.15 L633.15 69.93 L633.43 65.82 L633.68 61.89 L633.88 58.21 L633.98 54.8 L633.97 51.69 L633.84 48.89 L633.58 46.4 L633.17 44.22 L632.71 42.3 L632.29 40.58 L631.95 39.02 L631.7 37.6 L631.57 36.29 L631.55 35.06 L631.64 33.9 L631.83 32.79 L632.11 31.72 L632.46 30.68 L632.88 29.65 L633.35 28.63 L633.87 27.6 L634.43 26.57 L635.03 25.52 L635.66 24.44 L636.32 23.33 M546.1 85.65 L547.3 85.81 L548.49 85.96 L549.67 86.11 L550.85 86.27 L552.02 86.42 L553.19 86.57 L554.35 86.71 L555.51 86.86 L556.67 87 L557.83 87.14 L558.98 87.28 L560.13 87.42 L561.27 87.56 L562.41 87.69 L563.55 87.82 L564.68 87.95 L565.81 88.08 L566.94 88.21 L568.06 88.34 L569.17 88.47 L570.28 88.61 L571.39 88.74 L572.49 88.88 L573.58 89.02 L574.67 89.16 L575.75 89.32 L576.83 89.47 L577.89 89.64 L578.95 89.81 L580 89.99 L581.05 90.19 L582.09 90.39 L583.11 90.6 L584.14 90.83 L585.15 91.07 L586.15 91.33 L587.15 91.61 L588.14 91.9 L589.13 92.21 L590.11 92.53 L591.09 92.88 L592.07 93.25 L593.06 93.64 L594.05 94.05 L595.06 94.48 L596.09 94.94 L597.16 95.41 L598.27 95.89 L599.44 96.39 L600.68 96.9 L602.02 97.41 L603.47 97.93 L605.04 98.45 L606.77 98.96 L608.67 99.46 L610.76 99.96 L613.07 100.44 L615.64 100.9 L618.53 101.34 L621.72 101.75 L625.16 102.11 L628.86 102.41 L632.77 102.65 L636.87 102.83 L641.11 102.97 L645.45 103.07 L649.82 103.14 L654.17 103.18 L658.44 103.2 L662.55 103.2 L666.45 103.21 L670.06 103.21 L673.29 103.23 L675.99 103.24 L678.52 103.38 L680.93 103.61 L683.18 103.85 L685.26 104.05 L687.17 104.2 L688.94 104.27 L690.59 104.25 L692.12 104.14 L693.56 103.94 L694.92 103.64 L696.21 103.27 L697.45 102.82 L698.65 102.31 L699.81 101.76 L700.95 101.17 L702.07 100.55 L703.18 99.9 L704.28 99.24 L705.38 98.57 L706.49 97.88 L707.6 97.19 L708.72 96.48 M655.05 182.48 L654.95 181.34 L654.85 180.21 L654.76 179.09 L654.67 177.96 L654.58 176.85 L654.5 175.74 L654.42 174.63 L654.34 173.52 L654.26 172.42 L654.18 171.32 L654.11 170.23 L654.04 169.14 L653.96 168.05 L653.89 166.96 L653.82 165.89 L653.75 164.81 L653.68 163.74 L653.61 162.67 L653.53 161.61 L653.46 160.56 L653.39 159.5 L653.31 158.46 L653.24 157.42 L653.16 156.39 L653.08 155.36 L653.01 154.34 L652.92 153.33 L652.84 152.33 L652.76 151.33 L652.67 150.34 L652.58 149.36 L652.49 148.39 L652.4 147.43 L652.3 146.47 L652.21 145.53 L652.11 144.59 L652.01 143.67 L651.9 142.75 L651.8 141.84 L651.69 140.94 L651.59 140.04 L651.49 139.14 L651.39 138.24 L651.29 137.33 L651.21 136.4 L651.14 135.44 L651.09 134.43 L651.06 133.37 L651.06 132.22 L651.1 130.96 L651.19 129.58 L651.33 128.03 L651.52 126.29 L651.78 124.34 L652.1 122.14 L652.48 119.69 L652.92 116.96 L653.38 113.95 L653.86 110.68 L654.31 107.15 L654.7 103.4 L654.98 99.45 L655.14 95.31 L655.18 91.03 L655.12 86.6 L655 82.08 L654.86 77.5 L654.75 72.94 L654.75 68.51 L654.8 64.22 L654.77 60.05 L654.6 56.07 L654.23 52.36 L653.66 48.99 L652.91 45.95 L652 43.27 L650.98 40.93 L649.9 38.9 L648.83 37.13 L647.81 35.59 L646.89 34.24 L646.1 33.03 L645.46 31.94 L644.98 30.95 L644.65 30.01 L644.47 29.12 L644.42 28.26 L644.48 27.4 L644.65 26.54 L644.91 25.67 L645.24 24.78 L645.65 23.85 M548.86 77.9 L550.04 78.04 L551.2 78.18 L552.36 78.32 L553.51 78.45 L554.66 78.58 L555.79 78.71 L556.93 78.84 L558.05 78.96 L559.18 79.08 L560.3 79.2 L561.41 79.32 L562.52 79.43 L563.62 79.54 L564.72 79.65 L565.81 79.76 L566.9 79.87 L567.98 79.98 L569.06 80.08 L570.13 80.19 L571.19 80.29 L572.25 80.4 L573.3 80.51 L574.34 80.62 L575.37 80.73 L576.4 80.84 L577.42 80.96 L578.43 81.07 L579.43 81.2 L580.42 81.32 L581.4 81.45 L582.38 81.59 L583.34 81.73 L584.29 81.88 L585.23 82.03 L586.16 82.19 L587.08 82.35 L587.99 82.53 L588.89 82.71 L589.78 82.89 L590.67 83.08 L591.56 83.27 L592.46 83.47 L593.36 83.67 L594.29 83.86 L595.25 84.04 L596.27 84.2 L597.35 84.35 L598.52 84.47 L599.8 84.55 L601.21 84.59 L602.8 84.59 L604.57 84.54 L606.56 84.43 L608.8 84.27 L611.31 84.07 L614.11 83.82 L617.2 83.52 L620.59 83.2 L624.27 82.85 L628.2 82.51 L632.34 82.2 L636.64 81.94 L641.06 81.73 L645.55 81.61 L650.08 81.6 L654.64 81.71 L659.18 81.96 L663.63 82.32 L667.92 82.77 L671.97 83.29 L675.76 83.86 L679.24 84.4 L682.38 85.02 L685.17 85.73 L687.63 86.52 L689.78 87.34 L691.67 88.15 L693.34 88.9 L694.84 89.55 L696.18 90.08 L697.4 90.47 L698.53 90.73 L699.58 90.84 L700.58 90.83 L701.54 90.7 L702.48 90.48 L703.4 90.18 L704.32 89.8 L705.24 89.38 L706.17 88.9 L707.12 88.39 L708.09 87.85 M662.53 178.51 L662.45 177.41 L662.38 176.31 L662.31 175.21 L662.24 174.12 L662.17 173.04 L662.11 171.96 L662.06 170.89 L662 169.82 L661.95 168.75 L661.9 167.69 L661.85 166.63 L661.81 165.58 L661.77 164.53 L661.73 163.49 L661.69 162.44 L661.66 161.41 L661.62 160.37 L661.59 159.35 L661.56 158.32 L661.54 157.3 L661.51 156.29 L661.49 155.28 L661.48 154.28 L661.46 153.28 L661.45 152.29 L661.44 151.3 L661.44 150.33 L661.44 149.35 L661.45 148.39 L661.46 147.43 L661.48 146.48 L661.5 145.53 L661.53 144.59 L661.57 143.66 L661.62 142.74 L661.68 141.82 L661.75 140.9 L661.84 139.99 L661.94 139.08 L662.06 138.16 L662.2 137.24 L662.37 136.3 L662.58 135.33 L662.82 134.33 L663.1 133.28 L663.44 132.16 L663.84 130.95 L664.3 129.63 L664.84 128.17 L665.46 126.54 L666.17 124.73 L666.98 122.7 L667.88 120.43 L668.86 117.9 L669.91 115.11 L671.01 112.05 L672.13 108.76 L673.21 105.27 L674.08 101.65 L674.7 97.97 L675.23 94.22 L675.66 90.36 L675.98 86.37 L676.17 82.15 L676.23 77.74 L676.14 73.43 L675.97 69.53 L675.68 65.88 L675.23 61.99 L674.62 57.76 L673.81 53.59 L672.8 49.67 L671.58 46.12 L670.19 43.06 L668.68 40.53 L667.11 38.46 L665.52 36.72 L663.97 35.2 L662.52 33.86 L661.21 32.66 L660.08 31.56 L659.12 30.55 L658.34 29.61 L657.73 28.73 L657.29 27.88 L656.99 27.05 L656.82 26.21 M552.66 70.22 L553.81 70.34 L554.94 70.46 L556.07 70.57 L557.18 70.68 L558.29 70.78 L559.4 70.88 L560.49 70.97 L561.58 71.07 L562.67 71.15 L563.74 71.24 L564.82 71.32 L565.88 71.4 L566.95 71.47 L568 71.54 L569.05 71.61 L570.1 71.68 L571.13 71.74 L572.17 71.8 L573.19 71.86 L574.21 71.91 L575.22 71.96 L576.23 72.01 L577.23 72.06 L578.23 72.11 L579.21 72.16 L580.19 72.2 L581.16 72.24 L582.13 72.27 L583.08 72.31 L584.02 72.33 L584.96 72.36 L585.88 72.38 L586.8 72.39 L587.71 72.4 L588.61 72.4 L589.5 72.39 L590.39 72.37 L591.28 72.34 L592.18 72.3 L593.08 72.23 L594.01 72.15 L594.96 72.03 L595.95 71.87 L596.99 71.68 L598.11 71.43 L599.33 71.13 L600.69 70.78 L602.2 70.36 L603.9 69.86 L605.82 69.27 L607.99 68.58 L610.44 67.79 L613.19 66.92 L616.26 65.97 L619.64 64.94 L623.32 63.84 L627.25 62.77 L631.35 61.8 L635.53 60.94 L639.72 60.28 L643.89 59.82 L648.06 59.59 L652.26 59.56 L656.49 59.78 L660.74 60.25 L664.96 60.95 L669.08 61.87 L673.06 62.93 L676.86 63.88 L680.47 64.7 L683.81 65.67 L686.84 66.82 L689.53 68.1 L691.87 69.48 L693.84 70.91 L695.52 72.3 L696.97 73.59 L698.23 74.75 L699.34 75.73 L700.35 76.53 L701.28 77.16 L702.15 77.61 L702.99 77.91 L703.81 78.07 L704.62 78.11 L705.44 78.05 L706.28 77.9 M669.97 173.54 L669.92 172.46 L669.88 171.38 L669.84 170.31 L669.8 169.24 L669.77 168.18 L669.75 167.12 L669.72 166.07 L669.71 165.02 L669.69 163.98 L669.68 162.94 L669.68 161.9 L669.68 160.86 L669.68 159.84 L669.69 158.81 L669.71 157.79 L669.73 156.77 L669.75 155.75 L669.78 154.74 L669.82 153.73 L669.86 152.72 L669.91 151.71 L669.97 150.71 L670.03 149.71 L670.11 148.71 L670.19 147.72 L670.28 146.72 L670.38 145.73 L670.5 144.74 L670.63 143.76 L670.77 142.77 L670.93 141.79 L671.1 140.8 L671.29 139.82 L671.51 138.83 L671.74 137.83 L672.01 136.83 L672.3 135.82 L672.62 134.79 L672.98 133.73 L673.38 132.65 L673.82 131.52 L674.32 130.35 L674.86 129.11 L675.47 127.8 L676.14 126.4 L676.88 124.89 L677.68 123.25 L678.54 121.46 L679.47 119.51 L680.44 117.38 L681.45 115.07 L682.49 112.57 L683.54 109.89 L684.59 107.05 L685.64 104.09 L686.65 101 L687.62 97.8 L688.52 94.48 L689.31 91.02 L690.01 87.44 L690.59 83.75 L691.04 79.99 L691.31 76.22 L691.36 72.53 L691.06 68.97 L690.49 65.54 L689.73 62.15 L688.79 58.81 L687.68 55.49 L686.4 52.23 L684.97 49.06 L683.41 46.05 L681.76 43.28 L680.06 40.83 L678.36 38.73 L676.7 37.03 L675.15 35.68 L673.74 34.49 L672.47 33.36 L671.37 32.29 M557.53 62.56 L558.66 62.65 L559.77 62.74 L560.87 62.81 L561.96 62.88 L563.05 62.95 L564.13 63.01 L565.2 63.06 L566.28 63.12 L567.35 63.17 L568.41 63.21 L569.46 63.25 L570.51 63.28 L571.55 63.31 L572.59 63.33 L573.62 63.34 L574.64 63.35 L575.66 63.35 L576.68 63.34 L577.69 63.33 L578.69 63.31 L579.69 63.28 L580.68 63.24 L581.66 63.2 L582.64 63.15 L583.63 63.09 L584.6 63.02 L585.57 62.95 L586.54 62.86 L587.5 62.75 L588.46 62.63 L589.41 62.5 L590.36 62.34 L591.31 62.17 L592.26 61.98 L593.22 61.75 L594.19 61.51 L595.18 61.25 L596.2 60.96 L597.25 60.63 L598.34 60.25 L599.5 59.81 L600.73 59.32 L602.06 58.76 L603.51 58.13 L605.1 57.4 L606.87 56.59 L608.85 55.69 L611.05 54.71 L613.5 53.63 L616.22 52.48 L619.22 51.21 L622.49 49.85 L626.01 48.48 L629.72 47.15 L633.51 45.96 L637.15 45 L640.76 44.24 L644.42 43.65 L648.13 43.24 L651.89 42.99 L655.69 42.9 L659.51 42.92 L663.32 43.09 L667.06 43.46 L670.71 44.11 L674.24 45.15 L677.59 46.62 L680.74 48.38 L683.69 50.29 L686.4 52.23 L688.88 54.12 L691.1 55.95 L693.08 57.67 L694.82 59.27 L696.36 60.72 L697.72 62.01 L698.93 63.13 L700.03 64.07 L701.05 64.84 L702.02 65.45 M677.46 167.37 L677.46 166.31 L677.46 165.26 L677.47 164.22 L677.48 163.18 L677.5 162.14 L677.52 161.1 L677.55 160.07 L677.58 159.04 L677.62 158.01 L677.67 156.99 L677.72 155.96 L677.78 154.93 L677.85 153.91 L677.92 152.89 L678.01 151.86 L678.1 150.84 L678.19 149.82 L678.3 148.79 L678.42 147.77 L678.55 146.74 L678.7 145.71 L678.85 144.68 L679.02 143.65 L679.2 142.61 L679.39 141.57 L679.6 140.52 L679.83 139.47 L680.07 138.41 L680.34 137.34 L680.63 136.26 L680.93 135.17 L681.27 134.07 L681.63 132.95 L682.02 131.81 L682.44 130.65 L682.9 129.47 L683.4 128.26 L683.93 127.01 L684.49 125.72 L685.09 124.37 L685.73 122.97 L686.41 121.51 L687.12 119.96 L687.88 118.34 L688.66 116.62 L689.47 114.8 L690.31 112.89 L691.17 110.87 L692.03 108.74 L692.9 106.51 L693.76 104.17 L694.6 101.73 L695.4 99.19 L696.16 96.55 L696.85 93.81 L697.46 90.99 L697.98 88.09 L698.42 85.13 L698.75 82.12 L698.94 79.08 L698.99 76.04 L698.87 73.02 L698.55 70.04 L698.06 67.11 L697.39 64.23 L696.58 61.41 L695.63 58.63 L694.54 55.92 L693.34 53.29 L692.04 50.77 L690.66 48.39 L689.23 46.19 M563.8 54.93 L564.9 54.98 L565.99 55.02 L567.07 55.06 L568.14 55.08 L569.2 55.1 L570.26 55.11 L571.31 55.11 L572.35 55.11 L573.39 55.09 L574.42 55.07 L575.45 55.04 L576.49 55.01 L577.52 54.97 L578.55 54.93 L579.57 54.87 L580.59 54.8 L581.6 54.72 L582.61 54.63 L583.62 54.53 L584.62 54.41 L585.63 54.28 L586.63 54.14 L587.63 53.98 L588.63 53.81 L589.65 53.63 L590.68 53.46 L591.7 53.27 L592.74 53.05 L593.77 52.81 L594.82 52.55 L595.88 52.26 L596.95 51.94 L598.04 51.59 L599.16 51.21 L600.32 50.78 L601.51 50.31 L602.76 49.79 L604.06 49.22 L605.44 48.6 L606.9 47.94 L608.45 47.21 L610.13 46.44 L611.93 45.61 L613.87 44.73 L615.96 43.79 L618.19 42.74 L620.58 41.65 L623.1 40.54 L625.75 39.44 L628.5 38.38 L631.31 37.41 L634.19 36.53 L637.11 35.75 L640.1 35.07 L643.15 34.53 L646.26 34.12 L649.43 33.85 L652.64 33.73 L655.87 33.75 L659.1 33.93 L662.34 34.22 L665.55 34.66 L668.71 35.25 L671.8 35.98 L674.78 36.92 L677.67 38.32 L680.41 40.07 L683 41.93 L685.42 43.8 L687.65 45.6 L689.7 47.28 L691.57 48.82 M685.19 159.49 L685.24 158.43 L685.3 157.36 L685.37 156.3 L685.44 155.24 L685.52 154.18 L685.61 153.12 L685.71 152.06 L685.82 151 L685.93 149.94 L686.06 148.88 L686.19 147.81 L686.33 146.74 L686.49 145.66 L686.65 144.58 L686.83 143.5 L687.01 142.41 L687.21 141.31 L687.42 140.2 L687.65 139.09 L687.89 137.97 L688.14 136.84 L688.42 135.69 L688.71 134.54 L689.03 133.38 L689.37 132.2 L689.73 131.01 L690.11 129.8 L690.51 128.57 L690.93 127.31 L691.37 126.03 L691.83 124.72 L692.32 123.38 L692.83 122 L693.36 120.58 L693.92 119.13 L694.49 117.63 L695.08 116.08 L695.69 114.48 L696.32 112.83 L696.95 111.12 L697.59 109.35 L698.23 107.52 L698.87 105.62 L699.5 103.65 L700.11 101.61 L700.69 99.51 L701.24 97.34 L701.75 95.1 L702.21 92.8 L702.62 90.44 L702.95 88.03 L703.21 85.58 L703.42 83.09 L703.53 80.57 L703.55 78.03 L703.47 75.49 L703.28 72.95 L702.98 70.42 L702.55 67.93 L702.02 65.45 M571.93 47.2 L573.04 47.19 L574.13 47.18 L575.22 47.16 L576.3 47.12 L577.38 47.08 L578.45 47.02 L579.52 46.95 L580.59 46.87 L581.65 46.77 L582.71 46.67 L583.76 46.55 L584.83 46.43 L585.92 46.34 L587 46.23 L588.09 46.1 L589.18 45.96 L590.26 45.8 L591.35 45.63 L592.45 45.43 L593.55 45.22 L594.66 44.99 L595.78 44.74 L596.91 44.47 L598.05 44.16 L599.2 43.83 L600.38 43.47 L601.58 43.09 L602.81 42.68 L604.07 42.24 L605.37 41.77 L606.71 41.28 L608.11 40.75 L609.57 40.19 L611.09 39.6 L612.68 38.99 L614.34 38.34 L616.05 37.62 L617.82 36.85 L619.67 36.06 L621.58 35.25 L623.57 34.44 L625.62 33.64 L627.74 32.85 L629.94 32.14 L632.19 31.45 L634.51 30.82 L636.9 30.24 L639.36 29.73 L641.88 29.31 L644.45 28.99 L647.08 28.76 L649.75 28.65 L652.45 28.64 L655.18 28.76 L657.91 29.01 L660.63 29.39 L663.35 29.9 L666.07 30.53 L668.74 31.32 L671.37 32.29 M693.51 148.45 L693.64 147.36 L693.78 146.26 L693.93 145.16 L694.09 144.05 L694.26 142.94 L694.44 141.83 L694.62 140.7 L694.82 139.57 L695.03 138.43 L695.26 137.29 L695.51 136.14 L695.77 134.98 L696.04 133.81 L696.32 132.62 L696.62 131.42 L696.93 130.21 L697.25 128.97 L697.58 127.72 L697.93 126.45 L698.29 125.16 L698.67 123.85 L699.06 122.52 L699.46 121.15 L699.87 119.77 L700.29 118.35 L700.73 116.91 L701.17 115.43 L701.62 113.93 L702.08 112.38 L702.54 110.81 L703 109.19 L703.46 107.54 L703.92 105.85 L704.37 104.11 L704.81 102.33 L705.24 100.51 L705.64 98.64 L706.03 96.73 L706.38 94.78 L706.71 92.79 L706.99 90.76 L707.24 88.7 L707.44 86.6 L707.59 84.48 M583.41 39.18 L584.54 39.12 L585.68 39.06 L586.81 38.98 L587.94 38.89 L589.07 38.78 L590.19 38.66 L591.32 38.53 L592.46 38.38 L593.59 38.21 L594.73 38.03 L595.87 37.82 L597.02 37.58 L598.18 37.34 L599.35 37.07 L600.53 36.79 L601.73 36.49 L602.95 36.17 L604.2 35.84 L605.47 35.49 L606.77 35.12 L608.1 34.73 L609.46 34.32 L610.86 33.9 L612.29 33.46 L613.75 33.01 L615.23 32.46 L616.75 31.9 L618.31 31.32 L619.91 30.73 L621.54 30.14 L623.23 29.54 L624.95 28.94 L626.73 28.35 L628.55 27.81 L630.42 27.3 L632.34 26.8 L634.31 26.33 L636.34 25.9 L638.41 25.5 L640.53 25.15 L642.69 24.87 L644.89 24.65 L647.13 24.5 L649.39 24.42" fill="none" stroke="#787878" stroke-width="0.62"/>
<g clip-path="url(#clip_b)">
<ellipse cx="640.09" cy="72.38" rx="44" ry="28" fill="url(#g8)"/>
<ellipse cx="670.22" cy="71.13" rx="46" ry="29" fill="url(#g9)"/>
<ellipse cx="587.36" cy="149.62" rx="42.69" ry="25.05" fill="url(#g10)" transform="rotate(30 587.36 149.62)"/>
</g>
<path d="M624.19 189.79 L624.05 188.53 L623.92 187.28 L623.8 186.04 L623.68 184.79 L623.57 183.56 L623.46 182.32 L623.35 181.08 L623.25 179.85 L623.16 178.61 L623.06 177.38 L622.97 176.14 L622.88 174.9 L622.79 173.67 L622.7 172.43 L622.61 171.19 L622.53 169.95 L622.45 168.71 L622.36 167.47 L622.28 166.22 L622.2 164.97 L622.11 163.71 L622.03 162.44 L621.94 161.16 L621.84 159.87 L621.74 158.57 L621.63 157.26 L621.52 155.94 L621.38 154.61 L621.24 153.27 L621.07 151.92 L620.88 150.56 L620.67 149.19 L620.42 147.8 L620.15 146.41 L619.83 145.01 L619.48 143.61 L619.09 142.23 L618.66 140.86 L618.18 139.48 L617.66 138.09 L617.1 136.69 L616.51 135.27 L615.87 133.83 L615.2 132.38 L614.49 130.9 L613.76 129.4 L613 127.89 L612.21 126.35 L611.4 124.8 L610.57 123.23 L609.72 121.63 L608.86 120.02 L607.98 118.38 L607.11 116.72 L606.23 115.03 L605.35 113.3 L604.48 111.55 L603.62 109.76 L602.76 107.93 L601.92 106.06 L601.11 104.15 L600.32 102.18 L599.58 100.15 L598.89 98.06 L598.27 95.89 L597.72 93.66 L597.23 91.37 L596.83 89.03 L596.5 86.64 L596.27 84.2 L596.13 81.74 L596.09 79.24 L596.13 76.74 L596.26 74.25 L596.46 71.78 L596.73 69.34 L597.04 66.96 L597.42 64.66 L597.85 62.42 L598.34 60.25 L598.88 58.14 L599.47 56.09 L600.11 54.1 L600.79 52.18 L601.51 50.31 L602.26 48.49 L603.02 46.73 L603.79 45.03 L604.57 43.38 L605.37 41.77 L606.16 40.21 L606.97 38.69 L607.81 37.21 L608.64 35.75 L609.46 34.32 L610.27 32.91 L611.05 31.52 L611.83 30.14 L612.59 28.76 L613.34 27.33 M543.19 109.08 L544.46 109.25 L545.72 109.43 L546.97 109.61 L548.23 109.8 L549.48 109.98 L550.73 110.17 L551.99 110.36 L553.24 110.54 L554.49 110.72 L555.74 110.89 L557 111.06 L558.25 111.23 L559.51 111.38 L560.76 111.52 L562.02 111.65 L563.27 111.76 L564.53 111.86 L565.79 111.95 L567.05 112.04 L568.32 112.12 L569.59 112.2 L570.87 112.27 L572.15 112.35 L573.44 112.42 L574.75 112.5 L576.06 112.58 L577.38 112.67 L578.71 112.76 L580.06 112.86 L581.41 112.97 L582.78 113.08 L584.15 113.2 L585.54 113.34 L586.93 113.51 L588.33 113.72 L589.73 113.98 L591.12 114.33 L592.51 114.74 L593.91 115.21 L595.32 115.73 L596.74 116.3 L598.19 116.92 L599.66 117.58 L601.15 118.29 L602.66 119.04 L604.19 119.82 L605.75 120.63 L607.33 121.48 L608.94 122.34 L610.57 123.23 L612.22 124.12 L613.89 125.02 L615.6 125.93 L617.34 126.83 L619.11 127.72 L620.92 128.6 L622.78 129.46 L624.69 130.29 L626.64 131.08 L628.65 131.82 L630.72 132.46 L632.84 133.03 L635.01 133.54 L637.22 133.99 L639.48 134.38 L641.77 134.71 L644.09 134.99 L646.43 135.2 L648.78 135.35 L651.14 135.44 L653.49 135.46 L655.83 135.4 L658.15 135.28 L660.44 135.09 L662.69 134.84 L664.91 134.52 L667.09 134.14 L669.23 133.7 L671.33 133.2 L673.38 132.65 L675.38 132.06 L677.33 131.44 L679.23 130.8 L681.09 130.14 L682.9 129.47 L684.68 128.79 L686.41 128.11 L688.1 127.42 L689.75 126.72 L691.37 126.03 L692.95 125.33 L694.51 124.63 L696.05 123.93 L697.56 123.22 L699.06 122.52 L700.53 121.81 L701.98 121.1 L703.42 120.4 L704.85 119.69 L706.27 118.97" fill="none" stroke="#2e2e2e" stroke-width="1.3"/>
<path d="M706.27 118.97 L706.82 116.51 L707.31 114.02 L707.73 111.5 L708.08 108.96 L708.36 106.38 L708.57 103.78 L708.69 101.14 L708.74 98.46 L708.7 95.74 L708.57 92.97 L708.34 90.14 L708 87.23 L707.55 84.24 L707 81.14 L706.28 77.9 L705.37 74.51 L704.22 70.94 L702.76 67.17 L700.93 63.16 L698.65 58.91 L695.83 54.43 L692.39 49.81 L688.32 45.22 L683.75 40.9 L678.9 37.08 L674.04 33.85 L669.35 31.22 L664.89 29.17 L660.72 27.52 L656.82 26.21 L653.14 25.21 L649.66 24.47 L646.33 23.94 L643.15 23.58 L640.08 23.38 L637.11 23.33 L634.23 23.39 L631.42 23.55 L628.68 23.8 L625.99 24.16 L623.36 24.66 L620.79 25.23 L618.26 25.87 L615.78 26.57 L613.34 27.33 L610.91 28 L608.5 28.69 L606.11 29.44 L603.75 30.23 L601.41 31.07 L599.1 31.96 L596.8 32.89 L594.52 33.87 L592.24 34.88 L589.97 35.91 L587.71 36.98 L585.46 38.1 L583.23 39.27 L581.01 40.49 L578.91 41.9 L576.85 43.38 L574.81 44.91 L572.8 46.49 L570.82 48.12 L568.89 49.82 L567.03 51.61 L565.2 53.45 L563.42 55.34 L561.69 57.28 L560 59.28 L558.4 61.36 L556.87 63.5 L555.4 65.69 L554 67.93 L552.66 70.22 L551.39 72.56 L550.2 74.95 L549.09 77.39 L548.07 79.87 L547.15 82.39 L546.31 84.95 L545.56 87.55 L544.91 90.17 L544.35 92.82 L543.89 95.5 L543.52 98.19 L543.3 100.9 L543.2 103.63 L543.19 106.35 L543.19 109.08 L543.29 111.81 L543.5 114.54 L543.8 117.26 L544.2 119.98 L544.63 122.7 L545.13 125.41 L545.73 128.1 L546.42 130.79 L547.21 133.45 L548.1 136.09 L549.08 138.71 L550.15 141.3 L551.31 143.86 L552.57 146.38 L553.91 148.87 L555.35 151.32 L556.87 153.72 L558.47 156.08 L560.17 158.39 L561.94 160.65 L563.8 162.84 L565.74 164.98 L567.75 167.05 L569.84 169.05 L572.01 170.97 L574.24 172.82 L576.53 174.58 L578.88 176.26 L581.29 177.85 L583.75 179.34 L586.26 180.75 L588.82 182.05 L591.41 183.26 L594.04 184.36 L596.7 185.37 L599.39 186.27 L602.11 187.07 L604.84 187.77 L607.59 188.36 L610.35 188.85 L613.11 189.24 L615.89 189.53 L618.66 189.72 L621.43 189.8 L624.19 189.79 L626.95 189.68 L629.68 189.48 L632.41 189.18 L635.11 188.79 L637.79 188.31 L640.45 187.74 L643.06 187.04 L645.64 186.23 L648.18 185.35 L650.68 184.38 L653.14 183.35 L655.56 182.24 L657.93 181.07 L660.26 179.83 L662.53 178.51 L664.76 177.14 L666.94 175.7 L669.06 174.21 L671.14 172.66 L673.16 171.07 L675.13 169.42 L677.06 167.73 L678.93 166.01 L680.76 164.24 L682.53 162.42 L684.25 160.56 L685.91 158.66 L687.51 156.72 L689.07 154.75 L690.57 152.74 L692.01 150.7 L693.4 148.62 L694.73 146.5 L695.99 144.36 L697.2 142.18 L698.35 139.97 L699.47 137.75 L700.54 135.5 L701.55 133.22 L702.49 130.91 L703.38 128.58 L704.2 126.22 L704.95 123.83 L705.64 121.41Z" fill="none" stroke="#1e1e1e" stroke-width="1.7" stroke-linejoin="round"/>
<text x="614.81" y="105.53" text-anchor="middle" class="lb">A</text>
<text x="672.76" y="107.83" text-anchor="middle" class="lb">B</text>
<text x="632.51" y="50.56" text-anchor="middle" class="lb">C</text>
<text x="674.42" y="68.16" text-anchor="middle" class="lb">D</text>
<text x="574.72" y="140.35" text-anchor="middle" class="lb">F</text>
<text x="603.64" y="144.4" text-anchor="middle" class="lb">E</text>
<text x="577.29" y="158.83" text-anchor="middle" class="lb">H</text>
<text x="596.74" y="169.67" text-anchor="middle" class="lb">G</text>
<path d="M531.8 22.7 V189.7 M531.8 189.7 h-6 M531.8 181.35 h-3.2 M531.8 173 h-3.2 M531.8 164.65 h-3.2 M531.8 156.3 h-3.2 M531.8 147.95 h-3.2 M531.8 139.6 h-3.2 M531.8 131.25 h-3.2 M531.8 122.9 h-3.2 M531.8 114.55 h-3.2 M531.8 106.2 h-6 M531.8 97.85 h-3.2 M531.8 89.5 h-3.2 M531.8 81.15 h-3.2 M531.8 72.8 h-3.2 M531.8 64.45 h-3.2 M531.8 56.1 h-3.2 M531.8 47.75 h-3.2 M531.8 39.4 h-3.2 M531.8 31.05 h-3.2 M531.8 22.7 h-6 M543 201.3 H710.4 M543 201.3 v5 M551.37 201.3 v2.8 M559.74 201.3 v2.8 M568.11 201.3 v2.8 M576.48 201.3 v2.8 M584.85 201.3 v2.8 M593.22 201.3 v2.8 M601.59 201.3 v2.8 M609.96 201.3 v2.8 M618.33 201.3 v2.8 M626.7 201.3 v5 M635.07 201.3 v2.8 M643.44 201.3 v2.8 M651.81 201.3 v2.8 M660.18 201.3 v2.8 M668.55 201.3 v2.8 M676.92 201.3 v2.8 M685.29 201.3 v2.8 M693.66 201.3 v2.8 M702.03 201.3 v2.8 M710.4 201.3 v5" fill="none" stroke="#3a3a3a" stroke-width="1.25"/>
<text x="520" y="28.1" text-anchor="end" class="tk">1</text>
<text x="710.7" y="222.9" text-anchor="middle" class="tk">1</text>
<text x="520" y="111.6" text-anchor="end" class="tk">0</text>
<text x="627.6" y="222.9" text-anchor="middle" class="tk">0</text>
<text x="520" y="195.1" text-anchor="end" class="tk">−1</text>
<text x="542.3" y="222.9" text-anchor="middle" class="tk">−1</text>
<path d="M538.57 189.8 H593.87" stroke="#9ccbc3" stroke-width="1.5" fill="none"/>
<path d="M538.57 172.49 L539.51 171.18 L540.44 169.89 L541.38 168.62 L542.32 167.39 L543.26 166.23 L544.19 165.14 L545.13 164.15 L546.07 163.26 L547.01 162.49 L547.94 161.85 L548.88 161.36 L549.82 161.02 L550.75 160.83 L551.69 160.81 L552.63 160.94 L553.57 161.24 L554.5 161.68 L555.44 162.27 L556.38 163 L557.32 163.86 L558.25 164.82 L559.19 165.88 L560.13 167.02 L561.06 168.23 L562 169.49 L562.94 170.78 L563.88 172.08 L564.81 173.39 L565.75 174.68 L566.69 175.95 L567.63 177.18 L568.56 178.37 L569.5 179.5 L570.44 180.57 L571.38 181.58 L572.31 182.51 L573.25 183.38 L574.19 184.17 L575.12 184.9 L576.06 185.55 L577 186.14 L577.94 186.66 L578.87 187.12 L579.81 187.53 L580.75 187.89 L581.69 188.2 L582.62 188.46 L583.56 188.69 L584.5 188.89 L585.43 189.05 L586.37 189.19 L587.31 189.3 L588.25 189.4 L589.18 189.48 L590.12 189.54 L591.06 189.6 L592 189.64 L592.93 189.67 L593.87 189.7" stroke="#55a096" stroke-width="1.6" fill="none"/>
<path d="M551.37 161.8 V165.9 M551.37 169.1 V173 M551.37 175.8 V179.9 M551.37 182.7 V186.8 M564.27 175.8 V179.9 M564.27 182.7 V186.8" stroke="#55a096" stroke-width="1.25" fill="none"/>
<path d="M552.77 189.8 H562.77" stroke="#e8417a" stroke-width="1.3" fill="none"/>
<path d="M550.77 189.8 l3.9 -2.3 v4.6z M564.77 189.8 l-3.9 -2.3 v4.6z" fill="#e8417a"/>
<text x="557.97" y="186.1" text-anchor="middle" font-family="'Liberation Serif', 'DejaVu Serif', serif" font-style="italic" font-size="11.8" fill="#e8417a">ε</text>
<path d="M291.9 261 V429.8 M291.9 429.8 h-6 M291.9 421.36 h-3.2 M291.9 412.92 h-3.2 M291.9 404.48 h-3.2 M291.9 396.04 h-3.2 M291.9 387.6 h-3.2 M291.9 379.16 h-3.2 M291.9 370.72 h-3.2 M291.9 362.28 h-3.2 M291.9 353.84 h-3.2 M291.9 345.4 h-6 M291.9 336.96 h-3.2 M291.9 328.52 h-3.2 M291.9 320.08 h-3.2 M291.9 311.64 h-3.2 M291.9 303.2 h-3.2 M291.9 294.76 h-3.2 M291.9 286.32 h-3.2 M291.9 277.88 h-3.2 M291.9 269.44 h-3.2 M291.9 261 h-6 M303.3 441.7 H471.5 M303.3 441.7 v5 M311.71 441.7 v2.8 M320.12 441.7 v2.8 M328.53 441.7 v2.8 M336.94 441.7 v2.8 M345.35 441.7 v2.8 M353.76 441.7 v2.8 M362.17 441.7 v2.8 M370.58 441.7 v2.8 M378.99 441.7 v2.8 M387.4 441.7 v5 M395.81 441.7 v2.8 M404.22 441.7 v2.8 M412.63 441.7 v2.8 M421.04 441.7 v2.8 M429.45 441.7 v2.8 M437.86 441.7 v2.8 M446.27 441.7 v2.8 M454.68 441.7 v2.8 M463.09 441.7 v2.8 M471.5 441.7 v5" fill="none" stroke="#3a3a3a" stroke-width="1.25"/>
<text x="280.1" y="266.4" text-anchor="end" class="tk">1</text>
<text x="471.8" y="463.3" text-anchor="middle" class="tk">1</text>
<text x="280.1" y="350.8" text-anchor="end" class="tk">0</text>
<text x="388.3" y="463.3" text-anchor="middle" class="tk">0</text>
<text x="280.1" y="435.2" text-anchor="end" class="tk">−1</text>
<text x="302.6" y="463.3" text-anchor="middle" class="tk">−1</text>
<path d="M362.17 269.44 l-5.4 3.5 M378.99 269.44 l-6.9 1.4 M395.81 269.44 l-7.1 -1.2 M412.63 269.44 l-5.4 -3.5 M328.53 286.32 l-2.5 4.8 M345.35 286.32 l-4.6 4.1 M362.17 286.32 l-6.9 3.1 M378.99 286.32 l-9.8 0.6 M395.81 286.32 l-11.4 -3.3 M412.63 286.32 l-7.5 -6.9 M429.45 286.32 l0 -6.2 M446.27 286.32 l2.9 -2.1 M328.53 303.2 l-2.9 3.9 M345.35 303.2 l-5.4 3.7 M362.17 303.2 l-7.7 3.1 M378.99 303.2 l-12.2 2.3 M395.81 303.2 l-15.3 0.4 M412.63 303.2 l-9.3 -1.5 M429.45 303.2 l2.9 -0.6 M446.27 303.2 l6.6 1.9 M311.71 320.08 l-1 3.7 M328.53 320.08 l-3.3 3.3 M345.35 320.08 l-5.2 3.3 M362.17 320.08 l-7.9 3.7 M378.99 320.08 l-12 5 M395.81 320.08 l-15.3 7.9 M412.63 320.08 l-8.7 10.4 M429.45 320.08 l3.9 10.4 M446.27 320.08 l6 8.5 M463.09 320.08 l2.7 6.2 M311.71 336.96 l-1.2 3.1 M328.53 336.96 l-3.3 2.7 M345.35 336.96 l-5.2 2.7 M362.17 336.96 l-6.9 3.3 M378.99 336.96 l-9.1 6 M395.81 336.96 l-10.4 11.2 M412.63 336.96 l-6.4 15.4 M429.45 336.96 l1.4 14.5 M446.27 336.96 l2.5 11.2 M463.09 336.96 l0 7.1 M311.71 353.84 l-1.2 2.3 M328.53 353.84 l-3.3 1.9 M345.35 353.84 l-5 1.9 M362.17 353.84 l-5 2.5 M378.99 353.84 l-5.6 6.2 M395.81 353.84 l-6.2 9.5 M412.63 353.84 l-4.4 12 M429.45 353.84 l-1.4 11.6 M446.27 353.84 l-1 8.7 M463.09 353.84 l-2.1 7.1 M311.71 370.72 l-1.4 1.4 M328.53 370.72 l-3.3 1.4 M345.35 370.72 l-4.2 1.4 M362.17 370.72 l-2.5 2.7 M378.99 370.72 l-2.3 5 M395.81 370.72 l-3.3 6.9 M412.63 370.72 l-3.3 7.9 M429.45 370.72 l-2.9 7.5 M446.27 370.72 l-3.1 6.6 M463.09 370.72 l-4.1 5.2 M328.53 387.6 l-2.9 1.7 M345.35 387.6 l-3.1 2.7 M362.17 387.6 l-1.7 3.9 M378.99 387.6 l-1.5 4.6 M395.81 387.6 l-2.7 4.8 M412.63 387.6 l-3.3 5.2 M429.45 387.6 l-3.7 5.2 M446.27 387.6 l-4.1 4.4 M328.53 404.48 l-1.9 2.1 M345.35 404.48 l-1.7 3.1 M362.17 404.48 l-1.2 3.7 M378.99 404.48 l-1.4 3.9 M395.81 404.48 l-2.3 3.7 M412.63 404.48 l-3.3 3.5 M429.45 404.48 l-4.4 3.1 M446.27 404.48 l-4.8 2.5 M362.17 421.36 l-1.1 1.6 M378.99 421.36 l-1.7 1.3 M395.81 421.36 l-2.4 1.1 M412.63 421.36 l-3.1 1.1" stroke="#9a9a9a" stroke-width="0.7" fill="none"/>
<g fill="#7d7d7d"><circle cx="362.17" cy="269.44" r="1.8"/><circle cx="378.99" cy="269.44" r="1.8"/><circle cx="395.81" cy="269.44" r="1.8"/><circle cx="412.63" cy="269.44" r="1.8"/><circle cx="328.53" cy="286.32" r="1.8"/><circle cx="345.35" cy="286.32" r="1.8"/><circle cx="362.17" cy="286.32" r="1.8"/><circle cx="378.99" cy="286.32" r="1.8"/><circle cx="395.81" cy="286.32" r="1.8"/><circle cx="412.63" cy="286.32" r="1.8"/><circle cx="429.45" cy="286.32" r="1.8"/><circle cx="446.27" cy="286.32" r="1.8"/><circle cx="328.53" cy="303.2" r="1.8"/><circle cx="345.35" cy="303.2" r="1.8"/><circle cx="362.17" cy="303.2" r="1.8"/><circle cx="378.99" cy="303.2" r="1.8"/><circle cx="395.81" cy="303.2" r="1.8"/><circle cx="412.63" cy="303.2" r="1.8"/><circle cx="429.45" cy="303.2" r="1.8"/><circle cx="446.27" cy="303.2" r="1.8"/><circle cx="311.71" cy="320.08" r="1.8"/><circle cx="328.53" cy="320.08" r="1.8"/><circle cx="345.35" cy="320.08" r="1.8"/><circle cx="362.17" cy="320.08" r="1.8"/><circle cx="378.99" cy="320.08" r="1.8"/><circle cx="395.81" cy="320.08" r="1.8"/><circle cx="412.63" cy="320.08" r="1.8"/><circle cx="429.45" cy="320.08" r="1.8"/><circle cx="446.27" cy="320.08" r="1.8"/><circle cx="463.09" cy="320.08" r="1.8"/><circle cx="311.71" cy="336.96" r="1.8"/><circle cx="328.53" cy="336.96" r="1.8"/><circle cx="345.35" cy="336.96" r="1.8"/><circle cx="362.17" cy="336.96" r="1.8"/><circle cx="378.99" cy="336.96" r="1.8"/><circle cx="395.81" cy="336.96" r="1.8"/><circle cx="412.63" cy="336.96" r="1.8"/><circle cx="429.45" cy="336.96" r="1.8"/><circle cx="446.27" cy="336.96" r="1.8"/><circle cx="463.09" cy="336.96" r="1.8"/><circle cx="311.71" cy="353.84" r="1.8"/><circle cx="328.53" cy="353.84" r="1.8"/><circle cx="345.35" cy="353.84" r="1.8"/><circle cx="362.17" cy="353.84" r="1.8"/><circle cx="378.99" cy="353.84" r="1.8"/><circle cx="395.81" cy="353.84" r="1.8"/><circle cx="412.63" cy="353.84" r="1.8"/><circle cx="429.45" cy="353.84" r="1.8"/><circle cx="446.27" cy="353.84" r="1.8"/><circle cx="463.09" cy="353.84" r="1.8"/><circle cx="311.71" cy="370.72" r="1.8"/><circle cx="328.53" cy="370.72" r="1.8"/><circle cx="345.35" cy="370.72" r="1.8"/><circle cx="362.17" cy="370.72" r="1.8"/><circle cx="378.99" cy="370.72" r="1.8"/><circle cx="395.81" cy="370.72" r="1.8"/><circle cx="412.63" cy="370.72" r="1.8"/><circle cx="429.45" cy="370.72" r="1.8"/><circle cx="446.27" cy="370.72" r="1.8"/><circle cx="463.09" cy="370.72" r="1.8"/><circle cx="328.53" cy="387.6" r="1.8"/><circle cx="345.35" cy="387.6" r="1.8"/><circle cx="362.17" cy="387.6" r="1.8"/><circle cx="378.99" cy="387.6" r="1.8"/><circle cx="395.81" cy="387.6" r="1.8"/><circle cx="412.63" cy="387.6" r="1.8"/><circle cx="429.45" cy="387.6" r="1.8"/><circle cx="446.27" cy="387.6" r="1.8"/><circle cx="328.53" cy="404.48" r="1.8"/><circle cx="345.35" cy="404.48" r="1.8"/><circle cx="362.17" cy="404.48" r="1.8"/><circle cx="378.99" cy="404.48" r="1.8"/><circle cx="395.81" cy="404.48" r="1.8"/><circle cx="412.63" cy="404.48" r="1.8"/><circle cx="429.45" cy="404.48" r="1.8"/><circle cx="446.27" cy="404.48" r="1.8"/><circle cx="362.17" cy="421.36" r="1.8"/><circle cx="378.99" cy="421.36" r="1.8"/><circle cx="395.81" cy="421.36" r="1.8"/><circle cx="412.63" cy="421.36" r="1.8"/></g>
<g fill="#45a9e6"><circle cx="356.77" cy="272.94" r="1.8"/><circle cx="372.09" cy="270.84" r="1.8"/><circle cx="388.71" cy="268.24" r="1.8"/><circle cx="407.23" cy="265.94" r="1.8"/><circle cx="326.03" cy="291.12" r="1.8"/><circle cx="340.75" cy="290.42" r="1.8"/><circle cx="355.27" cy="289.42" r="1.8"/><circle cx="369.19" cy="286.92" r="1.8"/><circle cx="384.41" cy="283.02" r="1.8"/><circle cx="405.13" cy="279.42" r="1.8"/><circle cx="429.45" cy="280.12" r="1.8"/><circle cx="449.17" cy="284.22" r="1.8"/><circle cx="325.63" cy="307.1" r="1.8"/><circle cx="339.95" cy="306.9" r="1.8"/><circle cx="354.47" cy="306.3" r="1.8"/><circle cx="366.79" cy="305.5" r="1.8"/><circle cx="380.51" cy="303.6" r="1.8"/><circle cx="403.33" cy="301.7" r="1.8"/><circle cx="432.35" cy="302.6" r="1.8"/><circle cx="452.87" cy="305.1" r="1.8"/><circle cx="310.71" cy="323.78" r="1.8"/><circle cx="325.23" cy="323.38" r="1.8"/><circle cx="340.15" cy="323.38" r="1.8"/><circle cx="354.27" cy="323.78" r="1.8"/><circle cx="366.99" cy="325.08" r="1.8"/><circle cx="380.51" cy="327.98" r="1.8"/><circle cx="403.93" cy="330.48" r="1.8"/><circle cx="433.35" cy="330.48" r="1.8"/><circle cx="452.27" cy="328.58" r="1.8"/><circle cx="465.79" cy="326.28" r="1.8"/><circle cx="310.51" cy="340.06" r="1.8"/><circle cx="325.23" cy="339.66" r="1.8"/><circle cx="340.15" cy="339.66" r="1.8"/><circle cx="355.27" cy="340.26" r="1.8"/><circle cx="369.89" cy="342.96" r="1.8"/><circle cx="385.41" cy="348.16" r="1.8"/><circle cx="406.23" cy="352.36" r="1.8"/><circle cx="430.85" cy="351.46" r="1.8"/><circle cx="448.77" cy="348.16" r="1.8"/><circle cx="463.09" cy="344.06" r="1.8"/><circle cx="310.51" cy="356.14" r="1.8"/><circle cx="325.23" cy="355.74" r="1.8"/><circle cx="340.35" cy="355.74" r="1.8"/><circle cx="357.17" cy="356.34" r="1.8"/><circle cx="373.39" cy="360.04" r="1.8"/><circle cx="389.61" cy="363.34" r="1.8"/><circle cx="408.23" cy="365.84" r="1.8"/><circle cx="428.05" cy="365.44" r="1.8"/><circle cx="445.27" cy="362.54" r="1.8"/><circle cx="460.99" cy="360.94" r="1.8"/><circle cx="310.31" cy="372.12" r="1.8"/><circle cx="325.23" cy="372.12" r="1.8"/><circle cx="341.15" cy="372.12" r="1.8"/><circle cx="359.67" cy="373.42" r="1.8"/><circle cx="376.69" cy="375.72" r="1.8"/><circle cx="392.51" cy="377.62" r="1.8"/><circle cx="409.33" cy="378.62" r="1.8"/><circle cx="426.55" cy="378.22" r="1.8"/><circle cx="443.17" cy="377.32" r="1.8"/><circle cx="458.99" cy="375.92" r="1.8"/><circle cx="325.63" cy="389.3" r="1.8"/><circle cx="342.25" cy="390.3" r="1.8"/><circle cx="360.47" cy="391.5" r="1.8"/><circle cx="377.49" cy="392.2" r="1.8"/><circle cx="393.11" cy="392.4" r="1.8"/><circle cx="409.33" cy="392.8" r="1.8"/><circle cx="425.75" cy="392.8" r="1.8"/><circle cx="442.17" cy="392" r="1.8"/><circle cx="326.63" cy="406.58" r="1.8"/><circle cx="343.65" cy="407.58" r="1.8"/><circle cx="360.97" cy="408.18" r="1.8"/><circle cx="377.59" cy="408.38" r="1.8"/><circle cx="393.51" cy="408.18" r="1.8"/><circle cx="409.33" cy="407.98" r="1.8"/><circle cx="425.05" cy="407.58" r="1.8"/><circle cx="441.47" cy="406.98" r="1.8"/><circle cx="361.07" cy="422.96" r="1.8"/><circle cx="377.29" cy="422.66" r="1.8"/><circle cx="393.41" cy="422.46" r="1.8"/><circle cx="409.53" cy="422.46" r="1.8"/></g>
<text x="0.7" y="12.2" class="pl">(a)</text>
<text x="255.9" y="12.2" class="pl">(c)</text>
<text x="492.7" y="12.2" class="pl">(b)</text>
<text x="0.7" y="252" class="pl">(d)</text>
<text x="255.9" y="252" class="pl">(e)</text>
<text x="492.6" y="252" class="pl">(f)</text>
<text x="47.7" y="18.7" class="mg">pressure</text><text x="47.7" y="32.9" class="mg">start</text>
<text x="540" y="18.7" class="mg">pressure</text><text x="540" y="32.9" class="mg">end</text>
<text x="302.6" y="256.6" font-family="'Liberation Serif', 'DejaVu Serif', serif" font-size="11.8" fill="#3fa2df">push</text>
<text transform="translate(20.3 209.6) scale(1.2 1)" font-family="'DejaVu Math TeX Gyre', 'DejaVu Sans', sans-serif" font-size="17.5" fill="#222">℘</text>
<text x="30" y="218.8" class="sm">0</text>
<text transform="translate(268.4 207.2) scale(1.2 1)" font-family="'DejaVu Math TeX Gyre', 'DejaVu Sans', sans-serif" font-size="17.5" fill="#222">℘</text>
<text x="286.7" y="211.3" text-anchor="middle" class="sm">1</text>
<path d="M281.15 213.9 h11.1" stroke="#333" stroke-width="0.9"/>
<text x="286.7" y="224.5" text-anchor="middle" class="sm">20</text>
<text transform="translate(508.4 207.2) scale(1.2 1)" font-family="'DejaVu Math TeX Gyre', 'DejaVu Sans', sans-serif" font-size="17.5" fill="#222">℘</text>
<text x="526.7" y="211.3" text-anchor="middle" class="sm">1</text>
<path d="M521.15 213.9 h11.1" stroke="#333" stroke-width="0.9"/>
<text x="526.7" y="224.5" text-anchor="middle" class="sm">10</text>
<text transform="translate(16.2 454.4) scale(1.2 1)" font-family="'DejaVu Math TeX Gyre', 'DejaVu Sans', sans-serif" font-size="15" fill="#222">ℳ</text>
<text transform="translate(512.6 454.4) scale(1.2 1)" font-family="'DejaVu Math TeX Gyre', 'DejaVu Sans', sans-serif" font-size="15" fill="#222">ℳ</text>
<text transform="translate(235.3 448.3) scale(1.2 1)" font-family="'DejaVu Math TeX Gyre', 'DejaVu Sans', sans-serif" font-size="17.5" fill="#222">℘</text>
<text x="244.5" y="456.3" class="sm">0</text>
<text x="246.9" y="448.1" font-family="'Liberation Serif', 'DejaVu Serif', serif" font-size="23" fill="#222">→</text>
<text transform="translate(264.4 448.3) scale(1.2 1)" font-family="'DejaVu Math TeX Gyre', 'DejaVu Sans', sans-serif" font-size="17.5" fill="#3fa2df">℘</text>
<text x="270.9" y="456.4" font-family="'Liberation Serif', 'DejaVu Serif', serif" font-size="11.3" fill="#3fa2df">unsc.</text>
<linearGradient id="cb" x1="0" y1="0" x2="0" y2="1"><stop offset="0" stop-color="#cf8fc2"/><stop offset="1" stop-color="#fbeef8"/></linearGradient>
<rect x="725.2" y="54.8" width="6.7" height="109" fill="url(#cb)"/>
<rect x="725.2" y="162.3" width="6.7" height="1.5" fill="#edb6dc"/>
<text x="737" y="62.3" font-family="'Liberation Serif', 'DejaVu Serif', serif" font-size="11.5" fill="#222">8</text>
<text x="737" y="88.4" font-family="'Liberation Serif', 'DejaVu Serif', serif" font-size="11.5" fill="#222">6</text>
<text x="737" y="114.5" font-family="'Liberation Serif', 'DejaVu Serif', serif" font-size="11.5" fill="#222">4</text>
<text x="737" y="140.6" font-family="'Liberation Serif', 'DejaVu Serif', serif" font-size="11.5" fill="#222">2</text>
<text x="737" y="166.7" font-family="'Liberation Serif', 'DejaVu Serif', serif" font-size="11.5" fill="#222">0</text>
<path d="M731.9 58.4 V162.8 M731.9 58.4 h2.3 M731.9 84.5 h2.3 M731.9 110.6 h2.3 M731.9 136.7 h2.3 M731.9 162.8 h2.3" stroke="#555" stroke-width="0.9" fill="none"/>
<text transform="translate(720.3 109) rotate(-90)" text-anchor="middle" font-family="'Liberation Serif', 'DejaVu Serif', serif" font-size="11.5" fill="#222">pressure</text>
</svg>
</body></html>
